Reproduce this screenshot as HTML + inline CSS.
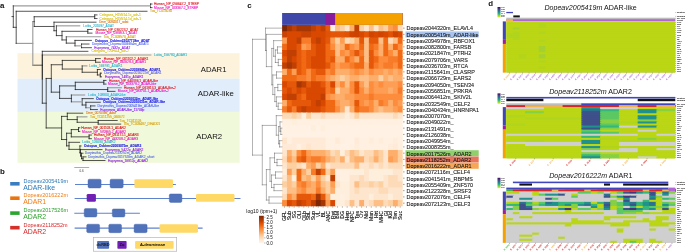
<!DOCTYPE html>
<html><head><meta charset="utf-8"><title>figure</title>
<style>html,body{margin:0;padding:0;background:#fff;overflow:hidden}svg{display:block;filter:blur(0.38px)}</style></head>
<body>
<svg width="685" height="252" viewBox="0 0 685 252">
<rect width="685" height="252" fill="#fff"/>
<rect x="17.5" y="53.2" width="222.1" height="25.5" fill="#fdf3dd"/>
<rect x="17.5" y="78.7" width="222.1" height="33.2" fill="#e1edfa"/>
<rect x="17.5" y="111.9" width="222.1" height="50.9" fill="#f0f9d9"/>
<line x1="150.50" y1="4.00" x2="152.00" y2="4.00" stroke="#151515" stroke-width="0.72" stroke-linecap="square"/>
<line x1="150.50" y1="7.64" x2="152.00" y2="7.64" stroke="#151515" stroke-width="0.72" stroke-linecap="square"/>
<line x1="150.50" y1="4.00" x2="150.50" y2="7.64" stroke="#151515" stroke-width="0.72" stroke-linecap="square"/>
<line x1="13.30" y1="5.82" x2="150.50" y2="5.82" stroke="#9c9c9c" stroke-width="1.15" stroke-linecap="square"/>
<line x1="16.20" y1="11.28" x2="147.00" y2="11.28" stroke="#151515" stroke-width="0.72" stroke-linecap="square"/>
<line x1="94.70" y1="14.92" x2="97.00" y2="14.92" stroke="#151515" stroke-width="0.72" stroke-linecap="square"/>
<line x1="94.70" y1="18.56" x2="97.00" y2="18.56" stroke="#151515" stroke-width="0.72" stroke-linecap="square"/>
<line x1="94.70" y1="14.92" x2="94.70" y2="18.56" stroke="#151515" stroke-width="0.72" stroke-linecap="square"/>
<line x1="34.20" y1="16.74" x2="94.70" y2="16.74" stroke="#151515" stroke-width="0.72" stroke-linecap="square"/>
<line x1="54.00" y1="22.20" x2="96.00" y2="22.20" stroke="#151515" stroke-width="0.72" stroke-linecap="square"/>
<line x1="56.40" y1="25.84" x2="79.70" y2="25.84" stroke="#9c9c9c" stroke-width="1.15" stroke-linecap="square"/>
<line x1="87.80" y1="29.48" x2="92.00" y2="29.48" stroke="#151515" stroke-width="0.72" stroke-linecap="square"/>
<line x1="87.80" y1="33.12" x2="92.00" y2="33.12" stroke="#151515" stroke-width="0.72" stroke-linecap="square"/>
<line x1="87.80" y1="29.48" x2="87.80" y2="33.12" stroke="#151515" stroke-width="0.72" stroke-linecap="square"/>
<line x1="62.00" y1="31.30" x2="87.80" y2="31.30" stroke="#151515" stroke-width="0.72" stroke-linecap="square"/>
<line x1="66.30" y1="36.76" x2="100.70" y2="36.76" stroke="#9c9c9c" stroke-width="1.15" stroke-linecap="square"/>
<line x1="75.00" y1="40.40" x2="91.40" y2="40.40" stroke="#151515" stroke-width="0.72" stroke-linecap="square"/>
<line x1="81.50" y1="44.04" x2="89.00" y2="44.04" stroke="#151515" stroke-width="0.72" stroke-linecap="square"/>
<line x1="81.50" y1="47.68" x2="91.40" y2="47.68" stroke="#151515" stroke-width="0.72" stroke-linecap="square"/>
<line x1="81.50" y1="44.04" x2="81.50" y2="47.68" stroke="#151515" stroke-width="0.72" stroke-linecap="square"/>
<line x1="75.00" y1="45.86" x2="81.50" y2="45.86" stroke="#9c9c9c" stroke-width="1.15" stroke-linecap="square"/>
<line x1="75.00" y1="40.40" x2="75.00" y2="45.86" stroke="#151515" stroke-width="0.72" stroke-linecap="square"/>
<line x1="66.30" y1="43.13" x2="75.00" y2="43.13" stroke="#151515" stroke-width="0.72" stroke-linecap="square"/>
<line x1="66.30" y1="36.76" x2="66.30" y2="43.13" stroke="#151515" stroke-width="0.72" stroke-linecap="square"/>
<line x1="62.00" y1="39.94" x2="66.30" y2="39.94" stroke="#151515" stroke-width="0.72" stroke-linecap="square"/>
<line x1="62.00" y1="31.30" x2="62.00" y2="39.94" stroke="#151515" stroke-width="0.72" stroke-linecap="square"/>
<line x1="56.40" y1="35.62" x2="62.00" y2="35.62" stroke="#151515" stroke-width="0.72" stroke-linecap="square"/>
<line x1="56.40" y1="25.84" x2="56.40" y2="35.62" stroke="#151515" stroke-width="0.72" stroke-linecap="square"/>
<line x1="54.00" y1="30.73" x2="56.40" y2="30.73" stroke="#151515" stroke-width="0.72" stroke-linecap="square"/>
<line x1="54.00" y1="22.20" x2="54.00" y2="30.73" stroke="#151515" stroke-width="0.72" stroke-linecap="square"/>
<line x1="34.20" y1="26.47" x2="54.00" y2="26.47" stroke="#151515" stroke-width="0.72" stroke-linecap="square"/>
<line x1="34.20" y1="16.74" x2="34.20" y2="26.47" stroke="#151515" stroke-width="0.72" stroke-linecap="square"/>
<line x1="32.80" y1="21.60" x2="34.20" y2="21.60" stroke="#151515" stroke-width="0.72" stroke-linecap="square"/>
<line x1="42.30" y1="51.32" x2="87.90" y2="51.32" stroke="#151515" stroke-width="0.72" stroke-linecap="square"/>
<line x1="42.30" y1="54.96" x2="150.80" y2="54.96" stroke="#9c9c9c" stroke-width="1.15" stroke-linecap="square"/>
<line x1="95.60" y1="58.60" x2="100.30" y2="58.60" stroke="#151515" stroke-width="0.72" stroke-linecap="square"/>
<line x1="95.60" y1="62.24" x2="100.30" y2="62.24" stroke="#151515" stroke-width="0.72" stroke-linecap="square"/>
<line x1="95.60" y1="58.60" x2="95.60" y2="62.24" stroke="#151515" stroke-width="0.72" stroke-linecap="square"/>
<line x1="62.30" y1="60.42" x2="95.60" y2="60.42" stroke="#151515" stroke-width="0.72" stroke-linecap="square"/>
<line x1="82.20" y1="65.88" x2="86.90" y2="65.88" stroke="#9c9c9c" stroke-width="1.15" stroke-linecap="square"/>
<line x1="97.40" y1="69.52" x2="100.30" y2="69.52" stroke="#151515" stroke-width="0.72" stroke-linecap="square"/>
<line x1="100.30" y1="73.16" x2="101.50" y2="73.16" stroke="#151515" stroke-width="0.72" stroke-linecap="square"/>
<line x1="100.30" y1="76.80" x2="101.50" y2="76.80" stroke="#151515" stroke-width="0.72" stroke-linecap="square"/>
<line x1="100.30" y1="73.16" x2="100.30" y2="76.80" stroke="#151515" stroke-width="0.72" stroke-linecap="square"/>
<line x1="97.40" y1="74.98" x2="100.30" y2="74.98" stroke="#151515" stroke-width="0.72" stroke-linecap="square"/>
<line x1="97.40" y1="69.52" x2="97.40" y2="74.98" stroke="#151515" stroke-width="0.72" stroke-linecap="square"/>
<line x1="82.20" y1="72.25" x2="97.40" y2="72.25" stroke="#151515" stroke-width="0.72" stroke-linecap="square"/>
<line x1="82.20" y1="65.88" x2="82.20" y2="72.25" stroke="#151515" stroke-width="0.72" stroke-linecap="square"/>
<line x1="62.30" y1="69.06" x2="82.20" y2="69.06" stroke="#151515" stroke-width="0.72" stroke-linecap="square"/>
<line x1="62.30" y1="60.42" x2="62.30" y2="69.06" stroke="#151515" stroke-width="0.72" stroke-linecap="square"/>
<line x1="51.30" y1="64.74" x2="62.30" y2="64.74" stroke="#151515" stroke-width="0.72" stroke-linecap="square"/>
<line x1="103.80" y1="80.44" x2="106.00" y2="80.44" stroke="#151515" stroke-width="0.72" stroke-linecap="square"/>
<line x1="103.80" y1="84.08" x2="106.00" y2="84.08" stroke="#151515" stroke-width="0.72" stroke-linecap="square"/>
<line x1="103.80" y1="80.44" x2="103.80" y2="84.08" stroke="#151515" stroke-width="0.72" stroke-linecap="square"/>
<line x1="75.30" y1="82.26" x2="103.80" y2="82.26" stroke="#151515" stroke-width="0.72" stroke-linecap="square"/>
<line x1="107.70" y1="87.72" x2="121.30" y2="87.72" stroke="#9c9c9c" stroke-width="1.15" stroke-linecap="square"/>
<line x1="107.70" y1="91.36" x2="115.00" y2="91.36" stroke="#151515" stroke-width="0.72" stroke-linecap="square"/>
<line x1="107.70" y1="87.72" x2="107.70" y2="91.36" stroke="#151515" stroke-width="0.72" stroke-linecap="square"/>
<line x1="75.30" y1="89.54" x2="107.70" y2="89.54" stroke="#151515" stroke-width="0.72" stroke-linecap="square"/>
<line x1="75.30" y1="82.26" x2="75.30" y2="89.54" stroke="#151515" stroke-width="0.72" stroke-linecap="square"/>
<line x1="59.60" y1="85.90" x2="75.30" y2="85.90" stroke="#151515" stroke-width="0.72" stroke-linecap="square"/>
<line x1="71.40" y1="95.00" x2="84.60" y2="95.00" stroke="#9c9c9c" stroke-width="1.15" stroke-linecap="square"/>
<line x1="82.20" y1="98.64" x2="93.30" y2="98.64" stroke="#151515" stroke-width="0.72" stroke-linecap="square"/>
<line x1="85.90" y1="102.28" x2="100.30" y2="102.28" stroke="#151515" stroke-width="0.72" stroke-linecap="square"/>
<line x1="90.60" y1="105.92" x2="95.00" y2="105.92" stroke="#151515" stroke-width="0.72" stroke-linecap="square"/>
<line x1="90.60" y1="109.56" x2="97.40" y2="109.56" stroke="#151515" stroke-width="0.72" stroke-linecap="square"/>
<line x1="90.60" y1="105.92" x2="90.60" y2="109.56" stroke="#151515" stroke-width="0.72" stroke-linecap="square"/>
<line x1="85.90" y1="107.74" x2="90.60" y2="107.74" stroke="#9c9c9c" stroke-width="1.15" stroke-linecap="square"/>
<line x1="85.90" y1="102.28" x2="85.90" y2="107.74" stroke="#151515" stroke-width="0.72" stroke-linecap="square"/>
<line x1="82.20" y1="105.01" x2="85.90" y2="105.01" stroke="#151515" stroke-width="0.72" stroke-linecap="square"/>
<line x1="82.20" y1="98.64" x2="82.20" y2="105.01" stroke="#151515" stroke-width="0.72" stroke-linecap="square"/>
<line x1="71.40" y1="101.83" x2="82.20" y2="101.83" stroke="#9c9c9c" stroke-width="1.15" stroke-linecap="square"/>
<line x1="71.40" y1="95.00" x2="71.40" y2="101.83" stroke="#151515" stroke-width="0.72" stroke-linecap="square"/>
<line x1="59.60" y1="98.41" x2="71.40" y2="98.41" stroke="#151515" stroke-width="0.72" stroke-linecap="square"/>
<line x1="59.60" y1="85.90" x2="59.60" y2="98.41" stroke="#151515" stroke-width="0.72" stroke-linecap="square"/>
<line x1="51.30" y1="92.16" x2="59.60" y2="92.16" stroke="#151515" stroke-width="0.72" stroke-linecap="square"/>
<line x1="51.30" y1="64.74" x2="51.30" y2="92.16" stroke="#151515" stroke-width="0.72" stroke-linecap="square"/>
<line x1="46.20" y1="78.45" x2="51.30" y2="78.45" stroke="#151515" stroke-width="0.72" stroke-linecap="square"/>
<line x1="67.30" y1="113.20" x2="82.70" y2="113.20" stroke="#151515" stroke-width="0.72" stroke-linecap="square"/>
<line x1="77.20" y1="116.84" x2="86.90" y2="116.84" stroke="#9c9c9c" stroke-width="1.15" stroke-linecap="square"/>
<line x1="98.20" y1="120.48" x2="117.20" y2="120.48" stroke="#151515" stroke-width="0.72" stroke-linecap="square"/>
<line x1="98.20" y1="124.12" x2="120.70" y2="124.12" stroke="#151515" stroke-width="0.72" stroke-linecap="square"/>
<line x1="98.20" y1="120.48" x2="98.20" y2="124.12" stroke="#151515" stroke-width="0.72" stroke-linecap="square"/>
<line x1="77.20" y1="122.30" x2="98.20" y2="122.30" stroke="#151515" stroke-width="0.72" stroke-linecap="square"/>
<line x1="77.20" y1="116.84" x2="77.20" y2="122.30" stroke="#151515" stroke-width="0.72" stroke-linecap="square"/>
<line x1="67.30" y1="119.57" x2="77.20" y2="119.57" stroke="#151515" stroke-width="0.72" stroke-linecap="square"/>
<line x1="67.30" y1="113.20" x2="67.30" y2="119.57" stroke="#151515" stroke-width="0.72" stroke-linecap="square"/>
<line x1="61.60" y1="116.39" x2="67.30" y2="116.39" stroke="#151515" stroke-width="0.72" stroke-linecap="square"/>
<line x1="78.50" y1="127.76" x2="79.80" y2="127.76" stroke="#151515" stroke-width="0.72" stroke-linecap="square"/>
<line x1="78.50" y1="131.40" x2="79.80" y2="131.40" stroke="#151515" stroke-width="0.72" stroke-linecap="square"/>
<line x1="78.50" y1="127.76" x2="78.50" y2="131.40" stroke="#151515" stroke-width="0.72" stroke-linecap="square"/>
<line x1="71.30" y1="129.58" x2="78.50" y2="129.58" stroke="#151515" stroke-width="0.72" stroke-linecap="square"/>
<line x1="89.10" y1="135.04" x2="91.40" y2="135.04" stroke="#151515" stroke-width="0.72" stroke-linecap="square"/>
<line x1="89.10" y1="138.68" x2="91.40" y2="138.68" stroke="#151515" stroke-width="0.72" stroke-linecap="square"/>
<line x1="89.10" y1="135.04" x2="89.10" y2="138.68" stroke="#151515" stroke-width="0.72" stroke-linecap="square"/>
<line x1="71.30" y1="136.86" x2="89.10" y2="136.86" stroke="#151515" stroke-width="0.72" stroke-linecap="square"/>
<line x1="71.30" y1="129.58" x2="71.30" y2="136.86" stroke="#151515" stroke-width="0.72" stroke-linecap="square"/>
<line x1="66.60" y1="133.22" x2="71.30" y2="133.22" stroke="#151515" stroke-width="0.72" stroke-linecap="square"/>
<line x1="69.00" y1="142.32" x2="79.60" y2="142.32" stroke="#151515" stroke-width="0.72" stroke-linecap="square"/>
<line x1="79.90" y1="145.96" x2="81.00" y2="145.96" stroke="#151515" stroke-width="0.72" stroke-linecap="square"/>
<line x1="80.50" y1="149.60" x2="102.00" y2="149.60" stroke="#151515" stroke-width="0.72" stroke-linecap="square"/>
<line x1="81.50" y1="153.24" x2="83.00" y2="153.24" stroke="#151515" stroke-width="0.72" stroke-linecap="square"/>
<line x1="83.00" y1="156.88" x2="86.00" y2="156.88" stroke="#151515" stroke-width="0.72" stroke-linecap="square"/>
<line x1="83.00" y1="160.52" x2="105.00" y2="160.52" stroke="#151515" stroke-width="0.72" stroke-linecap="square"/>
<line x1="83.00" y1="156.88" x2="83.00" y2="160.52" stroke="#151515" stroke-width="0.72" stroke-linecap="square"/>
<line x1="81.50" y1="158.70" x2="83.00" y2="158.70" stroke="#151515" stroke-width="0.72" stroke-linecap="square"/>
<line x1="81.50" y1="153.24" x2="81.50" y2="158.70" stroke="#151515" stroke-width="0.72" stroke-linecap="square"/>
<line x1="80.50" y1="155.97" x2="81.50" y2="155.97" stroke="#151515" stroke-width="0.72" stroke-linecap="square"/>
<line x1="80.50" y1="149.60" x2="80.50" y2="155.97" stroke="#151515" stroke-width="0.72" stroke-linecap="square"/>
<line x1="79.90" y1="152.78" x2="80.50" y2="152.78" stroke="#151515" stroke-width="0.72" stroke-linecap="square"/>
<line x1="79.90" y1="145.96" x2="79.90" y2="152.78" stroke="#151515" stroke-width="0.72" stroke-linecap="square"/>
<line x1="69.00" y1="149.37" x2="79.90" y2="149.37" stroke="#151515" stroke-width="0.72" stroke-linecap="square"/>
<line x1="69.00" y1="142.32" x2="69.00" y2="149.37" stroke="#151515" stroke-width="0.72" stroke-linecap="square"/>
<line x1="66.60" y1="145.85" x2="69.00" y2="145.85" stroke="#151515" stroke-width="0.72" stroke-linecap="square"/>
<line x1="66.60" y1="133.22" x2="66.60" y2="145.85" stroke="#151515" stroke-width="0.72" stroke-linecap="square"/>
<line x1="61.60" y1="139.53" x2="66.60" y2="139.53" stroke="#151515" stroke-width="0.72" stroke-linecap="square"/>
<line x1="61.60" y1="116.39" x2="61.60" y2="139.53" stroke="#151515" stroke-width="0.72" stroke-linecap="square"/>
<line x1="46.20" y1="127.96" x2="61.60" y2="127.96" stroke="#151515" stroke-width="0.72" stroke-linecap="square"/>
<line x1="46.20" y1="78.45" x2="46.20" y2="127.96" stroke="#151515" stroke-width="0.72" stroke-linecap="square"/>
<line x1="42.30" y1="103.20" x2="46.20" y2="103.20" stroke="#151515" stroke-width="0.72" stroke-linecap="square"/>
<line x1="42.30" y1="54.96" x2="42.30" y2="103.20" stroke="#151515" stroke-width="0.72" stroke-linecap="square"/>
<line x1="42.30" y1="51.32" x2="42.30" y2="79.08" stroke="#151515" stroke-width="0.72" stroke-linecap="square"/>
<line x1="32.80" y1="65.20" x2="42.30" y2="65.20" stroke="#151515" stroke-width="0.72" stroke-linecap="square"/>
<line x1="32.80" y1="21.60" x2="32.80" y2="65.20" stroke="#9c9c9c" stroke-width="1.15" stroke-linecap="square"/>
<line x1="16.20" y1="43.40" x2="32.80" y2="43.40" stroke="#9c9c9c" stroke-width="1.15" stroke-linecap="square"/>
<line x1="16.20" y1="11.28" x2="16.20" y2="43.40" stroke="#151515" stroke-width="0.72" stroke-linecap="square"/>
<line x1="13.30" y1="27.34" x2="16.20" y2="27.34" stroke="#151515" stroke-width="0.72" stroke-linecap="square"/>
<line x1="13.30" y1="5.82" x2="13.30" y2="27.34" stroke="#151515" stroke-width="0.72" stroke-linecap="square"/>
<line x1="12.00" y1="16.58" x2="13.30" y2="16.58" stroke="#151515" stroke-width="0.72" stroke-linecap="square"/>
<text x="154" y="5.10" font-size="3.25" fill="#e0141e" stroke="#e0141e" stroke-width="0.1" font-family="Liberation Sans, sans-serif">Human_NP_056647.2_STRBP</text>
<text x="154" y="8.74" font-size="3.25" fill="#e81cc4" stroke="#e81cc4" stroke-width="0.1" font-family="Liberation Sans, sans-serif">Mouse_NP_033367.2_STRBP</text>
<text x="150" y="12.38" font-size="3.25" fill="#d9a514" stroke="#d9a514" stroke-width="0.1" font-family="Liberation Sans, sans-serif">Tca_TC013030</text>
<text x="99.6" y="16.02" font-size="3.25" fill="#d8c41a" stroke="#d8c41a" stroke-width="0.1" font-family="Liberation Sans, sans-serif">Celegans_H15N14.1c_adr-1</text>
<text x="99.6" y="19.66" font-size="3.25" fill="#d8c41a" stroke="#d8c41a" stroke-width="0.1" font-family="Liberation Sans, sans-serif">Celegans_H15N14.1d_adr-1</text>
<text x="99" y="23.30" font-size="3.25" fill="#e0802a" stroke="#e0802a" stroke-width="0.1" font-family="Liberation Sans, sans-serif">Dme_0084017_adat</text>
<text x="83.2" y="26.94" font-size="3.25" fill="#2fb6cf" stroke="#2fb6cf" stroke-width="0.1" font-family="Liberation Sans, sans-serif">Lottia_201097_ADAT</text>
<text x="96" y="30.58" font-size="3.25" fill="#e0141e" stroke="#e0141e" stroke-width="0.1" font-family="Liberation Sans, sans-serif">Human_NP_036223.2_ADAT</text>
<text x="95.5" y="34.22" font-size="3.25" fill="#e81cc4" stroke="#e81cc4" stroke-width="0.1" font-family="Liberation Sans, sans-serif">Mouse_NP_038953.1_ADAT</text>
<text x="103.7" y="37.86" font-size="3.25" fill="#d9a514" stroke="#d9a514" stroke-width="0.1" font-family="Liberation Sans, sans-serif">Tca_TC009570_ADAT</text>
<text x="94.9" y="41.50" font-size="3.25" font-weight="bold" fill="#1c1ce6" stroke="#1c1ce6" stroke-width="0.1" font-family="Liberation Sans, sans-serif">Octopus_Ocbimv22027738m_ADAT</text>
<text x="92" y="45.14" font-size="3.25" fill="#5a6ee6" stroke="#5a6ee6" stroke-width="0.1" font-family="Liberation Sans, sans-serif">Doryteuthis_Dopeav2006654m_ADAT1</text>
<text x="94.3" y="48.78" font-size="3.25" fill="#8e1ee0" stroke="#8e1ee0" stroke-width="0.1" font-family="Liberation Sans, sans-serif">Euprymna_7432p_ADAT</text>
<text x="91.4" y="52.42" font-size="3.25" fill="#d8c41a" stroke="#d8c41a" stroke-width="0.1" font-family="Liberation Sans, sans-serif">Celegans_T20H4.4_adr-2</text>
<text x="153.9" y="56.06" font-size="3.25" fill="#2fb6cf" stroke="#2fb6cf" stroke-width="0.1" font-family="Liberation Sans, sans-serif">Lottia_156780_ADAR1</text>
<text x="103.8" y="59.70" font-size="3.25" fill="#e0141e" stroke="#e0141e" stroke-width="0.1" font-family="Liberation Sans, sans-serif">Human_NP_001102.2_ADAR1</text>
<text x="102" y="63.34" font-size="3.25" fill="#e81cc4" stroke="#e81cc4" stroke-width="0.1" font-family="Liberation Sans, sans-serif">Mouse_NP_062629.3_ADAR1</text>
<text x="89.2" y="66.98" font-size="3.25" fill="#2fb6cf" stroke="#2fb6cf" stroke-width="0.1" font-family="Liberation Sans, sans-serif">Lottia_169791_ADAR1</text>
<text x="103.2" y="70.62" font-size="3.25" font-weight="bold" fill="#1c1ce6" stroke="#1c1ce6" stroke-width="0.1" font-family="Liberation Sans, sans-serif">Octopus_Ocbimv22018842m_ADAR1</text>
<text x="104.2" y="74.26" font-size="3.25" fill="#5a6ee6" stroke="#5a6ee6" stroke-width="0.1" font-family="Liberation Sans, sans-serif">Doryteuthis_Dopeav2016222m_ADAR1</text>
<text x="105" y="77.90" font-size="3.25" fill="#8e1ee0" stroke="#8e1ee0" stroke-width="0.1" font-family="Liberation Sans, sans-serif">Euprymna_1491p_ADAR1</text>
<text x="109" y="81.54" font-size="3.25" fill="#e0141e" stroke="#e0141e" stroke-width="0.1" font-family="Liberation Sans, sans-serif">Human_NP_640336.1_ADAR-like</text>
<text x="108" y="85.18" font-size="3.25" fill="#e81cc4" stroke="#e81cc4" stroke-width="0.1" font-family="Liberation Sans, sans-serif">Mouse_NP_033379.2_ADAR-like</text>
<text x="124" y="88.82" font-size="3.25" fill="#e0141e" stroke="#e0141e" stroke-width="0.1" font-family="Liberation Sans, sans-serif">Human_NP_061913.3_ADAR-like-2</text>
<text x="117.8" y="92.46" font-size="3.25" fill="#e81cc4" stroke="#e81cc4" stroke-width="0.1" font-family="Liberation Sans, sans-serif">Mouse_NP_083701.1_ADAR-like-2</text>
<text x="88.1" y="96.10" font-size="3.25" fill="#2fb6cf" stroke="#2fb6cf" stroke-width="0.1" font-family="Liberation Sans, sans-serif">Lottia_108800_ADAR-like</text>
<text x="96.2" y="99.74" font-size="3.25" font-weight="bold" fill="#1c1ce6" stroke="#1c1ce6" stroke-width="0.1" font-family="Liberation Sans, sans-serif">Octopus_Ocbimv22010032m_ADAR-like</text>
<text x="103.2" y="103.38" font-size="3.25" font-weight="bold" fill="#1c1ce6" stroke="#1c1ce6" stroke-width="0.1" font-family="Liberation Sans, sans-serif">Octopus_Ocbimv22010031m_ADAR-like</text>
<text x="97.4" y="107.02" font-size="3.25" fill="#5a6ee6" stroke="#5a6ee6" stroke-width="0.1" font-family="Liberation Sans, sans-serif">Doryteuthis_Dopeav2005419m_ADAR-like</text>
<text x="100.3" y="110.66" font-size="3.25" fill="#8e1ee0" stroke="#8e1ee0" stroke-width="0.1" font-family="Liberation Sans, sans-serif">Euprymna_ADAR-like_11709p</text>
<text x="86" y="114.30" font-size="3.25" fill="#e0802a" stroke="#e0802a" stroke-width="0.1" font-family="Liberation Sans, sans-serif">Dme_0070396_Adar</text>
<text x="90.1" y="117.94" font-size="3.25" fill="#d9a514" stroke="#d9a514" stroke-width="0.1" font-family="Liberation Sans, sans-serif">Tca_TC011255_060672</text>
<text x="119.8" y="121.58" font-size="3.25" fill="#d9a514" stroke="#d9a514" stroke-width="0.1" font-family="Liberation Sans, sans-serif">Tca_TC011126</text>
<text x="123.7" y="125.22" font-size="3.25" fill="#d9a514" stroke="#d9a514" stroke-width="0.1" font-family="Liberation Sans, sans-serif">Tca_TC009497_DEAD01</text>
<text x="81.2" y="128.86" font-size="3.25" fill="#e0141e" stroke="#e0141e" stroke-width="0.1" font-family="Liberation Sans, sans-serif">Human_NP_001103.1_ADAR2</text>
<text x="82" y="132.50" font-size="3.25" fill="#e81cc4" stroke="#e81cc4" stroke-width="0.1" font-family="Liberation Sans, sans-serif">Mouse_NP_570965.2_ADAR2</text>
<text x="94" y="136.14" font-size="3.25" fill="#e0141e" stroke="#e0141e" stroke-width="0.1" font-family="Liberation Sans, sans-serif">Human_NP_061172.1_ADAR3</text>
<text x="94" y="139.78" font-size="3.25" fill="#e81cc4" stroke="#e81cc4" stroke-width="0.1" font-family="Liberation Sans, sans-serif">Mouse_NP_443209.2_ADAR3</text>
<text x="82.2" y="143.42" font-size="3.25" fill="#2fb6cf" stroke="#2fb6cf" stroke-width="0.1" font-family="Liberation Sans, sans-serif">Lottia_126080_ADAR2</text>
<text x="84" y="147.06" font-size="3.25" font-weight="bold" fill="#1c1ce6" stroke="#1c1ce6" stroke-width="0.1" font-family="Liberation Sans, sans-serif">Octopus_Ocbimv22009075m_ADAR2</text>
<text x="105" y="150.70" font-size="3.25" fill="#8e1ee0" stroke="#8e1ee0" stroke-width="0.1" font-family="Liberation Sans, sans-serif">Euprymna_5422p_ADAR2</text>
<text x="84.8" y="154.34" font-size="3.25" fill="#5a6ee6" stroke="#5a6ee6" stroke-width="0.1" font-family="Liberation Sans, sans-serif">Doryteuthis_Dopeav2118252m_ADAR2</text>
<text x="88" y="157.98" font-size="3.25" fill="#5a6ee6" stroke="#5a6ee6" stroke-width="0.1" font-family="Liberation Sans, sans-serif">Doryteuthis_Dopeav2017526m_ADAR2_short</text>
<text x="107.9" y="161.62" font-size="3.25" fill="#8e1ee0" stroke="#8e1ee0" stroke-width="0.1" font-family="Liberation Sans, sans-serif">Euprymna_16812p_ADAR2</text>
<text x="200.8" y="71.9" font-size="7.7" fill="#111" font-family="Liberation Sans, sans-serif">ADAR1</text>
<text x="197.8" y="95.7" font-size="7.8" fill="#111" font-family="Liberation Sans, sans-serif">ADAR-like</text>
<text x="196.2" y="138.9" font-size="7.8" fill="#111" font-family="Liberation Sans, sans-serif">ADAR2</text>
<text x="0" y="8.2" font-size="7.9" font-weight="bold" fill="#111" font-family="Liberation Sans, sans-serif">a</text>
<text x="0" y="173.6" font-size="7.9" font-weight="bold" fill="#111" font-family="Liberation Sans, sans-serif">b</text>
<text x="247.2" y="8.2" font-size="7.9" font-weight="bold" fill="#111" font-family="Liberation Sans, sans-serif">c</text>
<text x="488.2" y="6.2" font-size="7.9" font-weight="bold" fill="#111" font-family="Liberation Sans, sans-serif">d</text>
<line x1="74.3" y1="167.5" x2="89.2" y2="167.5" stroke="#8a8a8a" stroke-width="0.7"/>
<text x="81.6" y="172" font-size="3.0" text-anchor="middle" fill="#333" font-family="Liberation Sans, sans-serif">0.6</text>
<rect x="10.2" y="182.0" width="9.4" height="3.6" fill="#3a7ec2"/>
<text x="23.5" y="183.0" font-size="5.45" fill="#2878b8" font-family="Liberation Sans, sans-serif">Dopeav2005419m</text>
<text x="23.2" y="189.8" font-size="6.9" fill="#2878b8" font-family="Liberation Sans, sans-serif">ADAR-like</text>
<rect x="10.2" y="196.4" width="9.4" height="3.6" fill="#ea740e"/>
<text x="23.5" y="197.4" font-size="5.45" fill="#f07c10" font-family="Liberation Sans, sans-serif">Dopeav2016222m</text>
<text x="23.2" y="204.2" font-size="6.9" fill="#f07c10" font-family="Liberation Sans, sans-serif">ADAR1</text>
<rect x="10.2" y="211.3" width="9.4" height="3.6" fill="#2aa62e"/>
<text x="23.5" y="212.3" font-size="5.45" fill="#2ca02c" font-family="Liberation Sans, sans-serif">Dopeav2017526m</text>
<text x="23.2" y="219.1" font-size="6.9" fill="#2ca02c" font-family="Liberation Sans, sans-serif">ADAR2</text>
<rect x="10.2" y="225.9" width="9.4" height="3.6" fill="#d6302a"/>
<text x="23.5" y="226.9" font-size="5.45" fill="#d62728" font-family="Liberation Sans, sans-serif">Dopeav2118252m</text>
<text x="23.2" y="233.7" font-size="6.9" fill="#d62728" font-family="Liberation Sans, sans-serif">ADAR2</text>
<line x1="75" y1="184.5" x2="175.9" y2="184.5" stroke="#5f82cf" stroke-width="1.1"/>
<rect x="88" y="179.2" width="13.1" height="8.8" rx="1.4" fill="#4f72ba" stroke="#4565a8" stroke-width="0.4"/>
<rect x="110.1" y="179.2" width="13.1" height="8.8" rx="1.4" fill="#4f72ba" stroke="#4565a8" stroke-width="0.4"/>
<rect x="134.4" y="179.2" width="38.6" height="8.8" rx="1.4" fill="#ffd966"/>
<line x1="74.6" y1="198.5" x2="240.5" y2="198.5" stroke="#5f82cf" stroke-width="1.1"/>
<rect x="86.7" y="193.9" width="9.2" height="7.9" rx="1.4" fill="#7020b2"/>
<rect x="169.3" y="193.9" width="12.6" height="8.5" rx="1.4" fill="#4f72ba" stroke="#4565a8" stroke-width="0.4"/>
<rect x="196" y="193.9" width="38.5" height="7.9" rx="1.4" fill="#ffd966"/>
<line x1="74.3" y1="213.3" x2="139.9" y2="213.3" stroke="#5f82cf" stroke-width="1.1"/>
<rect x="84.2" y="208.6" width="12.7" height="8.4" rx="1.4" fill="#4f72ba" stroke="#4565a8" stroke-width="0.4"/>
<rect x="112.3" y="208.9" width="12.6" height="8.1" rx="1.4" fill="#4f72ba" stroke="#4565a8" stroke-width="0.4"/>
<line x1="74.6" y1="228.1" x2="202.6" y2="228.1" stroke="#5f82cf" stroke-width="1.1"/>
<rect x="86.7" y="224.2" width="12.9" height="8.5" rx="1.4" fill="#4f72ba" stroke="#4565a8" stroke-width="0.4"/>
<rect x="108.8" y="224.2" width="12.7" height="8.5" rx="1.4" fill="#4f72ba" stroke="#4565a8" stroke-width="0.4"/>
<rect x="134.1" y="224.2" width="13.0" height="8.5" rx="1.4" fill="#4f72ba" stroke="#4565a8" stroke-width="0.4"/>
<rect x="159.5" y="224.2" width="38.5" height="8.5" rx="1.4" fill="#ffd966"/>
<rect x="93.3" y="237.3" width="83.4" height="13.9" fill="#fff" stroke="#a8a8a8" stroke-width="0.6"/>
<rect x="97.1" y="241" width="12" height="7.7" rx="0.8" fill="#4f72ba"/>
<text x="103.1" y="246.3" font-size="3.9" font-weight="bold" text-anchor="middle" fill="#1a1a2a" font-family="Liberation Sans, sans-serif">dsRBD</text>
<rect x="117.4" y="241" width="9.2" height="7.7" rx="0.8" fill="#7020b2"/>
<text x="122" y="246.3" font-size="3.9" font-weight="bold" text-anchor="middle" fill="#1a0a2a" font-family="Liberation Sans, sans-serif">Zα</text>
<rect x="135.1" y="241" width="38.5" height="7.7" rx="0.8" fill="#ffd966"/>
<text x="152.6" y="246.4" font-size="4.3" text-anchor="middle" fill="#111" stroke="#111" stroke-width="0.1" font-family="Liberation Sans, sans-serif">A-deaminase</text>
<rect x="282.1" y="13" width="120.5" height="11.9" fill="#3f48a8"/>
<rect x="325.48" y="13" width="77.12" height="11.9" fill="#8a1b9a"/>
<rect x="335.12" y="13" width="67.48" height="11.9" fill="#f5a200"/>
<rect x="282.1" y="25.0" width="120.5" height="181.3" fill="#fff5eb"/>
<rect x="282.10" y="25.00" width="5.82" height="7.25" fill="#7f2704"/>
<rect x="286.92" y="25.00" width="5.82" height="7.25" fill="#a63603"/>
<rect x="291.74" y="25.00" width="5.82" height="7.25" fill="#c03f02"/>
<rect x="296.56" y="25.00" width="15.46" height="7.25" fill="#a63603"/>
<rect x="311.02" y="25.00" width="5.82" height="7.25" fill="#c03f02"/>
<rect x="315.84" y="25.00" width="5.82" height="7.25" fill="#d94801"/>
<rect x="320.66" y="25.00" width="5.82" height="7.25" fill="#c03f02"/>
<rect x="325.48" y="25.00" width="5.82" height="7.25" fill="#e5580a"/>
<rect x="330.30" y="25.00" width="5.82" height="7.25" fill="#feeedc"/>
<rect x="335.12" y="25.00" width="5.82" height="7.25" fill="#fdbf86"/>
<rect x="339.94" y="25.00" width="5.82" height="7.25" fill="#fdd0a2"/>
<rect x="344.76" y="25.00" width="5.82" height="7.25" fill="#fee6ce"/>
<rect x="349.58" y="25.00" width="5.82" height="7.25" fill="#fdae6b"/>
<rect x="354.40" y="25.00" width="5.82" height="7.25" fill="#c03f02"/>
<rect x="359.22" y="25.00" width="5.82" height="7.25" fill="#fdd0a2"/>
<rect x="364.04" y="25.00" width="5.82" height="7.25" fill="#fee6ce"/>
<rect x="368.86" y="25.00" width="5.82" height="7.25" fill="#fdbf86"/>
<rect x="373.68" y="25.00" width="5.82" height="7.25" fill="#fee6ce"/>
<rect x="378.50" y="25.00" width="5.82" height="7.25" fill="#fdbf86"/>
<rect x="383.32" y="25.00" width="5.82" height="7.25" fill="#fdd0a2"/>
<rect x="388.14" y="25.00" width="5.82" height="7.25" fill="#fd9e54"/>
<rect x="392.96" y="25.00" width="5.82" height="7.25" fill="#fd8d3c"/>
<rect x="397.78" y="25.00" width="4.82" height="7.25" fill="#fedbb8"/>
<rect x="282.10" y="31.25" width="5.82" height="7.25" fill="#ca4302"/>
<rect x="286.92" y="31.25" width="15.46" height="7.25" fill="#d94801"/>
<rect x="301.38" y="31.25" width="10.64" height="7.25" fill="#ca4302"/>
<rect x="311.02" y="31.25" width="15.46" height="7.25" fill="#d94801"/>
<rect x="325.48" y="31.25" width="5.82" height="7.25" fill="#e05206"/>
<rect x="330.30" y="31.25" width="15.46" height="7.25" fill="#e35508"/>
<rect x="344.76" y="31.25" width="5.82" height="7.25" fill="#e05206"/>
<rect x="349.58" y="31.25" width="5.82" height="7.25" fill="#cf4401"/>
<rect x="354.40" y="31.25" width="5.82" height="7.25" fill="#ca4302"/>
<rect x="359.22" y="31.25" width="5.82" height="7.25" fill="#d94801"/>
<rect x="364.04" y="31.25" width="5.82" height="7.25" fill="#e35508"/>
<rect x="368.86" y="31.25" width="5.82" height="7.25" fill="#cf4401"/>
<rect x="373.68" y="31.25" width="5.82" height="7.25" fill="#d94801"/>
<rect x="378.50" y="31.25" width="5.82" height="7.25" fill="#cf4401"/>
<rect x="383.32" y="31.25" width="5.82" height="7.25" fill="#d94801"/>
<rect x="388.14" y="31.25" width="5.82" height="7.25" fill="#e05206"/>
<rect x="392.96" y="31.25" width="5.82" height="7.25" fill="#ca4302"/>
<rect x="397.78" y="31.25" width="4.82" height="7.25" fill="#d94801"/>
<rect x="282.10" y="37.50" width="5.82" height="7.25" fill="#fd9e54"/>
<rect x="286.92" y="37.50" width="10.64" height="7.25" fill="#d94801"/>
<rect x="296.56" y="37.50" width="5.82" height="7.25" fill="#c03f02"/>
<rect x="301.38" y="37.50" width="10.64" height="7.25" fill="#f77b28"/>
<rect x="311.02" y="37.50" width="5.82" height="7.25" fill="#d94801"/>
<rect x="315.84" y="37.50" width="5.82" height="7.25" fill="#c03f02"/>
<rect x="320.66" y="37.50" width="5.82" height="7.25" fill="#d94801"/>
<rect x="325.48" y="37.50" width="5.82" height="7.25" fill="#e5580a"/>
<rect x="330.30" y="37.50" width="5.82" height="7.25" fill="#fd9e54"/>
<rect x="335.12" y="37.50" width="5.82" height="7.25" fill="#fdd0a2"/>
<rect x="339.94" y="37.50" width="5.82" height="7.25" fill="#fd9e54"/>
<rect x="344.76" y="37.50" width="5.82" height="7.25" fill="#fedbb8"/>
<rect x="349.58" y="37.50" width="5.82" height="7.25" fill="#fdd0a2"/>
<rect x="354.40" y="37.50" width="5.82" height="7.25" fill="#fdae6b"/>
<rect x="359.22" y="37.50" width="5.82" height="7.25" fill="#e5580a"/>
<rect x="364.04" y="37.50" width="5.82" height="7.25" fill="#fdbf86"/>
<rect x="368.86" y="37.50" width="10.64" height="7.25" fill="#e5580a"/>
<rect x="378.50" y="37.50" width="5.82" height="7.25" fill="#fdbf86"/>
<rect x="383.32" y="37.50" width="5.82" height="7.25" fill="#f16913"/>
<rect x="388.14" y="37.50" width="5.82" height="7.25" fill="#fedbb8"/>
<rect x="392.96" y="37.50" width="5.82" height="7.25" fill="#fdbf86"/>
<rect x="397.78" y="37.50" width="4.82" height="7.25" fill="#f16913"/>
<rect x="282.10" y="43.76" width="5.82" height="7.25" fill="#f16913"/>
<rect x="286.92" y="43.76" width="10.64" height="7.25" fill="#d94801"/>
<rect x="296.56" y="43.76" width="5.82" height="7.25" fill="#e5580a"/>
<rect x="301.38" y="43.76" width="5.82" height="7.25" fill="#fd9e54"/>
<rect x="306.20" y="43.76" width="5.82" height="7.25" fill="#fd8d3c"/>
<rect x="311.02" y="43.76" width="5.82" height="7.25" fill="#e5580a"/>
<rect x="315.84" y="43.76" width="10.64" height="7.25" fill="#d94801"/>
<rect x="325.48" y="43.76" width="5.82" height="7.25" fill="#f16913"/>
<rect x="330.30" y="43.76" width="5.82" height="7.25" fill="#fd8d3c"/>
<rect x="335.12" y="43.76" width="5.82" height="7.25" fill="#fdbf86"/>
<rect x="339.94" y="43.76" width="5.82" height="7.25" fill="#fdae6b"/>
<rect x="344.76" y="43.76" width="5.82" height="7.25" fill="#f16913"/>
<rect x="349.58" y="43.76" width="5.82" height="7.25" fill="#fd8d3c"/>
<rect x="354.40" y="43.76" width="5.82" height="7.25" fill="#fd9e54"/>
<rect x="359.22" y="43.76" width="5.82" height="7.25" fill="#f16913"/>
<rect x="364.04" y="43.76" width="5.82" height="7.25" fill="#fdbf86"/>
<rect x="368.86" y="43.76" width="5.82" height="7.25" fill="#f16913"/>
<rect x="373.68" y="43.76" width="5.82" height="7.25" fill="#f77b28"/>
<rect x="378.50" y="43.76" width="5.82" height="7.25" fill="#fdae6b"/>
<rect x="383.32" y="43.76" width="5.82" height="7.25" fill="#f16913"/>
<rect x="388.14" y="43.76" width="5.82" height="7.25" fill="#fdae6b"/>
<rect x="392.96" y="43.76" width="5.82" height="7.25" fill="#f16913"/>
<rect x="397.78" y="43.76" width="4.82" height="7.25" fill="#fd8d3c"/>
<rect x="282.10" y="50.01" width="5.82" height="7.25" fill="#d94801"/>
<rect x="286.92" y="50.01" width="10.64" height="7.25" fill="#c03f02"/>
<rect x="296.56" y="50.01" width="5.82" height="7.25" fill="#e5580a"/>
<rect x="301.38" y="50.01" width="5.82" height="7.25" fill="#f16913"/>
<rect x="306.20" y="50.01" width="10.64" height="7.25" fill="#e5580a"/>
<rect x="315.84" y="50.01" width="10.64" height="7.25" fill="#d94801"/>
<rect x="325.48" y="50.01" width="10.64" height="7.25" fill="#f16913"/>
<rect x="335.12" y="50.01" width="5.82" height="7.25" fill="#fdbf86"/>
<rect x="339.94" y="50.01" width="5.82" height="7.25" fill="#fd8d3c"/>
<rect x="344.76" y="50.01" width="5.82" height="7.25" fill="#fd9e54"/>
<rect x="349.58" y="50.01" width="5.82" height="7.25" fill="#f77b28"/>
<rect x="354.40" y="50.01" width="5.82" height="7.25" fill="#e5580a"/>
<rect x="359.22" y="50.01" width="5.82" height="7.25" fill="#f77b28"/>
<rect x="364.04" y="50.01" width="5.82" height="7.25" fill="#fdbf86"/>
<rect x="368.86" y="50.01" width="5.82" height="7.25" fill="#e5580a"/>
<rect x="373.68" y="50.01" width="5.82" height="7.25" fill="#fd8d3c"/>
<rect x="378.50" y="50.01" width="5.82" height="7.25" fill="#fdae6b"/>
<rect x="383.32" y="50.01" width="5.82" height="7.25" fill="#f16913"/>
<rect x="388.14" y="50.01" width="5.82" height="7.25" fill="#fd8d3c"/>
<rect x="392.96" y="50.01" width="5.82" height="7.25" fill="#fdae6b"/>
<rect x="397.78" y="50.01" width="4.82" height="7.25" fill="#f16913"/>
<rect x="282.10" y="56.26" width="5.82" height="7.25" fill="#e5580a"/>
<rect x="286.92" y="56.26" width="5.82" height="7.25" fill="#c03f02"/>
<rect x="291.74" y="56.26" width="5.82" height="7.25" fill="#d94801"/>
<rect x="296.56" y="56.26" width="5.82" height="7.25" fill="#e5580a"/>
<rect x="301.38" y="56.26" width="5.82" height="7.25" fill="#f16913"/>
<rect x="306.20" y="56.26" width="5.82" height="7.25" fill="#e5580a"/>
<rect x="311.02" y="56.26" width="15.46" height="7.25" fill="#d94801"/>
<rect x="325.48" y="56.26" width="5.82" height="7.25" fill="#f16913"/>
<rect x="330.30" y="56.26" width="5.82" height="7.25" fill="#e5580a"/>
<rect x="335.12" y="56.26" width="10.64" height="7.25" fill="#fdae6b"/>
<rect x="344.76" y="56.26" width="5.82" height="7.25" fill="#f16913"/>
<rect x="349.58" y="56.26" width="5.82" height="7.25" fill="#fd8d3c"/>
<rect x="354.40" y="56.26" width="5.82" height="7.25" fill="#fdae6b"/>
<rect x="359.22" y="56.26" width="5.82" height="7.25" fill="#f16913"/>
<rect x="364.04" y="56.26" width="5.82" height="7.25" fill="#fdbf86"/>
<rect x="368.86" y="56.26" width="5.82" height="7.25" fill="#e5580a"/>
<rect x="373.68" y="56.26" width="5.82" height="7.25" fill="#f16913"/>
<rect x="378.50" y="56.26" width="10.64" height="7.25" fill="#fd8d3c"/>
<rect x="388.14" y="56.26" width="10.64" height="7.25" fill="#f77b28"/>
<rect x="397.78" y="56.26" width="4.82" height="7.25" fill="#f16913"/>
<rect x="282.10" y="62.51" width="5.82" height="7.25" fill="#c03f02"/>
<rect x="286.92" y="62.51" width="5.82" height="7.25" fill="#a63603"/>
<rect x="291.74" y="62.51" width="5.82" height="7.25" fill="#c03f02"/>
<rect x="296.56" y="62.51" width="5.82" height="7.25" fill="#e5580a"/>
<rect x="301.38" y="62.51" width="5.82" height="7.25" fill="#f16913"/>
<rect x="306.20" y="62.51" width="5.82" height="7.25" fill="#e5580a"/>
<rect x="311.02" y="62.51" width="15.46" height="7.25" fill="#d94801"/>
<rect x="325.48" y="62.51" width="5.82" height="7.25" fill="#e5580a"/>
<rect x="330.30" y="62.51" width="5.82" height="7.25" fill="#f77b28"/>
<rect x="335.12" y="62.51" width="5.82" height="7.25" fill="#fd9e54"/>
<rect x="339.94" y="62.51" width="10.64" height="7.25" fill="#fd8d3c"/>
<rect x="349.58" y="62.51" width="5.82" height="7.25" fill="#f77b28"/>
<rect x="354.40" y="62.51" width="10.64" height="7.25" fill="#f16913"/>
<rect x="364.04" y="62.51" width="5.82" height="7.25" fill="#fdae6b"/>
<rect x="368.86" y="62.51" width="5.82" height="7.25" fill="#e5580a"/>
<rect x="373.68" y="62.51" width="5.82" height="7.25" fill="#f77b28"/>
<rect x="378.50" y="62.51" width="5.82" height="7.25" fill="#fd8d3c"/>
<rect x="383.32" y="62.51" width="10.64" height="7.25" fill="#f77b28"/>
<rect x="392.96" y="62.51" width="5.82" height="7.25" fill="#fd8d3c"/>
<rect x="397.78" y="62.51" width="4.82" height="7.25" fill="#f16913"/>
<rect x="282.10" y="68.76" width="5.82" height="7.25" fill="#fdae6b"/>
<rect x="286.92" y="68.76" width="5.82" height="7.25" fill="#f16913"/>
<rect x="291.74" y="68.76" width="5.82" height="7.25" fill="#fd9e54"/>
<rect x="296.56" y="68.76" width="5.82" height="7.25" fill="#e5580a"/>
<rect x="301.38" y="68.76" width="5.82" height="7.25" fill="#f16913"/>
<rect x="306.20" y="68.76" width="5.82" height="7.25" fill="#fd8d3c"/>
<rect x="311.02" y="68.76" width="5.82" height="7.25" fill="#f16913"/>
<rect x="315.84" y="68.76" width="10.64" height="7.25" fill="#e5580a"/>
<rect x="325.48" y="68.76" width="5.82" height="7.25" fill="#fd8d3c"/>
<rect x="330.30" y="68.76" width="5.82" height="7.25" fill="#f77b28"/>
<rect x="335.12" y="68.76" width="15.46" height="7.25" fill="#fdae6b"/>
<rect x="349.58" y="68.76" width="5.82" height="7.25" fill="#fd9e54"/>
<rect x="354.40" y="68.76" width="5.82" height="7.25" fill="#fd8d3c"/>
<rect x="359.22" y="68.76" width="5.82" height="7.25" fill="#fd9e54"/>
<rect x="364.04" y="68.76" width="5.82" height="7.25" fill="#fdae6b"/>
<rect x="368.86" y="68.76" width="5.82" height="7.25" fill="#fd8d3c"/>
<rect x="373.68" y="68.76" width="10.64" height="7.25" fill="#fd9e54"/>
<rect x="383.32" y="68.76" width="5.82" height="7.25" fill="#fdae6b"/>
<rect x="388.14" y="68.76" width="5.82" height="7.25" fill="#fd9e54"/>
<rect x="392.96" y="68.76" width="5.82" height="7.25" fill="#fdae6b"/>
<rect x="397.78" y="68.76" width="4.82" height="7.25" fill="#fd9e54"/>
<rect x="282.10" y="75.01" width="15.46" height="7.25" fill="#f16913"/>
<rect x="296.56" y="75.01" width="10.64" height="7.25" fill="#f77b28"/>
<rect x="306.20" y="75.01" width="5.82" height="7.25" fill="#fd8d3c"/>
<rect x="311.02" y="75.01" width="5.82" height="7.25" fill="#f16913"/>
<rect x="315.84" y="75.01" width="10.64" height="7.25" fill="#f77b28"/>
<rect x="325.48" y="75.01" width="5.82" height="7.25" fill="#fd9e54"/>
<rect x="330.30" y="75.01" width="5.82" height="7.25" fill="#fdae6b"/>
<rect x="335.12" y="75.01" width="5.82" height="7.25" fill="#fdbf86"/>
<rect x="339.94" y="75.01" width="5.82" height="7.25" fill="#fdd0a2"/>
<rect x="344.76" y="75.01" width="5.82" height="7.25" fill="#fdbf86"/>
<rect x="349.58" y="75.01" width="10.64" height="7.25" fill="#fdae6b"/>
<rect x="359.22" y="75.01" width="10.64" height="7.25" fill="#fdbf86"/>
<rect x="368.86" y="75.01" width="10.64" height="7.25" fill="#fdae6b"/>
<rect x="378.50" y="75.01" width="5.82" height="7.25" fill="#fdd0a2"/>
<rect x="383.32" y="75.01" width="5.82" height="7.25" fill="#fdae6b"/>
<rect x="388.14" y="75.01" width="5.82" height="7.25" fill="#fdbf86"/>
<rect x="392.96" y="75.01" width="9.64" height="7.25" fill="#fdae6b"/>
<rect x="282.10" y="81.27" width="5.82" height="7.25" fill="#d94801"/>
<rect x="286.92" y="81.27" width="10.64" height="7.25" fill="#e5580a"/>
<rect x="296.56" y="81.27" width="5.82" height="7.25" fill="#a63603"/>
<rect x="301.38" y="81.27" width="5.82" height="7.25" fill="#c03f02"/>
<rect x="306.20" y="81.27" width="5.82" height="7.25" fill="#e5580a"/>
<rect x="311.02" y="81.27" width="10.64" height="7.25" fill="#d94801"/>
<rect x="320.66" y="81.27" width="5.82" height="7.25" fill="#e5580a"/>
<rect x="325.48" y="81.27" width="5.82" height="7.25" fill="#f77b28"/>
<rect x="330.30" y="81.27" width="5.82" height="7.25" fill="#d94801"/>
<rect x="335.12" y="81.27" width="5.82" height="7.25" fill="#fdae6b"/>
<rect x="339.94" y="81.27" width="5.82" height="7.25" fill="#fd8d3c"/>
<rect x="344.76" y="81.27" width="5.82" height="7.25" fill="#fdbf86"/>
<rect x="349.58" y="81.27" width="5.82" height="7.25" fill="#fd8d3c"/>
<rect x="354.40" y="81.27" width="5.82" height="7.25" fill="#e5580a"/>
<rect x="359.22" y="81.27" width="5.82" height="7.25" fill="#fd9e54"/>
<rect x="364.04" y="81.27" width="5.82" height="7.25" fill="#fdbf86"/>
<rect x="368.86" y="81.27" width="5.82" height="7.25" fill="#fd8d3c"/>
<rect x="373.68" y="81.27" width="5.82" height="7.25" fill="#fd9e54"/>
<rect x="378.50" y="81.27" width="5.82" height="7.25" fill="#fd8d3c"/>
<rect x="383.32" y="81.27" width="15.46" height="7.25" fill="#fd9e54"/>
<rect x="397.78" y="81.27" width="4.82" height="7.25" fill="#fd8d3c"/>
<rect x="282.10" y="87.52" width="5.82" height="7.25" fill="#e5580a"/>
<rect x="286.92" y="87.52" width="5.82" height="7.25" fill="#d94801"/>
<rect x="291.74" y="87.52" width="5.82" height="7.25" fill="#e5580a"/>
<rect x="296.56" y="87.52" width="5.82" height="7.25" fill="#d94801"/>
<rect x="301.38" y="87.52" width="5.82" height="7.25" fill="#e5580a"/>
<rect x="306.20" y="87.52" width="20.28" height="7.25" fill="#d94801"/>
<rect x="325.48" y="87.52" width="5.82" height="7.25" fill="#f77b28"/>
<rect x="330.30" y="87.52" width="5.82" height="7.25" fill="#f16913"/>
<rect x="335.12" y="87.52" width="5.82" height="7.25" fill="#fdd0a2"/>
<rect x="339.94" y="87.52" width="10.64" height="7.25" fill="#fdae6b"/>
<rect x="349.58" y="87.52" width="5.82" height="7.25" fill="#fd8d3c"/>
<rect x="354.40" y="87.52" width="5.82" height="7.25" fill="#e5580a"/>
<rect x="359.22" y="87.52" width="5.82" height="7.25" fill="#fd8d3c"/>
<rect x="364.04" y="87.52" width="5.82" height="7.25" fill="#fdae6b"/>
<rect x="368.86" y="87.52" width="5.82" height="7.25" fill="#fd8d3c"/>
<rect x="373.68" y="87.52" width="15.46" height="7.25" fill="#fd9e54"/>
<rect x="388.14" y="87.52" width="5.82" height="7.25" fill="#fdae6b"/>
<rect x="392.96" y="87.52" width="5.82" height="7.25" fill="#fd9e54"/>
<rect x="397.78" y="87.52" width="4.82" height="7.25" fill="#f77b28"/>
<rect x="282.10" y="93.77" width="5.82" height="7.25" fill="#d94801"/>
<rect x="286.92" y="93.77" width="10.64" height="7.25" fill="#c03f02"/>
<rect x="296.56" y="93.77" width="5.82" height="7.25" fill="#e5580a"/>
<rect x="301.38" y="93.77" width="5.82" height="7.25" fill="#f16913"/>
<rect x="306.20" y="93.77" width="15.46" height="7.25" fill="#d94801"/>
<rect x="320.66" y="93.77" width="5.82" height="7.25" fill="#c03f02"/>
<rect x="325.48" y="93.77" width="5.82" height="7.25" fill="#fd8d3c"/>
<rect x="330.30" y="93.77" width="5.82" height="7.25" fill="#fd9e54"/>
<rect x="335.12" y="93.77" width="10.64" height="7.25" fill="#fdae6b"/>
<rect x="344.76" y="93.77" width="10.64" height="7.25" fill="#fd9e54"/>
<rect x="354.40" y="93.77" width="15.46" height="7.25" fill="#fd8d3c"/>
<rect x="368.86" y="93.77" width="5.82" height="7.25" fill="#f77b28"/>
<rect x="373.68" y="93.77" width="28.92" height="7.25" fill="#fd8d3c"/>
<rect x="282.10" y="100.02" width="5.82" height="7.25" fill="#fdae6b"/>
<rect x="286.92" y="100.02" width="5.82" height="7.25" fill="#f16913"/>
<rect x="291.74" y="100.02" width="20.28" height="7.25" fill="#e5580a"/>
<rect x="311.02" y="100.02" width="5.82" height="7.25" fill="#d94801"/>
<rect x="315.84" y="100.02" width="5.82" height="7.25" fill="#c03f02"/>
<rect x="320.66" y="100.02" width="5.82" height="7.25" fill="#d94801"/>
<rect x="325.48" y="100.02" width="10.64" height="7.25" fill="#f16913"/>
<rect x="335.12" y="100.02" width="5.82" height="7.25" fill="#fd9e54"/>
<rect x="339.94" y="100.02" width="10.64" height="7.25" fill="#fdae6b"/>
<rect x="349.58" y="100.02" width="5.82" height="7.25" fill="#fd9e54"/>
<rect x="354.40" y="100.02" width="5.82" height="7.25" fill="#e5580a"/>
<rect x="359.22" y="100.02" width="5.82" height="7.25" fill="#fd8d3c"/>
<rect x="364.04" y="100.02" width="5.82" height="7.25" fill="#fd9e54"/>
<rect x="368.86" y="100.02" width="5.82" height="7.25" fill="#fd8d3c"/>
<rect x="373.68" y="100.02" width="5.82" height="7.25" fill="#fdae6b"/>
<rect x="378.50" y="100.02" width="5.82" height="7.25" fill="#f77b28"/>
<rect x="383.32" y="100.02" width="5.82" height="7.25" fill="#fd8d3c"/>
<rect x="388.14" y="100.02" width="5.82" height="7.25" fill="#fdae6b"/>
<rect x="392.96" y="100.02" width="5.82" height="7.25" fill="#fd8d3c"/>
<rect x="397.78" y="100.02" width="4.82" height="7.25" fill="#fd9e54"/>
<rect x="282.10" y="106.27" width="5.82" height="7.25" fill="#f77b28"/>
<rect x="286.92" y="106.27" width="5.82" height="7.25" fill="#e5580a"/>
<rect x="291.74" y="106.27" width="5.82" height="7.25" fill="#f77b28"/>
<rect x="296.56" y="106.27" width="5.82" height="7.25" fill="#d94801"/>
<rect x="301.38" y="106.27" width="5.82" height="7.25" fill="#c03f02"/>
<rect x="306.20" y="106.27" width="15.46" height="7.25" fill="#d94801"/>
<rect x="320.66" y="106.27" width="5.82" height="7.25" fill="#e5580a"/>
<rect x="325.48" y="106.27" width="10.64" height="7.25" fill="#f16913"/>
<rect x="335.12" y="106.27" width="5.82" height="7.25" fill="#fd8d3c"/>
<rect x="339.94" y="106.27" width="5.82" height="7.25" fill="#fdae6b"/>
<rect x="344.76" y="106.27" width="5.82" height="7.25" fill="#fee6ce"/>
<rect x="349.58" y="106.27" width="5.82" height="7.25" fill="#fdae6b"/>
<rect x="354.40" y="106.27" width="5.82" height="7.25" fill="#f16913"/>
<rect x="359.22" y="106.27" width="10.64" height="7.25" fill="#f77b28"/>
<rect x="368.86" y="106.27" width="5.82" height="7.25" fill="#fd8d3c"/>
<rect x="373.68" y="106.27" width="5.82" height="7.25" fill="#fdae6b"/>
<rect x="378.50" y="106.27" width="5.82" height="7.25" fill="#fdbf86"/>
<rect x="383.32" y="106.27" width="10.64" height="7.25" fill="#fdae6b"/>
<rect x="392.96" y="106.27" width="5.82" height="7.25" fill="#fd9e54"/>
<rect x="397.78" y="106.27" width="4.82" height="7.25" fill="#fd8d3c"/>
<rect x="282.10" y="112.52" width="10.64" height="7.25" fill="#fedbb8"/>
<rect x="291.74" y="112.52" width="5.82" height="7.25" fill="#fdd0a2"/>
<rect x="296.56" y="112.52" width="5.82" height="7.25" fill="#fedbb8"/>
<rect x="301.38" y="112.52" width="5.82" height="7.25" fill="#feeedc"/>
<rect x="306.20" y="112.52" width="5.82" height="7.25" fill="#fdd0a2"/>
<rect x="311.02" y="112.52" width="10.64" height="7.25" fill="#fee6ce"/>
<rect x="320.66" y="112.52" width="5.82" height="7.25" fill="#fedbb8"/>
<rect x="325.48" y="112.52" width="20.28" height="7.25" fill="#fee6ce"/>
<rect x="344.76" y="112.52" width="5.82" height="7.25" fill="#feeedc"/>
<rect x="349.58" y="112.52" width="5.82" height="7.25" fill="#fee6ce"/>
<rect x="354.40" y="112.52" width="5.82" height="7.25" fill="#fdd0a2"/>
<rect x="359.22" y="112.52" width="34.74" height="7.25" fill="#fee6ce"/>
<rect x="392.96" y="112.52" width="5.82" height="7.25" fill="#fedbb8"/>
<rect x="397.78" y="112.52" width="4.82" height="7.25" fill="#fee6ce"/>
<rect x="282.10" y="118.78" width="10.64" height="7.25" fill="#fff0e2"/>
<rect x="291.74" y="118.78" width="5.82" height="7.25" fill="#feeedc"/>
<rect x="296.56" y="118.78" width="106.04" height="7.25" fill="#fff0e2"/>
<rect x="282.10" y="125.03" width="29.92" height="7.25" fill="#fff2e5"/>
<rect x="311.02" y="125.03" width="5.82" height="7.25" fill="#feeedc"/>
<rect x="315.84" y="125.03" width="5.82" height="7.25" fill="#fff2e5"/>
<rect x="320.66" y="125.03" width="5.82" height="7.25" fill="#feeedc"/>
<rect x="325.48" y="125.03" width="77.12" height="7.25" fill="#fff2e5"/>
<rect x="282.10" y="131.28" width="120.50" height="7.25" fill="#fff2e5"/>
<rect x="282.10" y="137.53" width="5.82" height="7.25" fill="#fee5cc"/>
<rect x="286.92" y="137.53" width="5.82" height="7.25" fill="#fff0e1"/>
<rect x="291.74" y="137.53" width="34.74" height="7.25" fill="#feead7"/>
<rect x="325.48" y="137.53" width="10.64" height="7.25" fill="#fff0e1"/>
<rect x="335.12" y="137.53" width="5.82" height="7.25" fill="#feead7"/>
<rect x="339.94" y="137.53" width="5.82" height="7.25" fill="#fff0e1"/>
<rect x="344.76" y="137.53" width="10.64" height="7.25" fill="#fff2e5"/>
<rect x="354.40" y="137.53" width="5.82" height="7.25" fill="#feead7"/>
<rect x="359.22" y="137.53" width="10.64" height="7.25" fill="#fff0e1"/>
<rect x="368.86" y="137.53" width="5.82" height="7.25" fill="#feeddb"/>
<rect x="373.68" y="137.53" width="5.82" height="7.25" fill="#fff0e1"/>
<rect x="378.50" y="137.53" width="5.82" height="7.25" fill="#feeddb"/>
<rect x="383.32" y="137.53" width="10.64" height="7.25" fill="#fff0e1"/>
<rect x="392.96" y="137.53" width="5.82" height="7.25" fill="#feeddb"/>
<rect x="397.78" y="137.53" width="4.82" height="7.25" fill="#fff0e1"/>
<rect x="282.10" y="143.78" width="15.46" height="7.25" fill="#feead7"/>
<rect x="296.56" y="143.78" width="5.82" height="7.25" fill="#fff0e1"/>
<rect x="301.38" y="143.78" width="5.82" height="7.25" fill="#feead7"/>
<rect x="306.20" y="143.78" width="5.82" height="7.25" fill="#fee5cc"/>
<rect x="311.02" y="143.78" width="15.46" height="7.25" fill="#feead7"/>
<rect x="325.48" y="143.78" width="15.46" height="7.25" fill="#fff0e1"/>
<rect x="339.94" y="143.78" width="10.64" height="7.25" fill="#fff2e5"/>
<rect x="349.58" y="143.78" width="5.82" height="7.25" fill="#fff0e1"/>
<rect x="354.40" y="143.78" width="5.82" height="7.25" fill="#feeddb"/>
<rect x="359.22" y="143.78" width="29.92" height="7.25" fill="#fff0e1"/>
<rect x="388.14" y="143.78" width="5.82" height="7.25" fill="#feeddb"/>
<rect x="392.96" y="143.78" width="5.82" height="7.25" fill="#feead7"/>
<rect x="397.78" y="143.78" width="4.82" height="7.25" fill="#fff0e1"/>
<rect x="282.10" y="150.03" width="5.82" height="7.25" fill="#fee6ce"/>
<rect x="286.92" y="150.03" width="5.82" height="7.25" fill="#fdae6b"/>
<rect x="291.74" y="150.03" width="5.82" height="7.25" fill="#fdd0a2"/>
<rect x="296.56" y="150.03" width="5.82" height="7.25" fill="#fd8d3c"/>
<rect x="301.38" y="150.03" width="5.82" height="7.25" fill="#f16913"/>
<rect x="306.20" y="150.03" width="5.82" height="7.25" fill="#fd9e54"/>
<rect x="311.02" y="150.03" width="15.46" height="7.25" fill="#fdae6b"/>
<rect x="325.48" y="150.03" width="5.82" height="7.25" fill="#fdbf86"/>
<rect x="330.30" y="150.03" width="5.82" height="7.25" fill="#fedbb8"/>
<rect x="335.12" y="150.03" width="5.82" height="7.25" fill="#fdd0a2"/>
<rect x="339.94" y="150.03" width="5.82" height="7.25" fill="#feeedc"/>
<rect x="344.76" y="150.03" width="5.82" height="7.25" fill="#fedbb8"/>
<rect x="349.58" y="150.03" width="5.82" height="7.25" fill="#fdbf86"/>
<rect x="354.40" y="150.03" width="5.82" height="7.25" fill="#fdd0a2"/>
<rect x="359.22" y="150.03" width="5.82" height="7.25" fill="#fee6ce"/>
<rect x="364.04" y="150.03" width="10.64" height="7.25" fill="#fedbb8"/>
<rect x="373.68" y="150.03" width="5.82" height="7.25" fill="#fdbf86"/>
<rect x="378.50" y="150.03" width="5.82" height="7.25" fill="#fdd0a2"/>
<rect x="383.32" y="150.03" width="5.82" height="7.25" fill="#fee6ce"/>
<rect x="388.14" y="150.03" width="10.64" height="7.25" fill="#fdae6b"/>
<rect x="397.78" y="150.03" width="4.82" height="7.25" fill="#fdd0a2"/>
<rect x="282.10" y="156.29" width="5.82" height="7.25" fill="#fedbb8"/>
<rect x="286.92" y="156.29" width="5.82" height="7.25" fill="#fd9e54"/>
<rect x="291.74" y="156.29" width="5.82" height="7.25" fill="#fdbf86"/>
<rect x="296.56" y="156.29" width="5.82" height="7.25" fill="#f16913"/>
<rect x="301.38" y="156.29" width="5.82" height="7.25" fill="#e5580a"/>
<rect x="306.20" y="156.29" width="5.82" height="7.25" fill="#fd8d3c"/>
<rect x="311.02" y="156.29" width="10.64" height="7.25" fill="#f77b28"/>
<rect x="320.66" y="156.29" width="5.82" height="7.25" fill="#fd8d3c"/>
<rect x="325.48" y="156.29" width="5.82" height="7.25" fill="#fdae6b"/>
<rect x="330.30" y="156.29" width="5.82" height="7.25" fill="#fdbf86"/>
<rect x="335.12" y="156.29" width="5.82" height="7.25" fill="#fdd0a2"/>
<rect x="339.94" y="156.29" width="5.82" height="7.25" fill="#fdae6b"/>
<rect x="344.76" y="156.29" width="5.82" height="7.25" fill="#fee6ce"/>
<rect x="349.58" y="156.29" width="5.82" height="7.25" fill="#fdbf86"/>
<rect x="354.40" y="156.29" width="10.64" height="7.25" fill="#fdae6b"/>
<rect x="364.04" y="156.29" width="5.82" height="7.25" fill="#fedbb8"/>
<rect x="368.86" y="156.29" width="5.82" height="7.25" fill="#fdd0a2"/>
<rect x="373.68" y="156.29" width="5.82" height="7.25" fill="#fdae6b"/>
<rect x="378.50" y="156.29" width="5.82" height="7.25" fill="#fdd0a2"/>
<rect x="383.32" y="156.29" width="5.82" height="7.25" fill="#fee6ce"/>
<rect x="388.14" y="156.29" width="5.82" height="7.25" fill="#fd9e54"/>
<rect x="392.96" y="156.29" width="5.82" height="7.25" fill="#fdae6b"/>
<rect x="397.78" y="156.29" width="4.82" height="7.25" fill="#fdd0a2"/>
<rect x="282.10" y="162.54" width="5.82" height="7.25" fill="#fee6ce"/>
<rect x="286.92" y="162.54" width="10.64" height="7.25" fill="#fdd0a2"/>
<rect x="296.56" y="162.54" width="5.82" height="7.25" fill="#fedbb8"/>
<rect x="301.38" y="162.54" width="5.82" height="7.25" fill="#fee6ce"/>
<rect x="306.20" y="162.54" width="5.82" height="7.25" fill="#fdae6b"/>
<rect x="311.02" y="162.54" width="5.82" height="7.25" fill="#fd9e54"/>
<rect x="315.84" y="162.54" width="5.82" height="7.25" fill="#fdd0a2"/>
<rect x="320.66" y="162.54" width="5.82" height="7.25" fill="#fdae6b"/>
<rect x="325.48" y="162.54" width="5.82" height="7.25" fill="#fee6ce"/>
<rect x="330.30" y="162.54" width="25.10" height="7.25" fill="#fedbb8"/>
<rect x="354.40" y="162.54" width="5.82" height="7.25" fill="#fdbf86"/>
<rect x="359.22" y="162.54" width="10.64" height="7.25" fill="#fee6ce"/>
<rect x="368.86" y="162.54" width="5.82" height="7.25" fill="#fedbb8"/>
<rect x="373.68" y="162.54" width="5.82" height="7.25" fill="#fee6ce"/>
<rect x="378.50" y="162.54" width="5.82" height="7.25" fill="#fedbb8"/>
<rect x="383.32" y="162.54" width="5.82" height="7.25" fill="#fee6ce"/>
<rect x="388.14" y="162.54" width="14.46" height="7.25" fill="#fedbb8"/>
<rect x="282.10" y="168.79" width="5.82" height="7.25" fill="#feeedc"/>
<rect x="286.92" y="168.79" width="5.82" height="7.25" fill="#fd9e54"/>
<rect x="291.74" y="168.79" width="5.82" height="7.25" fill="#fdd0a2"/>
<rect x="296.56" y="168.79" width="5.82" height="7.25" fill="#f16913"/>
<rect x="301.38" y="168.79" width="5.82" height="7.25" fill="#fdae6b"/>
<rect x="306.20" y="168.79" width="5.82" height="7.25" fill="#fdd0a2"/>
<rect x="311.02" y="168.79" width="5.82" height="7.25" fill="#f77b28"/>
<rect x="315.84" y="168.79" width="5.82" height="7.25" fill="#c03f02"/>
<rect x="320.66" y="168.79" width="5.82" height="7.25" fill="#f16913"/>
<rect x="325.48" y="168.79" width="5.82" height="7.25" fill="#fdd0a2"/>
<rect x="330.30" y="168.79" width="5.82" height="7.25" fill="#fd9e54"/>
<rect x="335.12" y="168.79" width="15.46" height="7.25" fill="#fff0e2"/>
<rect x="349.58" y="168.79" width="15.46" height="7.25" fill="#feeedc"/>
<rect x="364.04" y="168.79" width="5.82" height="7.25" fill="#fee6ce"/>
<rect x="368.86" y="168.79" width="25.10" height="7.25" fill="#feeedc"/>
<rect x="392.96" y="168.79" width="9.64" height="7.25" fill="#fee6ce"/>
<rect x="282.10" y="175.04" width="5.82" height="7.25" fill="#fee6ce"/>
<rect x="286.92" y="175.04" width="5.82" height="7.25" fill="#fdbf86"/>
<rect x="291.74" y="175.04" width="5.82" height="7.25" fill="#feeedc"/>
<rect x="296.56" y="175.04" width="5.82" height="7.25" fill="#f16913"/>
<rect x="301.38" y="175.04" width="5.82" height="7.25" fill="#fdbf86"/>
<rect x="306.20" y="175.04" width="5.82" height="7.25" fill="#fdae6b"/>
<rect x="311.02" y="175.04" width="5.82" height="7.25" fill="#fdd0a2"/>
<rect x="315.84" y="175.04" width="5.82" height="7.25" fill="#fd9e54"/>
<rect x="320.66" y="175.04" width="5.82" height="7.25" fill="#fdd0a2"/>
<rect x="325.48" y="175.04" width="5.82" height="7.25" fill="#fee6ce"/>
<rect x="330.30" y="175.04" width="5.82" height="7.25" fill="#c03f02"/>
<rect x="335.12" y="175.04" width="5.82" height="7.25" fill="#feeedc"/>
<rect x="339.94" y="175.04" width="10.64" height="7.25" fill="#fff0e2"/>
<rect x="349.58" y="175.04" width="10.64" height="7.25" fill="#fee6ce"/>
<rect x="359.22" y="175.04" width="5.82" height="7.25" fill="#fedbb8"/>
<rect x="364.04" y="175.04" width="5.82" height="7.25" fill="#fee6ce"/>
<rect x="368.86" y="175.04" width="15.46" height="7.25" fill="#feeedc"/>
<rect x="383.32" y="175.04" width="5.82" height="7.25" fill="#fee6ce"/>
<rect x="388.14" y="175.04" width="10.64" height="7.25" fill="#fedbb8"/>
<rect x="397.78" y="175.04" width="4.82" height="7.25" fill="#fee6ce"/>
<rect x="282.10" y="181.29" width="5.82" height="7.25" fill="#fdd0a2"/>
<rect x="286.92" y="181.29" width="5.82" height="7.25" fill="#fdbf86"/>
<rect x="291.74" y="181.29" width="5.82" height="7.25" fill="#fdd0a2"/>
<rect x="296.56" y="181.29" width="5.82" height="7.25" fill="#fd8d3c"/>
<rect x="301.38" y="181.29" width="5.82" height="7.25" fill="#f77b28"/>
<rect x="306.20" y="181.29" width="5.82" height="7.25" fill="#fd9e54"/>
<rect x="311.02" y="181.29" width="5.82" height="7.25" fill="#fdae6b"/>
<rect x="315.84" y="181.29" width="5.82" height="7.25" fill="#fd8d3c"/>
<rect x="320.66" y="181.29" width="5.82" height="7.25" fill="#fdbf86"/>
<rect x="325.48" y="181.29" width="5.82" height="7.25" fill="#fdd0a2"/>
<rect x="330.30" y="181.29" width="5.82" height="7.25" fill="#fd9e54"/>
<rect x="335.12" y="181.29" width="5.82" height="7.25" fill="#fee6ce"/>
<rect x="339.94" y="181.29" width="10.64" height="7.25" fill="#feeedc"/>
<rect x="349.58" y="181.29" width="5.82" height="7.25" fill="#fee6ce"/>
<rect x="354.40" y="181.29" width="5.82" height="7.25" fill="#fdbf86"/>
<rect x="359.22" y="181.29" width="10.64" height="7.25" fill="#fedbb8"/>
<rect x="368.86" y="181.29" width="5.82" height="7.25" fill="#fdd0a2"/>
<rect x="373.68" y="181.29" width="5.82" height="7.25" fill="#fedbb8"/>
<rect x="378.50" y="181.29" width="5.82" height="7.25" fill="#fdd0a2"/>
<rect x="383.32" y="181.29" width="5.82" height="7.25" fill="#fee6ce"/>
<rect x="388.14" y="181.29" width="14.46" height="7.25" fill="#fedbb8"/>
<rect x="282.10" y="187.54" width="5.82" height="7.25" fill="#fee6ce"/>
<rect x="286.92" y="187.54" width="10.64" height="7.25" fill="#fdbf86"/>
<rect x="296.56" y="187.54" width="5.82" height="7.25" fill="#fd9e54"/>
<rect x="301.38" y="187.54" width="5.82" height="7.25" fill="#fd8d3c"/>
<rect x="306.20" y="187.54" width="10.64" height="7.25" fill="#fdae6b"/>
<rect x="315.84" y="187.54" width="5.82" height="7.25" fill="#f77b28"/>
<rect x="320.66" y="187.54" width="5.82" height="7.25" fill="#fdae6b"/>
<rect x="325.48" y="187.54" width="5.82" height="7.25" fill="#fdd0a2"/>
<rect x="330.30" y="187.54" width="5.82" height="7.25" fill="#fdae6b"/>
<rect x="335.12" y="187.54" width="15.46" height="7.25" fill="#feeedc"/>
<rect x="349.58" y="187.54" width="5.82" height="7.25" fill="#fee6ce"/>
<rect x="354.40" y="187.54" width="5.82" height="7.25" fill="#fedbb8"/>
<rect x="359.22" y="187.54" width="20.28" height="7.25" fill="#fee6ce"/>
<rect x="378.50" y="187.54" width="10.64" height="7.25" fill="#fedbb8"/>
<rect x="388.14" y="187.54" width="14.46" height="7.25" fill="#fee6ce"/>
<rect x="282.10" y="193.80" width="5.82" height="7.25" fill="#fedbb8"/>
<rect x="286.92" y="193.80" width="5.82" height="7.25" fill="#fd8d3c"/>
<rect x="291.74" y="193.80" width="5.82" height="7.25" fill="#fdae6b"/>
<rect x="296.56" y="193.80" width="15.46" height="7.25" fill="#e5580a"/>
<rect x="311.02" y="193.80" width="5.82" height="7.25" fill="#f16913"/>
<rect x="315.84" y="193.80" width="5.82" height="7.25" fill="#a63603"/>
<rect x="320.66" y="193.80" width="5.82" height="7.25" fill="#e5580a"/>
<rect x="325.48" y="193.80" width="5.82" height="7.25" fill="#fdae6b"/>
<rect x="330.30" y="193.80" width="10.64" height="7.25" fill="#feeedc"/>
<rect x="339.94" y="193.80" width="5.82" height="7.25" fill="#fff0e2"/>
<rect x="344.76" y="193.80" width="5.82" height="7.25" fill="#feeedc"/>
<rect x="349.58" y="193.80" width="20.28" height="7.25" fill="#fee6ce"/>
<rect x="368.86" y="193.80" width="5.82" height="7.25" fill="#feeedc"/>
<rect x="373.68" y="193.80" width="15.46" height="7.25" fill="#fee6ce"/>
<rect x="388.14" y="193.80" width="5.82" height="7.25" fill="#feeedc"/>
<rect x="392.96" y="193.80" width="9.64" height="7.25" fill="#fee6ce"/>
<rect x="282.10" y="200.05" width="5.82" height="6.25" fill="#fd8d3c"/>
<rect x="286.92" y="200.05" width="5.82" height="6.25" fill="#d94801"/>
<rect x="291.74" y="200.05" width="5.82" height="6.25" fill="#e5580a"/>
<rect x="296.56" y="200.05" width="5.82" height="6.25" fill="#c03f02"/>
<rect x="301.38" y="200.05" width="5.82" height="6.25" fill="#d94801"/>
<rect x="306.20" y="200.05" width="5.82" height="6.25" fill="#e5580a"/>
<rect x="311.02" y="200.05" width="5.82" height="6.25" fill="#c03f02"/>
<rect x="315.84" y="200.05" width="5.82" height="6.25" fill="#7f2704"/>
<rect x="320.66" y="200.05" width="5.82" height="6.25" fill="#a63603"/>
<rect x="325.48" y="200.05" width="5.82" height="6.25" fill="#fd9e54"/>
<rect x="330.30" y="200.05" width="5.82" height="6.25" fill="#d94801"/>
<rect x="335.12" y="200.05" width="10.64" height="6.25" fill="#feeedc"/>
<rect x="344.76" y="200.05" width="5.82" height="6.25" fill="#fee6ce"/>
<rect x="349.58" y="200.05" width="5.82" height="6.25" fill="#fdbf86"/>
<rect x="354.40" y="200.05" width="5.82" height="6.25" fill="#fee6ce"/>
<rect x="359.22" y="200.05" width="5.82" height="6.25" fill="#fdae6b"/>
<rect x="364.04" y="200.05" width="5.82" height="6.25" fill="#fee6ce"/>
<rect x="368.86" y="200.05" width="5.82" height="6.25" fill="#fedbb8"/>
<rect x="373.68" y="200.05" width="10.64" height="6.25" fill="#fdbf86"/>
<rect x="383.32" y="200.05" width="5.82" height="6.25" fill="#fedbb8"/>
<rect x="388.14" y="200.05" width="5.82" height="6.25" fill="#fdd0a2"/>
<rect x="392.96" y="200.05" width="5.82" height="6.25" fill="#fdae6b"/>
<rect x="397.78" y="200.05" width="4.82" height="6.25" fill="#fdd0a2"/>
<line x1="403" y1="28.13" x2="404.6" y2="28.13" stroke="#333" stroke-width="0.45"/>
<text x="406.5" y="30.48" font-size="5.4" fill="#111" stroke="#111" stroke-width="0.08" font-family="Liberation Sans, sans-serif">Dopeav2044320m_ELAVL4</text>
<rect x="405.5" y="31.45" width="73.2" height="6.05" fill="#a8c4ee"/>
<line x1="403" y1="34.38" x2="404.6" y2="34.38" stroke="#333" stroke-width="0.45"/>
<text x="406.5" y="36.73" font-size="5.4" fill="#111" stroke="#111" stroke-width="0.08" font-family="Liberation Sans, sans-serif">Dopeav2005419m_ADAR-like</text>
<line x1="403" y1="40.63" x2="404.6" y2="40.63" stroke="#333" stroke-width="0.45"/>
<text x="406.5" y="42.98" font-size="5.4" fill="#111" stroke="#111" stroke-width="0.08" font-family="Liberation Sans, sans-serif">Dopeav2094978m_RBFOX1</text>
<line x1="403" y1="46.88" x2="404.6" y2="46.88" stroke="#333" stroke-width="0.45"/>
<text x="406.5" y="49.23" font-size="5.4" fill="#111" stroke="#111" stroke-width="0.08" font-family="Liberation Sans, sans-serif">Dopeav2082800m_FARSB</text>
<line x1="403" y1="53.13" x2="404.6" y2="53.13" stroke="#333" stroke-width="0.45"/>
<text x="406.5" y="55.48" font-size="5.4" fill="#111" stroke="#111" stroke-width="0.08" font-family="Liberation Sans, sans-serif">Dopeav2021847m_PTRH2</text>
<line x1="403" y1="59.38" x2="404.6" y2="59.38" stroke="#333" stroke-width="0.45"/>
<text x="406.5" y="61.73" font-size="5.4" fill="#111" stroke="#111" stroke-width="0.08" font-family="Liberation Sans, sans-serif">Dopeav2079706m_VARS</text>
<line x1="403" y1="65.64" x2="404.6" y2="65.64" stroke="#333" stroke-width="0.45"/>
<text x="406.5" y="67.99" font-size="5.4" fill="#111" stroke="#111" stroke-width="0.08" font-family="Liberation Sans, sans-serif">Dopeav2036703m_RTCA</text>
<line x1="403" y1="71.89" x2="404.6" y2="71.89" stroke="#333" stroke-width="0.45"/>
<text x="406.5" y="74.24" font-size="5.4" fill="#111" stroke="#111" stroke-width="0.08" font-family="Liberation Sans, sans-serif">Dopeav2115641m_CLASRP</text>
<line x1="403" y1="78.14" x2="404.6" y2="78.14" stroke="#333" stroke-width="0.45"/>
<text x="406.5" y="80.49" font-size="5.4" fill="#111" stroke="#111" stroke-width="0.08" font-family="Liberation Sans, sans-serif">Dopeav2066729m_EARS2</text>
<line x1="403" y1="84.39" x2="404.6" y2="84.39" stroke="#333" stroke-width="0.45"/>
<text x="406.5" y="86.74" font-size="5.4" fill="#111" stroke="#111" stroke-width="0.08" font-family="Liberation Sans, sans-serif">Dopeav2094050m_TSEN34</text>
<line x1="403" y1="90.64" x2="404.6" y2="90.64" stroke="#333" stroke-width="0.45"/>
<text x="406.5" y="92.99" font-size="5.4" fill="#111" stroke="#111" stroke-width="0.08" font-family="Liberation Sans, sans-serif">Dopeav2056851m_PRKRA</text>
<line x1="403" y1="96.89" x2="404.6" y2="96.89" stroke="#333" stroke-width="0.45"/>
<text x="406.5" y="99.24" font-size="5.4" fill="#111" stroke="#111" stroke-width="0.08" font-family="Liberation Sans, sans-serif">Dopeav2064412m_SKIV2L</text>
<line x1="403" y1="103.15" x2="404.6" y2="103.15" stroke="#333" stroke-width="0.45"/>
<text x="406.5" y="105.50" font-size="5.4" fill="#111" stroke="#111" stroke-width="0.08" font-family="Liberation Sans, sans-serif">Dopeav2032549m_CELF2</text>
<line x1="403" y1="109.40" x2="404.6" y2="109.40" stroke="#333" stroke-width="0.45"/>
<text x="406.5" y="111.75" font-size="5.4" fill="#111" stroke="#111" stroke-width="0.08" font-family="Liberation Sans, sans-serif">Dopeav2040434m_HNRNPA1</text>
<line x1="403" y1="115.65" x2="404.6" y2="115.65" stroke="#333" stroke-width="0.45"/>
<text x="406.5" y="118.00" font-size="5.4" fill="#111" stroke="#111" stroke-width="0.08" font-family="Liberation Sans, sans-serif">Dopeav2007070m_</text>
<line x1="403" y1="121.90" x2="404.6" y2="121.90" stroke="#333" stroke-width="0.45"/>
<text x="406.5" y="124.25" font-size="5.4" fill="#111" stroke="#111" stroke-width="0.08" font-family="Liberation Sans, sans-serif">Dopeav2049022m_</text>
<line x1="403" y1="128.15" x2="404.6" y2="128.15" stroke="#333" stroke-width="0.45"/>
<text x="406.5" y="130.50" font-size="5.4" fill="#111" stroke="#111" stroke-width="0.08" font-family="Liberation Sans, sans-serif">Dopeav2131491m_</text>
<line x1="403" y1="134.41" x2="404.6" y2="134.41" stroke="#333" stroke-width="0.45"/>
<text x="406.5" y="136.76" font-size="5.4" fill="#111" stroke="#111" stroke-width="0.08" font-family="Liberation Sans, sans-serif">Dopeav2126038m_</text>
<line x1="403" y1="140.66" x2="404.6" y2="140.66" stroke="#333" stroke-width="0.45"/>
<text x="406.5" y="143.01" font-size="5.4" fill="#111" stroke="#111" stroke-width="0.08" font-family="Liberation Sans, sans-serif">Dopeav2049954m_</text>
<line x1="403" y1="146.91" x2="404.6" y2="146.91" stroke="#333" stroke-width="0.45"/>
<text x="406.5" y="149.26" font-size="5.4" fill="#111" stroke="#111" stroke-width="0.08" font-family="Liberation Sans, sans-serif">Dopeav2008355m_</text>
<rect x="405.5" y="150.23" width="73.2" height="6.05" fill="#8fd06c"/>
<line x1="403" y1="153.16" x2="404.6" y2="153.16" stroke="#333" stroke-width="0.45"/>
<text x="406.5" y="155.51" font-size="5.4" fill="#111" stroke="#111" stroke-width="0.08" font-family="Liberation Sans, sans-serif">Dopeav2017526m_ADAR2</text>
<rect x="405.5" y="156.49" width="73.2" height="6.05" fill="#e8745c"/>
<line x1="403" y1="159.41" x2="404.6" y2="159.41" stroke="#333" stroke-width="0.45"/>
<text x="406.5" y="161.76" font-size="5.4" fill="#111" stroke="#111" stroke-width="0.08" font-family="Liberation Sans, sans-serif">Dopeav2118252m_ADAR2</text>
<rect x="405.5" y="162.74" width="73.2" height="6.05" fill="#f7a656"/>
<line x1="403" y1="165.66" x2="404.6" y2="165.66" stroke="#333" stroke-width="0.45"/>
<text x="406.5" y="168.01" font-size="5.4" fill="#111" stroke="#111" stroke-width="0.08" font-family="Liberation Sans, sans-serif">Dopeav2016222m_ADAR1</text>
<line x1="403" y1="171.92" x2="404.6" y2="171.92" stroke="#333" stroke-width="0.45"/>
<text x="406.5" y="174.27" font-size="5.4" fill="#111" stroke="#111" stroke-width="0.08" font-family="Liberation Sans, sans-serif">Dopeav2072116m_CELF4</text>
<line x1="403" y1="178.17" x2="404.6" y2="178.17" stroke="#333" stroke-width="0.45"/>
<text x="406.5" y="180.52" font-size="5.4" fill="#111" stroke="#111" stroke-width="0.08" font-family="Liberation Sans, sans-serif">Dopeav2041541m_RBPMS</text>
<line x1="403" y1="184.42" x2="404.6" y2="184.42" stroke="#333" stroke-width="0.45"/>
<text x="406.5" y="186.77" font-size="5.4" fill="#111" stroke="#111" stroke-width="0.08" font-family="Liberation Sans, sans-serif">Dopeav2055409m_ZNF570</text>
<line x1="403" y1="190.67" x2="404.6" y2="190.67" stroke="#333" stroke-width="0.45"/>
<text x="406.5" y="193.02" font-size="5.4" fill="#111" stroke="#111" stroke-width="0.08" font-family="Liberation Sans, sans-serif">Dopeav2122328m_SRSF3</text>
<line x1="403" y1="196.92" x2="404.6" y2="196.92" stroke="#333" stroke-width="0.45"/>
<text x="406.5" y="199.27" font-size="5.4" fill="#111" stroke="#111" stroke-width="0.08" font-family="Liberation Sans, sans-serif">Dopeav2072076m_CELF4</text>
<line x1="403" y1="203.17" x2="404.6" y2="203.17" stroke="#333" stroke-width="0.45"/>
<text x="406.5" y="205.52" font-size="5.4" fill="#111" stroke="#111" stroke-width="0.08" font-family="Liberation Sans, sans-serif">Dopeav2072123m_CELF3</text>
<line x1="284.51" y1="206.4" x2="284.51" y2="207.6" stroke="#333" stroke-width="0.45"/>
<text transform="translate(286.36,211.0) rotate(-90)" text-anchor="end" font-size="5.2" fill="#111" stroke="#111" stroke-width="0.12" font-family="Liberation Sans, sans-serif">GFL</text>
<line x1="289.33" y1="206.4" x2="289.33" y2="207.6" stroke="#333" stroke-width="0.45"/>
<text transform="translate(291.18,211.0) rotate(-90)" text-anchor="end" font-size="5.2" fill="#111" stroke="#111" stroke-width="0.12" font-family="Liberation Sans, sans-serif">Sub</text>
<line x1="294.15" y1="206.4" x2="294.15" y2="207.6" stroke="#333" stroke-width="0.45"/>
<text transform="translate(296.00,211.0) rotate(-90)" text-anchor="end" font-size="5.2" fill="#111" stroke="#111" stroke-width="0.12" font-family="Liberation Sans, sans-serif">SG</text>
<line x1="298.97" y1="206.4" x2="298.97" y2="207.6" stroke="#333" stroke-width="0.45"/>
<text transform="translate(300.82,211.0) rotate(-90)" text-anchor="end" font-size="5.2" fill="#111" stroke="#111" stroke-width="0.12" font-family="Liberation Sans, sans-serif">OLl</text>
<line x1="303.79" y1="206.4" x2="303.79" y2="207.6" stroke="#333" stroke-width="0.45"/>
<text transform="translate(305.64,211.0) rotate(-90)" text-anchor="end" font-size="5.2" fill="#111" stroke="#111" stroke-width="0.12" font-family="Liberation Sans, sans-serif">OLb</text>
<line x1="308.61" y1="206.4" x2="308.61" y2="207.6" stroke="#333" stroke-width="0.45"/>
<text transform="translate(310.46,211.0) rotate(-90)" text-anchor="end" font-size="5.2" fill="#111" stroke="#111" stroke-width="0.12" font-family="Liberation Sans, sans-serif">SbL</text>
<line x1="313.43" y1="206.4" x2="313.43" y2="207.6" stroke="#333" stroke-width="0.45"/>
<text transform="translate(315.28,211.0) rotate(-90)" text-anchor="end" font-size="5.2" fill="#111" stroke="#111" stroke-width="0.12" font-family="Liberation Sans, sans-serif">Sup</text>
<line x1="318.25" y1="206.4" x2="318.25" y2="207.6" stroke="#333" stroke-width="0.45"/>
<text transform="translate(320.10,211.0) rotate(-90)" text-anchor="end" font-size="5.2" fill="#111" stroke="#111" stroke-width="0.12" font-family="Liberation Sans, sans-serif">VL</text>
<line x1="323.07" y1="206.4" x2="323.07" y2="207.6" stroke="#333" stroke-width="0.45"/>
<text transform="translate(324.92,211.0) rotate(-90)" text-anchor="end" font-size="5.2" fill="#111" stroke="#111" stroke-width="0.12" font-family="Liberation Sans, sans-serif">BL</text>
<line x1="327.89" y1="206.4" x2="327.89" y2="207.6" stroke="#333" stroke-width="0.45"/>
<text transform="translate(329.74,211.0) rotate(-90)" text-anchor="end" font-size="5.2" fill="#111" stroke="#111" stroke-width="0.12" font-family="Liberation Sans, sans-serif">ANC</text>
<line x1="332.71" y1="206.4" x2="332.71" y2="207.6" stroke="#333" stroke-width="0.45"/>
<text transform="translate(334.56,211.0) rotate(-90)" text-anchor="end" font-size="5.2" fill="#111" stroke="#111" stroke-width="0.12" font-family="Liberation Sans, sans-serif">Ret</text>
<line x1="337.53" y1="206.4" x2="337.53" y2="207.6" stroke="#333" stroke-width="0.45"/>
<text transform="translate(339.38,211.0) rotate(-90)" text-anchor="end" font-size="5.2" fill="#111" stroke="#111" stroke-width="0.12" font-family="Liberation Sans, sans-serif">BM</text>
<line x1="342.35" y1="206.4" x2="342.35" y2="207.6" stroke="#333" stroke-width="0.45"/>
<text transform="translate(344.20,211.0) rotate(-90)" text-anchor="end" font-size="5.2" fill="#111" stroke="#111" stroke-width="0.12" font-family="Liberation Sans, sans-serif">DG</text>
<line x1="347.17" y1="206.4" x2="347.17" y2="207.6" stroke="#333" stroke-width="0.45"/>
<text transform="translate(349.02,211.0) rotate(-90)" text-anchor="end" font-size="5.2" fill="#111" stroke="#111" stroke-width="0.12" font-family="Liberation Sans, sans-serif">Hep</text>
<line x1="351.99" y1="206.4" x2="351.99" y2="207.6" stroke="#333" stroke-width="0.45"/>
<text transform="translate(353.84,211.0) rotate(-90)" text-anchor="end" font-size="5.2" fill="#111" stroke="#111" stroke-width="0.12" font-family="Liberation Sans, sans-serif">NPC</text>
<line x1="356.81" y1="206.4" x2="356.81" y2="207.6" stroke="#333" stroke-width="0.45"/>
<text transform="translate(358.66,211.0) rotate(-90)" text-anchor="end" font-size="5.2" fill="#111" stroke="#111" stroke-width="0.12" font-family="Liberation Sans, sans-serif">Tes</text>
<line x1="361.63" y1="206.4" x2="361.63" y2="207.6" stroke="#333" stroke-width="0.45"/>
<text transform="translate(363.48,211.0) rotate(-90)" text-anchor="end" font-size="5.2" fill="#111" stroke="#111" stroke-width="0.12" font-family="Liberation Sans, sans-serif">Ov</text>
<line x1="366.45" y1="206.4" x2="366.45" y2="207.6" stroke="#333" stroke-width="0.45"/>
<text transform="translate(368.30,211.0) rotate(-90)" text-anchor="end" font-size="5.2" fill="#111" stroke="#111" stroke-width="0.12" font-family="Liberation Sans, sans-serif">Nid</text>
<line x1="371.27" y1="206.4" x2="371.27" y2="207.6" stroke="#333" stroke-width="0.45"/>
<text transform="translate(373.12,211.0) rotate(-90)" text-anchor="end" font-size="5.2" fill="#111" stroke="#111" stroke-width="0.12" font-family="Liberation Sans, sans-serif">Man</text>
<line x1="376.09" y1="206.4" x2="376.09" y2="207.6" stroke="#333" stroke-width="0.45"/>
<text transform="translate(377.94,211.0) rotate(-90)" text-anchor="end" font-size="5.2" fill="#111" stroke="#111" stroke-width="0.12" font-family="Liberation Sans, sans-serif">Hrt</text>
<line x1="380.91" y1="206.4" x2="380.91" y2="207.6" stroke="#333" stroke-width="0.45"/>
<text transform="translate(382.76,211.0) rotate(-90)" text-anchor="end" font-size="5.2" fill="#111" stroke="#111" stroke-width="0.12" font-family="Liberation Sans, sans-serif">MHC</text>
<line x1="385.73" y1="206.4" x2="385.73" y2="207.6" stroke="#333" stroke-width="0.45"/>
<text transform="translate(387.58,211.0) rotate(-90)" text-anchor="end" font-size="5.2" fill="#111" stroke="#111" stroke-width="0.12" font-family="Liberation Sans, sans-serif">Gl</text>
<line x1="390.55" y1="206.4" x2="390.55" y2="207.6" stroke="#333" stroke-width="0.45"/>
<text transform="translate(392.40,211.0) rotate(-90)" text-anchor="end" font-size="5.2" fill="#111" stroke="#111" stroke-width="0.12" font-family="Liberation Sans, sans-serif">Kid</text>
<line x1="395.37" y1="206.4" x2="395.37" y2="207.6" stroke="#333" stroke-width="0.45"/>
<text transform="translate(397.22,211.0) rotate(-90)" text-anchor="end" font-size="5.2" fill="#111" stroke="#111" stroke-width="0.12" font-family="Liberation Sans, sans-serif">Ten</text>
<line x1="400.19" y1="206.4" x2="400.19" y2="207.6" stroke="#333" stroke-width="0.45"/>
<text transform="translate(402.04,211.0) rotate(-90)" text-anchor="end" font-size="5.2" fill="#111" stroke="#111" stroke-width="0.12" font-family="Liberation Sans, sans-serif">Suc</text>
<line x1="277.50" y1="46.88" x2="281.90" y2="46.88" stroke="#555" stroke-width="0.45" stroke-linecap="square"/>
<line x1="277.50" y1="53.13" x2="281.90" y2="53.13" stroke="#555" stroke-width="0.45" stroke-linecap="square"/>
<line x1="277.50" y1="46.88" x2="277.50" y2="53.13" stroke="#555" stroke-width="0.45" stroke-linecap="square"/>
<line x1="278.30" y1="59.38" x2="281.90" y2="59.38" stroke="#555" stroke-width="0.45" stroke-linecap="square"/>
<line x1="278.30" y1="65.64" x2="281.90" y2="65.64" stroke="#555" stroke-width="0.45" stroke-linecap="square"/>
<line x1="278.30" y1="59.38" x2="278.30" y2="65.64" stroke="#555" stroke-width="0.45" stroke-linecap="square"/>
<line x1="275.40" y1="50.01" x2="277.50" y2="50.01" stroke="#555" stroke-width="0.45" stroke-linecap="square"/>
<line x1="275.40" y1="62.51" x2="278.30" y2="62.51" stroke="#555" stroke-width="0.45" stroke-linecap="square"/>
<line x1="275.40" y1="50.01" x2="275.40" y2="62.51" stroke="#555" stroke-width="0.45" stroke-linecap="square"/>
<line x1="273.60" y1="40.63" x2="281.90" y2="40.63" stroke="#555" stroke-width="0.45" stroke-linecap="square"/>
<line x1="273.60" y1="56.26" x2="275.40" y2="56.26" stroke="#555" stroke-width="0.45" stroke-linecap="square"/>
<line x1="273.60" y1="40.63" x2="273.60" y2="56.26" stroke="#555" stroke-width="0.45" stroke-linecap="square"/>
<line x1="276.50" y1="71.89" x2="281.90" y2="71.89" stroke="#555" stroke-width="0.45" stroke-linecap="square"/>
<line x1="276.50" y1="78.14" x2="281.90" y2="78.14" stroke="#555" stroke-width="0.45" stroke-linecap="square"/>
<line x1="276.50" y1="71.89" x2="276.50" y2="78.14" stroke="#555" stroke-width="0.45" stroke-linecap="square"/>
<line x1="277.80" y1="84.39" x2="281.90" y2="84.39" stroke="#555" stroke-width="0.45" stroke-linecap="square"/>
<line x1="277.80" y1="90.64" x2="281.90" y2="90.64" stroke="#555" stroke-width="0.45" stroke-linecap="square"/>
<line x1="277.80" y1="84.39" x2="277.80" y2="90.64" stroke="#555" stroke-width="0.45" stroke-linecap="square"/>
<line x1="278.20" y1="103.15" x2="281.90" y2="103.15" stroke="#555" stroke-width="0.45" stroke-linecap="square"/>
<line x1="278.20" y1="109.40" x2="281.90" y2="109.40" stroke="#555" stroke-width="0.45" stroke-linecap="square"/>
<line x1="278.20" y1="103.15" x2="278.20" y2="109.40" stroke="#555" stroke-width="0.45" stroke-linecap="square"/>
<line x1="276.40" y1="96.89" x2="281.90" y2="96.89" stroke="#555" stroke-width="0.45" stroke-linecap="square"/>
<line x1="276.40" y1="106.27" x2="278.20" y2="106.27" stroke="#555" stroke-width="0.45" stroke-linecap="square"/>
<line x1="276.40" y1="96.89" x2="276.40" y2="106.27" stroke="#555" stroke-width="0.45" stroke-linecap="square"/>
<line x1="274.80" y1="87.52" x2="277.80" y2="87.52" stroke="#555" stroke-width="0.45" stroke-linecap="square"/>
<line x1="274.80" y1="101.58" x2="276.40" y2="101.58" stroke="#555" stroke-width="0.45" stroke-linecap="square"/>
<line x1="274.80" y1="87.52" x2="274.80" y2="101.58" stroke="#555" stroke-width="0.45" stroke-linecap="square"/>
<line x1="272.80" y1="75.01" x2="276.50" y2="75.01" stroke="#555" stroke-width="0.45" stroke-linecap="square"/>
<line x1="272.80" y1="94.55" x2="274.80" y2="94.55" stroke="#555" stroke-width="0.45" stroke-linecap="square"/>
<line x1="272.80" y1="75.01" x2="272.80" y2="94.55" stroke="#555" stroke-width="0.45" stroke-linecap="square"/>
<line x1="271.80" y1="48.44" x2="273.60" y2="48.44" stroke="#555" stroke-width="0.45" stroke-linecap="square"/>
<line x1="271.80" y1="84.78" x2="272.80" y2="84.78" stroke="#555" stroke-width="0.45" stroke-linecap="square"/>
<line x1="271.80" y1="48.44" x2="271.80" y2="84.78" stroke="#555" stroke-width="0.45" stroke-linecap="square"/>
<line x1="266.40" y1="34.38" x2="281.90" y2="34.38" stroke="#555" stroke-width="0.45" stroke-linecap="square"/>
<line x1="266.40" y1="66.61" x2="271.80" y2="66.61" stroke="#555" stroke-width="0.45" stroke-linecap="square"/>
<line x1="266.40" y1="34.38" x2="266.40" y2="66.61" stroke="#555" stroke-width="0.45" stroke-linecap="square"/>
<line x1="265.50" y1="28.13" x2="281.90" y2="28.13" stroke="#555" stroke-width="0.45" stroke-linecap="square"/>
<line x1="265.50" y1="50.50" x2="266.40" y2="50.50" stroke="#555" stroke-width="0.45" stroke-linecap="square"/>
<line x1="265.50" y1="28.13" x2="265.50" y2="50.50" stroke="#555" stroke-width="0.45" stroke-linecap="square"/>
<line x1="280.80" y1="128.15" x2="281.90" y2="128.15" stroke="#555" stroke-width="0.45" stroke-linecap="square"/>
<line x1="280.80" y1="134.41" x2="281.90" y2="134.41" stroke="#555" stroke-width="0.45" stroke-linecap="square"/>
<line x1="280.80" y1="128.15" x2="280.80" y2="134.41" stroke="#555" stroke-width="0.45" stroke-linecap="square"/>
<line x1="280.00" y1="121.90" x2="281.90" y2="121.90" stroke="#555" stroke-width="0.45" stroke-linecap="square"/>
<line x1="280.00" y1="131.28" x2="280.80" y2="131.28" stroke="#555" stroke-width="0.45" stroke-linecap="square"/>
<line x1="280.00" y1="121.90" x2="280.00" y2="131.28" stroke="#555" stroke-width="0.45" stroke-linecap="square"/>
<line x1="279.60" y1="140.66" x2="281.90" y2="140.66" stroke="#555" stroke-width="0.45" stroke-linecap="square"/>
<line x1="279.60" y1="146.91" x2="281.90" y2="146.91" stroke="#555" stroke-width="0.45" stroke-linecap="square"/>
<line x1="279.60" y1="140.66" x2="279.60" y2="146.91" stroke="#555" stroke-width="0.45" stroke-linecap="square"/>
<line x1="278.60" y1="126.59" x2="280.00" y2="126.59" stroke="#555" stroke-width="0.45" stroke-linecap="square"/>
<line x1="278.60" y1="143.78" x2="279.60" y2="143.78" stroke="#555" stroke-width="0.45" stroke-linecap="square"/>
<line x1="278.60" y1="126.59" x2="278.60" y2="143.78" stroke="#555" stroke-width="0.45" stroke-linecap="square"/>
<line x1="276.30" y1="115.65" x2="281.90" y2="115.65" stroke="#555" stroke-width="0.45" stroke-linecap="square"/>
<line x1="276.30" y1="135.19" x2="278.60" y2="135.19" stroke="#555" stroke-width="0.45" stroke-linecap="square"/>
<line x1="276.30" y1="115.65" x2="276.30" y2="135.19" stroke="#555" stroke-width="0.45" stroke-linecap="square"/>
<line x1="277.00" y1="159.41" x2="281.90" y2="159.41" stroke="#555" stroke-width="0.45" stroke-linecap="square"/>
<line x1="277.00" y1="165.66" x2="281.90" y2="165.66" stroke="#555" stroke-width="0.45" stroke-linecap="square"/>
<line x1="277.00" y1="159.41" x2="277.00" y2="165.66" stroke="#555" stroke-width="0.45" stroke-linecap="square"/>
<line x1="274.50" y1="153.16" x2="281.90" y2="153.16" stroke="#555" stroke-width="0.45" stroke-linecap="square"/>
<line x1="274.50" y1="162.54" x2="277.00" y2="162.54" stroke="#555" stroke-width="0.45" stroke-linecap="square"/>
<line x1="274.50" y1="153.16" x2="274.50" y2="162.54" stroke="#555" stroke-width="0.45" stroke-linecap="square"/>
<line x1="275.50" y1="171.92" x2="281.90" y2="171.92" stroke="#555" stroke-width="0.45" stroke-linecap="square"/>
<line x1="275.50" y1="178.17" x2="281.90" y2="178.17" stroke="#555" stroke-width="0.45" stroke-linecap="square"/>
<line x1="275.50" y1="171.92" x2="275.50" y2="178.17" stroke="#555" stroke-width="0.45" stroke-linecap="square"/>
<line x1="274.00" y1="184.42" x2="281.90" y2="184.42" stroke="#555" stroke-width="0.45" stroke-linecap="square"/>
<line x1="274.00" y1="190.67" x2="281.90" y2="190.67" stroke="#555" stroke-width="0.45" stroke-linecap="square"/>
<line x1="274.00" y1="184.42" x2="274.00" y2="190.67" stroke="#555" stroke-width="0.45" stroke-linecap="square"/>
<line x1="271.50" y1="175.04" x2="275.50" y2="175.04" stroke="#555" stroke-width="0.45" stroke-linecap="square"/>
<line x1="271.50" y1="187.54" x2="274.00" y2="187.54" stroke="#555" stroke-width="0.45" stroke-linecap="square"/>
<line x1="271.50" y1="175.04" x2="271.50" y2="187.54" stroke="#555" stroke-width="0.45" stroke-linecap="square"/>
<line x1="270.00" y1="157.85" x2="274.50" y2="157.85" stroke="#555" stroke-width="0.45" stroke-linecap="square"/>
<line x1="270.00" y1="181.29" x2="271.50" y2="181.29" stroke="#555" stroke-width="0.45" stroke-linecap="square"/>
<line x1="270.00" y1="157.85" x2="270.00" y2="181.29" stroke="#555" stroke-width="0.45" stroke-linecap="square"/>
<line x1="269.00" y1="196.92" x2="281.90" y2="196.92" stroke="#555" stroke-width="0.45" stroke-linecap="square"/>
<line x1="269.00" y1="203.17" x2="281.90" y2="203.17" stroke="#555" stroke-width="0.45" stroke-linecap="square"/>
<line x1="269.00" y1="196.92" x2="269.00" y2="203.17" stroke="#555" stroke-width="0.45" stroke-linecap="square"/>
<line x1="266.40" y1="169.57" x2="270.00" y2="169.57" stroke="#555" stroke-width="0.45" stroke-linecap="square"/>
<line x1="266.40" y1="200.05" x2="269.00" y2="200.05" stroke="#555" stroke-width="0.45" stroke-linecap="square"/>
<line x1="266.40" y1="169.57" x2="266.40" y2="200.05" stroke="#555" stroke-width="0.45" stroke-linecap="square"/>
<line x1="262.30" y1="125.42" x2="276.30" y2="125.42" stroke="#555" stroke-width="0.45" stroke-linecap="square"/>
<line x1="262.30" y1="184.81" x2="266.40" y2="184.81" stroke="#555" stroke-width="0.45" stroke-linecap="square"/>
<line x1="262.30" y1="125.42" x2="262.30" y2="184.81" stroke="#555" stroke-width="0.45" stroke-linecap="square"/>
<line x1="252.50" y1="39.31" x2="265.50" y2="39.31" stroke="#555" stroke-width="0.45" stroke-linecap="square"/>
<line x1="252.50" y1="155.11" x2="262.30" y2="155.11" stroke="#555" stroke-width="0.45" stroke-linecap="square"/>
<line x1="252.50" y1="39.31" x2="252.50" y2="155.11" stroke="#555" stroke-width="0.45" stroke-linecap="square"/>
<text x="246.3" y="213" font-size="5.0" fill="#111" font-family="Liberation Sans, sans-serif">log10 (tpm+1)</text>
<defs><linearGradient id="og" x1="0" y1="0" x2="0" y2="1"><stop offset="0.000" stop-color="#7f2704"/><stop offset="0.125" stop-color="#a63603"/><stop offset="0.250" stop-color="#d94801"/><stop offset="0.375" stop-color="#f16913"/><stop offset="0.500" stop-color="#fd8d3c"/><stop offset="0.625" stop-color="#fdae6b"/><stop offset="0.750" stop-color="#fdd0a2"/><stop offset="0.875" stop-color="#fee6ce"/><stop offset="1.000" stop-color="#fff5eb"/></linearGradient>
<linearGradient id="vg" x1="0" y1="0" x2="0" y2="1"><stop offset="0.00" stop-color="#440154"/><stop offset="0.10" stop-color="#482475"/><stop offset="0.20" stop-color="#414487"/><stop offset="0.30" stop-color="#355f8d"/><stop offset="0.40" stop-color="#2a788e"/><stop offset="0.50" stop-color="#21918c"/><stop offset="0.60" stop-color="#22a884"/><stop offset="0.70" stop-color="#44bf70"/><stop offset="0.80" stop-color="#7ad151"/><stop offset="0.90" stop-color="#bddf26"/><stop offset="1.00" stop-color="#fde725"/></linearGradient></defs>
<rect x="259" y="215.8" width="4.8" height="27.2" fill="url(#og)"/>
<line x1="264.2" y1="217.30" x2="265.4" y2="217.30" stroke="#333" stroke-width="0.4"/>
<text x="266.6" y="218.90" font-size="4.5" fill="#111" font-family="Liberation Sans, sans-serif">2.5</text>
<line x1="264.2" y1="222.44" x2="265.4" y2="222.44" stroke="#333" stroke-width="0.4"/>
<text x="266.6" y="224.04" font-size="4.5" fill="#111" font-family="Liberation Sans, sans-serif">2.0</text>
<line x1="264.2" y1="227.58" x2="265.4" y2="227.58" stroke="#333" stroke-width="0.4"/>
<text x="266.6" y="229.18" font-size="4.5" fill="#111" font-family="Liberation Sans, sans-serif">1.5</text>
<line x1="264.2" y1="232.72" x2="265.4" y2="232.72" stroke="#333" stroke-width="0.4"/>
<text x="266.6" y="234.32" font-size="4.5" fill="#111" font-family="Liberation Sans, sans-serif">1.0</text>
<line x1="264.2" y1="237.86" x2="265.4" y2="237.86" stroke="#333" stroke-width="0.4"/>
<text x="266.6" y="239.46" font-size="4.5" fill="#111" font-family="Liberation Sans, sans-serif">0.5</text>
<line x1="264.2" y1="243.00" x2="265.4" y2="243.00" stroke="#333" stroke-width="0.4"/>
<text x="266.6" y="244.60" font-size="4.5" fill="#111" font-family="Liberation Sans, sans-serif">0.0</text>
<rect x="497.5" y="7.0" width="3" height="10.4" fill="url(#vg)"/>
<text x="501.2" y="8.40" font-size="2.4" font-weight="bold" fill="#111" font-family="Liberation Sans, sans-serif">1.0</text>
<text x="501.2" y="10.20" font-size="2.4" font-weight="bold" fill="#111" font-family="Liberation Sans, sans-serif">0.8</text>
<text x="501.2" y="12.00" font-size="2.4" font-weight="bold" fill="#111" font-family="Liberation Sans, sans-serif">0.6</text>
<text x="501.2" y="13.80" font-size="2.4" font-weight="bold" fill="#111" font-family="Liberation Sans, sans-serif">0.4</text>
<text x="501.2" y="15.60" font-size="2.4" font-weight="bold" fill="#111" font-family="Liberation Sans, sans-serif">0.2</text>
<text x="501.2" y="17.40" font-size="2.4" font-weight="bold" fill="#111" font-family="Liberation Sans, sans-serif">0.0</text>
<rect x="506.3" y="11.9" width="6.7" height="1.3" fill="#4046c0"/>
<rect x="513.3" y="15.4" width="6.5" height="2.1" fill="#111"/>
<rect x="506.3" y="17.7" width="168.9" height="1.5" fill="#bdbdbd"/>
<rect x="506.3" y="19.1" width="168.9" height="2.3" fill="#b266d6"/>
<rect x="506.3" y="19.1" width="6.6" height="2.3" fill="#f2b24e"/>
<text x="544.4" y="9.8" font-size="7.1" fill="#111" font-family="Liberation Sans, sans-serif"><tspan font-style="italic">Dopeav2005419m</tspan> ADAR-like</text>
<rect x="502.8" y="21.4" width="3.1" height="18.45" fill="#4046b4"/>
<rect x="502.8" y="39.849999999999994" width="3.1" height="4.1" fill="#9a1f9e"/>
<rect x="502.8" y="43.949999999999996" width="3.1" height="28.699999999999996" fill="#f5a200"/>
<rect x="506.3" y="21.4" width="168.9" height="51.24999999999999" fill="#cfcfcf"/>
<rect x="506.30" y="21.40" width="168.90" height="3.05" fill="#bad614"/>
<rect x="506.30" y="23.45" width="33.48" height="3.05" fill="#bad614"/>
<rect x="538.78" y="23.45" width="7.50" height="3.05" fill="#b1d41c"/>
<rect x="545.28" y="23.45" width="129.92" height="3.05" fill="#bad614"/>
<rect x="506.30" y="25.50" width="33.48" height="3.05" fill="#bad614"/>
<rect x="538.78" y="25.50" width="7.50" height="3.05" fill="#b1d41c"/>
<rect x="545.28" y="25.50" width="129.92" height="3.05" fill="#bad614"/>
<rect x="506.30" y="27.55" width="7.50" height="3.05" fill="#bad614"/>
<rect x="512.80" y="27.55" width="7.50" height="3.05" fill="#a4d132"/>
<rect x="519.29" y="27.55" width="155.91" height="3.05" fill="#bad614"/>
<rect x="506.30" y="29.60" width="168.90" height="3.05" fill="#bad614"/>
<rect x="506.30" y="31.65" width="7.50" height="3.05" fill="#bad614"/>
<rect x="512.80" y="31.65" width="7.50" height="3.05" fill="#b1d41c"/>
<rect x="519.29" y="31.65" width="20.49" height="3.05" fill="#bad614"/>
<rect x="538.78" y="31.65" width="7.50" height="3.05" fill="#b1d41c"/>
<rect x="545.28" y="31.65" width="129.92" height="3.05" fill="#bad614"/>
<rect x="506.30" y="33.70" width="13.99" height="3.05" fill="#b1d41c"/>
<rect x="519.29" y="33.70" width="155.91" height="3.05" fill="#bad614"/>
<rect x="506.30" y="35.75" width="13.99" height="3.05" fill="#b1d41c"/>
<rect x="519.29" y="35.75" width="155.91" height="3.05" fill="#bad614"/>
<rect x="506.30" y="37.80" width="7.50" height="3.05" fill="#bad614"/>
<rect x="512.80" y="37.80" width="7.50" height="3.05" fill="#b1d41c"/>
<rect x="519.29" y="37.80" width="155.91" height="3.05" fill="#bad614"/>
<rect x="506.30" y="39.85" width="33.48" height="3.05" fill="#bad614"/>
<rect x="538.78" y="39.85" width="7.50" height="3.05" fill="#b1d41c"/>
<rect x="545.28" y="39.85" width="129.92" height="3.05" fill="#bad614"/>
<rect x="506.30" y="41.90" width="168.90" height="3.05" fill="#bad614"/>
<rect x="506.30" y="43.95" width="168.90" height="3.05" fill="#bad614"/>
<rect x="506.30" y="46.00" width="33.48" height="3.05" fill="#bad614"/>
<rect x="538.78" y="46.00" width="7.50" height="3.05" fill="#a4d132"/>
<rect x="545.28" y="46.00" width="129.92" height="3.05" fill="#bad614"/>
<rect x="506.30" y="48.05" width="33.48" height="3.05" fill="#bad614"/>
<rect x="538.78" y="48.05" width="7.50" height="3.05" fill="#a4d132"/>
<rect x="545.28" y="48.05" width="129.92" height="3.05" fill="#bad614"/>
<rect x="506.30" y="50.10" width="33.48" height="3.05" fill="#bad614"/>
<rect x="538.78" y="50.10" width="7.50" height="3.05" fill="#a4d132"/>
<rect x="545.28" y="50.10" width="129.92" height="3.05" fill="#bad614"/>
<rect x="506.30" y="52.15" width="168.90" height="3.05" fill="#bad614"/>
<rect x="506.30" y="54.20" width="13.99" height="3.05" fill="#bad614"/>
<rect x="519.29" y="54.20" width="7.50" height="3.05" fill="#b1d41c"/>
<rect x="525.79" y="54.20" width="13.99" height="3.05" fill="#bad614"/>
<rect x="538.78" y="54.20" width="7.50" height="3.05" fill="#a4d132"/>
<rect x="545.28" y="54.20" width="129.92" height="3.05" fill="#bad614"/>
<rect x="506.30" y="56.25" width="13.99" height="3.05" fill="#bad614"/>
<rect x="519.29" y="56.25" width="7.50" height="3.05" fill="#b1d41c"/>
<rect x="525.79" y="56.25" width="13.99" height="3.05" fill="#bad614"/>
<rect x="538.78" y="56.25" width="7.50" height="3.05" fill="#a4d132"/>
<rect x="545.28" y="56.25" width="129.92" height="3.05" fill="#bad614"/>
<rect x="506.30" y="58.30" width="168.90" height="3.05" fill="#bad614"/>
<rect x="506.30" y="60.35" width="33.48" height="3.05" fill="#bad614"/>
<rect x="538.78" y="60.35" width="7.50" height="3.05" fill="#b1d41c"/>
<rect x="545.28" y="60.35" width="129.92" height="3.05" fill="#bad614"/>
<rect x="506.30" y="62.40" width="168.90" height="3.05" fill="#bad614"/>
<rect x="506.30" y="64.45" width="168.90" height="3.05" fill="#bad614"/>
<rect x="506.30" y="66.50" width="33.48" height="3.05" fill="#bad614"/>
<rect x="538.78" y="66.50" width="7.50" height="3.05" fill="#b1d41c"/>
<rect x="545.28" y="66.50" width="129.92" height="3.05" fill="#bad614"/>
<rect x="506.30" y="68.55" width="168.90" height="3.05" fill="#bad614"/>
<rect x="506.30" y="70.60" width="168.90" height="2.05" fill="#bad614"/>
<line x1="675.3" y1="22.42" x2="676.2" y2="22.42" stroke="#333" stroke-width="0.35"/>
<text x="676.9" y="23.22" font-size="2.3" font-weight="bold" fill="#111" font-family="Liberation Sans, sans-serif">GFL</text>
<line x1="675.3" y1="24.47" x2="676.2" y2="24.47" stroke="#333" stroke-width="0.35"/>
<text x="676.9" y="25.27" font-size="2.3" font-weight="bold" fill="#111" font-family="Liberation Sans, sans-serif">Sub</text>
<line x1="675.3" y1="26.52" x2="676.2" y2="26.52" stroke="#333" stroke-width="0.35"/>
<text x="676.9" y="27.32" font-size="2.3" font-weight="bold" fill="#111" font-family="Liberation Sans, sans-serif">SG</text>
<line x1="675.3" y1="28.57" x2="676.2" y2="28.57" stroke="#333" stroke-width="0.35"/>
<text x="676.9" y="29.37" font-size="2.3" font-weight="bold" fill="#111" font-family="Liberation Sans, sans-serif">OLl</text>
<line x1="675.3" y1="30.62" x2="676.2" y2="30.62" stroke="#333" stroke-width="0.35"/>
<text x="676.9" y="31.43" font-size="2.3" font-weight="bold" fill="#111" font-family="Liberation Sans, sans-serif">OLb</text>
<line x1="675.3" y1="32.67" x2="676.2" y2="32.67" stroke="#333" stroke-width="0.35"/>
<text x="676.9" y="33.47" font-size="2.3" font-weight="bold" fill="#111" font-family="Liberation Sans, sans-serif">SbL</text>
<line x1="675.3" y1="34.72" x2="676.2" y2="34.72" stroke="#333" stroke-width="0.35"/>
<text x="676.9" y="35.52" font-size="2.3" font-weight="bold" fill="#111" font-family="Liberation Sans, sans-serif">Sup</text>
<line x1="675.3" y1="36.77" x2="676.2" y2="36.77" stroke="#333" stroke-width="0.35"/>
<text x="676.9" y="37.57" font-size="2.3" font-weight="bold" fill="#111" font-family="Liberation Sans, sans-serif">VL</text>
<line x1="675.3" y1="38.82" x2="676.2" y2="38.82" stroke="#333" stroke-width="0.35"/>
<text x="676.9" y="39.62" font-size="2.3" font-weight="bold" fill="#111" font-family="Liberation Sans, sans-serif">BL</text>
<line x1="675.3" y1="40.88" x2="676.2" y2="40.88" stroke="#333" stroke-width="0.35"/>
<text x="676.9" y="41.67" font-size="2.3" font-weight="bold" fill="#111" font-family="Liberation Sans, sans-serif">ANC</text>
<line x1="675.3" y1="42.92" x2="676.2" y2="42.92" stroke="#333" stroke-width="0.35"/>
<text x="676.9" y="43.72" font-size="2.3" font-weight="bold" fill="#111" font-family="Liberation Sans, sans-serif">Ret</text>
<line x1="675.3" y1="44.97" x2="676.2" y2="44.97" stroke="#333" stroke-width="0.35"/>
<text x="676.9" y="45.77" font-size="2.3" font-weight="bold" fill="#111" font-family="Liberation Sans, sans-serif">BM</text>
<line x1="675.3" y1="47.02" x2="676.2" y2="47.02" stroke="#333" stroke-width="0.35"/>
<text x="676.9" y="47.82" font-size="2.3" font-weight="bold" fill="#111" font-family="Liberation Sans, sans-serif">DG</text>
<line x1="675.3" y1="49.07" x2="676.2" y2="49.07" stroke="#333" stroke-width="0.35"/>
<text x="676.9" y="49.87" font-size="2.3" font-weight="bold" fill="#111" font-family="Liberation Sans, sans-serif">Hep</text>
<line x1="675.3" y1="51.12" x2="676.2" y2="51.12" stroke="#333" stroke-width="0.35"/>
<text x="676.9" y="51.92" font-size="2.3" font-weight="bold" fill="#111" font-family="Liberation Sans, sans-serif">NPC</text>
<line x1="675.3" y1="53.17" x2="676.2" y2="53.17" stroke="#333" stroke-width="0.35"/>
<text x="676.9" y="53.97" font-size="2.3" font-weight="bold" fill="#111" font-family="Liberation Sans, sans-serif">Tes</text>
<line x1="675.3" y1="55.22" x2="676.2" y2="55.22" stroke="#333" stroke-width="0.35"/>
<text x="676.9" y="56.02" font-size="2.3" font-weight="bold" fill="#111" font-family="Liberation Sans, sans-serif">Ov</text>
<line x1="675.3" y1="57.27" x2="676.2" y2="57.27" stroke="#333" stroke-width="0.35"/>
<text x="676.9" y="58.07" font-size="2.3" font-weight="bold" fill="#111" font-family="Liberation Sans, sans-serif">Nid</text>
<line x1="675.3" y1="59.32" x2="676.2" y2="59.32" stroke="#333" stroke-width="0.35"/>
<text x="676.9" y="60.12" font-size="2.3" font-weight="bold" fill="#111" font-family="Liberation Sans, sans-serif">Man</text>
<line x1="675.3" y1="61.37" x2="676.2" y2="61.37" stroke="#333" stroke-width="0.35"/>
<text x="676.9" y="62.17" font-size="2.3" font-weight="bold" fill="#111" font-family="Liberation Sans, sans-serif">Hrt</text>
<line x1="675.3" y1="63.42" x2="676.2" y2="63.42" stroke="#333" stroke-width="0.35"/>
<text x="676.9" y="64.22" font-size="2.3" font-weight="bold" fill="#111" font-family="Liberation Sans, sans-serif">MHC</text>
<line x1="675.3" y1="65.47" x2="676.2" y2="65.47" stroke="#333" stroke-width="0.35"/>
<text x="676.9" y="66.27" font-size="2.3" font-weight="bold" fill="#111" font-family="Liberation Sans, sans-serif">Gl</text>
<line x1="675.3" y1="67.52" x2="676.2" y2="67.52" stroke="#333" stroke-width="0.35"/>
<text x="676.9" y="68.32" font-size="2.3" font-weight="bold" fill="#111" font-family="Liberation Sans, sans-serif">Kid</text>
<line x1="675.3" y1="69.57" x2="676.2" y2="69.57" stroke="#333" stroke-width="0.35"/>
<text x="676.9" y="70.37" font-size="2.3" font-weight="bold" fill="#111" font-family="Liberation Sans, sans-serif">Ten</text>
<line x1="675.3" y1="71.62" x2="676.2" y2="71.62" stroke="#333" stroke-width="0.35"/>
<text x="676.9" y="72.42" font-size="2.3" font-weight="bold" fill="#111" font-family="Liberation Sans, sans-serif">Suc</text>
<line x1="675.3" y1="12.50" x2="676.2" y2="12.50" stroke="#333" stroke-width="0.35"/>
<text x="676.9" y="13.30" font-size="2.3" font-weight="bold" fill="#111" font-family="Liberation Sans, sans-serif">position</text>
<line x1="675.3" y1="16.40" x2="676.2" y2="16.40" stroke="#333" stroke-width="0.35"/>
<text x="676.9" y="17.20" font-size="2.3" font-weight="bold" fill="#111" font-family="Liberation Sans, sans-serif">domain</text>
<line x1="675.3" y1="18.30" x2="676.2" y2="18.30" stroke="#333" stroke-width="0.35"/>
<text x="676.9" y="19.10" font-size="2.3" font-weight="bold" fill="#111" font-family="Liberation Sans, sans-serif">aa_change</text>
<line x1="675.3" y1="20.20" x2="676.2" y2="20.20" stroke="#333" stroke-width="0.35"/>
<text x="676.9" y="21.00" font-size="2.3" font-weight="bold" fill="#111" font-family="Liberation Sans, sans-serif">effect</text>
<line x1="509.55" y1="72.65" x2="509.55" y2="73.65" stroke="#333" stroke-width="0.4"/>
<text transform="translate(509.75,74.95) rotate(-45)" text-anchor="end" font-size="2.2" font-weight="bold" fill="#f2b24e" font-family="Liberation Sans, sans-serif">E_1000</text>
<line x1="516.04" y1="72.65" x2="516.04" y2="73.65" stroke="#333" stroke-width="0.4"/>
<text transform="translate(516.24,74.95) rotate(-45)" text-anchor="end" font-size="2.2" font-weight="bold" fill="#b266d6" font-family="Liberation Sans, sans-serif">E_1137</text>
<line x1="522.54" y1="72.65" x2="522.54" y2="73.65" stroke="#333" stroke-width="0.4"/>
<text transform="translate(522.74,74.95) rotate(-45)" text-anchor="end" font-size="2.2" font-weight="bold" fill="#b266d6" font-family="Liberation Sans, sans-serif">E_1274</text>
<line x1="529.04" y1="72.65" x2="529.04" y2="73.65" stroke="#333" stroke-width="0.4"/>
<text transform="translate(529.24,74.95) rotate(-45)" text-anchor="end" font-size="2.2" font-weight="bold" fill="#b266d6" font-family="Liberation Sans, sans-serif">E_1411</text>
<line x1="535.53" y1="72.65" x2="535.53" y2="73.65" stroke="#333" stroke-width="0.4"/>
<text transform="translate(535.73,74.95) rotate(-45)" text-anchor="end" font-size="2.2" font-weight="bold" fill="#b266d6" font-family="Liberation Sans, sans-serif">E_1548</text>
<line x1="542.03" y1="72.65" x2="542.03" y2="73.65" stroke="#333" stroke-width="0.4"/>
<text transform="translate(542.23,74.95) rotate(-45)" text-anchor="end" font-size="2.2" font-weight="bold" fill="#b266d6" font-family="Liberation Sans, sans-serif">E_1685</text>
<line x1="548.52" y1="72.65" x2="548.52" y2="73.65" stroke="#333" stroke-width="0.4"/>
<text transform="translate(548.73,74.95) rotate(-45)" text-anchor="end" font-size="2.2" font-weight="bold" fill="#b266d6" font-family="Liberation Sans, sans-serif">E_1822</text>
<line x1="555.02" y1="72.65" x2="555.02" y2="73.65" stroke="#333" stroke-width="0.4"/>
<text transform="translate(555.22,74.95) rotate(-45)" text-anchor="end" font-size="2.2" font-weight="bold" fill="#b266d6" font-family="Liberation Sans, sans-serif">E_1959</text>
<line x1="561.52" y1="72.65" x2="561.52" y2="73.65" stroke="#333" stroke-width="0.4"/>
<text transform="translate(561.72,74.95) rotate(-45)" text-anchor="end" font-size="2.2" font-weight="bold" fill="#b266d6" font-family="Liberation Sans, sans-serif">E_2096</text>
<line x1="568.01" y1="72.65" x2="568.01" y2="73.65" stroke="#333" stroke-width="0.4"/>
<text transform="translate(568.21,74.95) rotate(-45)" text-anchor="end" font-size="2.2" font-weight="bold" fill="#b266d6" font-family="Liberation Sans, sans-serif">E_2233</text>
<line x1="574.51" y1="72.65" x2="574.51" y2="73.65" stroke="#333" stroke-width="0.4"/>
<text transform="translate(574.71,74.95) rotate(-45)" text-anchor="end" font-size="2.2" font-weight="bold" fill="#b266d6" font-family="Liberation Sans, sans-serif">E_2370</text>
<line x1="581.01" y1="72.65" x2="581.01" y2="73.65" stroke="#333" stroke-width="0.4"/>
<text transform="translate(581.21,74.95) rotate(-45)" text-anchor="end" font-size="2.2" font-weight="bold" fill="#b266d6" font-family="Liberation Sans, sans-serif">E_2507</text>
<line x1="587.50" y1="72.65" x2="587.50" y2="73.65" stroke="#333" stroke-width="0.4"/>
<text transform="translate(587.70,74.95) rotate(-45)" text-anchor="end" font-size="2.2" font-weight="bold" fill="#b266d6" font-family="Liberation Sans, sans-serif">E_2644</text>
<line x1="594.00" y1="72.65" x2="594.00" y2="73.65" stroke="#333" stroke-width="0.4"/>
<text transform="translate(594.20,74.95) rotate(-45)" text-anchor="end" font-size="2.2" font-weight="bold" fill="#b266d6" font-family="Liberation Sans, sans-serif">E_2781</text>
<line x1="600.49" y1="72.65" x2="600.49" y2="73.65" stroke="#333" stroke-width="0.4"/>
<text transform="translate(600.69,74.95) rotate(-45)" text-anchor="end" font-size="2.2" font-weight="bold" fill="#b266d6" font-family="Liberation Sans, sans-serif">E_2918</text>
<line x1="606.99" y1="72.65" x2="606.99" y2="73.65" stroke="#333" stroke-width="0.4"/>
<text transform="translate(607.19,74.95) rotate(-45)" text-anchor="end" font-size="2.2" font-weight="bold" fill="#b266d6" font-family="Liberation Sans, sans-serif">E_3055</text>
<line x1="613.49" y1="72.65" x2="613.49" y2="73.65" stroke="#333" stroke-width="0.4"/>
<text transform="translate(613.69,74.95) rotate(-45)" text-anchor="end" font-size="2.2" font-weight="bold" fill="#b266d6" font-family="Liberation Sans, sans-serif">E_3192</text>
<line x1="619.98" y1="72.65" x2="619.98" y2="73.65" stroke="#333" stroke-width="0.4"/>
<text transform="translate(620.18,74.95) rotate(-45)" text-anchor="end" font-size="2.2" font-weight="bold" fill="#b266d6" font-family="Liberation Sans, sans-serif">E_3329</text>
<line x1="626.48" y1="72.65" x2="626.48" y2="73.65" stroke="#333" stroke-width="0.4"/>
<text transform="translate(626.68,74.95) rotate(-45)" text-anchor="end" font-size="2.2" font-weight="bold" fill="#b266d6" font-family="Liberation Sans, sans-serif">E_3466</text>
<line x1="632.98" y1="72.65" x2="632.98" y2="73.65" stroke="#333" stroke-width="0.4"/>
<text transform="translate(633.18,74.95) rotate(-45)" text-anchor="end" font-size="2.2" font-weight="bold" fill="#b266d6" font-family="Liberation Sans, sans-serif">E_3603</text>
<line x1="639.47" y1="72.65" x2="639.47" y2="73.65" stroke="#333" stroke-width="0.4"/>
<text transform="translate(639.67,74.95) rotate(-45)" text-anchor="end" font-size="2.2" font-weight="bold" fill="#b266d6" font-family="Liberation Sans, sans-serif">E_3740</text>
<line x1="645.97" y1="72.65" x2="645.97" y2="73.65" stroke="#333" stroke-width="0.4"/>
<text transform="translate(646.17,74.95) rotate(-45)" text-anchor="end" font-size="2.2" font-weight="bold" fill="#b266d6" font-family="Liberation Sans, sans-serif">E_3877</text>
<line x1="652.46" y1="72.65" x2="652.46" y2="73.65" stroke="#333" stroke-width="0.4"/>
<text transform="translate(652.66,74.95) rotate(-45)" text-anchor="end" font-size="2.2" font-weight="bold" fill="#b266d6" font-family="Liberation Sans, sans-serif">E_4014</text>
<line x1="658.96" y1="72.65" x2="658.96" y2="73.65" stroke="#333" stroke-width="0.4"/>
<text transform="translate(659.16,74.95) rotate(-45)" text-anchor="end" font-size="2.2" font-weight="bold" fill="#b266d6" font-family="Liberation Sans, sans-serif">E_4151</text>
<line x1="665.46" y1="72.65" x2="665.46" y2="73.65" stroke="#333" stroke-width="0.4"/>
<text transform="translate(665.66,74.95) rotate(-45)" text-anchor="end" font-size="2.2" font-weight="bold" fill="#b266d6" font-family="Liberation Sans, sans-serif">E_4288</text>
<line x1="671.95" y1="72.65" x2="671.95" y2="73.65" stroke="#333" stroke-width="0.4"/>
<text transform="translate(672.15,74.95) rotate(-45)" text-anchor="end" font-size="2.2" font-weight="bold" fill="#b266d6" font-family="Liberation Sans, sans-serif">E_4425</text>
<rect x="497.5" y="93.4" width="3" height="10.4" fill="url(#vg)"/>
<text x="501.2" y="94.80" font-size="2.4" font-weight="bold" fill="#111" font-family="Liberation Sans, sans-serif">1.0</text>
<text x="501.2" y="96.60" font-size="2.4" font-weight="bold" fill="#111" font-family="Liberation Sans, sans-serif">0.8</text>
<text x="501.2" y="98.40" font-size="2.4" font-weight="bold" fill="#111" font-family="Liberation Sans, sans-serif">0.6</text>
<text x="501.2" y="100.20" font-size="2.4" font-weight="bold" fill="#111" font-family="Liberation Sans, sans-serif">0.4</text>
<text x="501.2" y="102.00" font-size="2.4" font-weight="bold" fill="#111" font-family="Liberation Sans, sans-serif">0.2</text>
<text x="501.2" y="103.80" font-size="2.4" font-weight="bold" fill="#111" font-family="Liberation Sans, sans-serif">0.0</text>
<rect x="506.3" y="96.9" width="168.9" height="1.6" fill="#4046c0"/>
<rect x="506.3" y="98.8" width="37.1" height="2.4" fill="#111"/>
<rect x="637.7" y="98.8" width="37.5" height="2.4" fill="#111"/>
<rect x="506.3" y="103.3" width="74.9" height="1.9" fill="#bdbdbd"/>
<rect x="581.2" y="103.3" width="94" height="1.9" fill="#4046c0"/>
<rect x="506.30" y="105.1" width="168.90" height="2.0" fill="#d82424"/>
<rect x="525.07" y="105.1" width="150.13" height="2.0" fill="#f2b24e"/>
<rect x="543.83" y="105.1" width="131.37" height="2.0" fill="#f2b24e"/>
<rect x="562.60" y="105.1" width="112.60" height="2.0" fill="#d82424"/>
<rect x="581.37" y="105.1" width="93.83" height="2.0" fill="#d82424"/>
<rect x="600.13" y="105.1" width="75.07" height="2.0" fill="#d82424"/>
<rect x="618.90" y="105.1" width="56.30" height="2.0" fill="#f2b24e"/>
<rect x="637.67" y="105.1" width="37.53" height="2.0" fill="#d82424"/>
<rect x="656.43" y="105.1" width="18.77" height="2.0" fill="#f2b24e"/>
<text x="549.2" y="93.5" font-size="7.1" fill="#111" font-family="Liberation Sans, sans-serif"><tspan font-style="italic">Dopeav2118252m</tspan> ADAR2</text>
<rect x="502.8" y="107.1" width="3.1" height="18.45" fill="#4046b4"/>
<rect x="502.8" y="125.55" width="3.1" height="4.1" fill="#9a1f9e"/>
<rect x="502.8" y="129.64999999999998" width="3.1" height="28.699999999999996" fill="#f5a200"/>
<rect x="506.3" y="107.1" width="168.9" height="51.24999999999999" fill="#bad614"/>
<rect x="506.30" y="107.10" width="38.53" height="3.05" fill="#cfcfcf"/>
<rect x="543.83" y="107.10" width="38.53" height="3.05" fill="#bad614"/>
<rect x="581.37" y="107.10" width="19.77" height="3.05" fill="#21918c"/>
<rect x="600.13" y="107.10" width="38.53" height="3.05" fill="#cfcfcf"/>
<rect x="637.67" y="107.10" width="37.53" height="3.05" fill="#bad614"/>
<rect x="506.30" y="109.15" width="76.07" height="3.05" fill="#bad614"/>
<rect x="581.37" y="109.15" width="19.77" height="3.05" fill="#2c728e"/>
<rect x="600.13" y="109.15" width="19.77" height="3.05" fill="#35b779"/>
<rect x="618.90" y="109.15" width="19.77" height="3.05" fill="#bad614"/>
<rect x="637.67" y="109.15" width="19.77" height="3.05" fill="#21918c"/>
<rect x="656.43" y="109.15" width="18.77" height="3.05" fill="#86d045"/>
<rect x="506.30" y="111.20" width="19.77" height="3.05" fill="#bad614"/>
<rect x="525.07" y="111.20" width="19.77" height="3.05" fill="#86d045"/>
<rect x="543.83" y="111.20" width="38.53" height="3.05" fill="#bad614"/>
<rect x="581.37" y="111.20" width="19.77" height="3.05" fill="#3b528b"/>
<rect x="600.13" y="111.20" width="19.77" height="3.05" fill="#5cc863"/>
<rect x="618.90" y="111.20" width="19.77" height="3.05" fill="#bad614"/>
<rect x="637.67" y="111.20" width="19.77" height="3.05" fill="#21918c"/>
<rect x="656.43" y="111.20" width="18.77" height="3.05" fill="#bad614"/>
<rect x="506.30" y="113.25" width="76.07" height="3.05" fill="#bad614"/>
<rect x="581.37" y="113.25" width="19.77" height="3.05" fill="#3b528b"/>
<rect x="600.13" y="113.25" width="19.77" height="3.05" fill="#5cc863"/>
<rect x="618.90" y="113.25" width="56.30" height="3.05" fill="#bad614"/>
<rect x="506.30" y="115.30" width="19.77" height="3.05" fill="#b1d41c"/>
<rect x="525.07" y="115.30" width="57.30" height="3.05" fill="#bad614"/>
<rect x="581.37" y="115.30" width="19.77" height="3.05" fill="#3e4f8a"/>
<rect x="600.13" y="115.30" width="19.77" height="3.05" fill="#5cc863"/>
<rect x="618.90" y="115.30" width="19.77" height="3.05" fill="#bad614"/>
<rect x="637.67" y="115.30" width="19.77" height="3.05" fill="#21918c"/>
<rect x="656.43" y="115.30" width="18.77" height="3.05" fill="#bad614"/>
<rect x="506.30" y="117.35" width="19.77" height="3.05" fill="#bad614"/>
<rect x="525.07" y="117.35" width="57.30" height="3.05" fill="#b1d41c"/>
<rect x="581.37" y="117.35" width="19.77" height="3.05" fill="#3e4f8a"/>
<rect x="600.13" y="117.35" width="19.77" height="3.05" fill="#5cc863"/>
<rect x="618.90" y="117.35" width="19.77" height="3.05" fill="#bad614"/>
<rect x="637.67" y="117.35" width="19.77" height="3.05" fill="#21918c"/>
<rect x="656.43" y="117.35" width="18.77" height="3.05" fill="#bad614"/>
<rect x="506.30" y="119.40" width="76.07" height="3.05" fill="#bad614"/>
<rect x="581.37" y="119.40" width="19.77" height="3.05" fill="#3e4f8a"/>
<rect x="600.13" y="119.40" width="19.77" height="3.05" fill="#86d045"/>
<rect x="618.90" y="119.40" width="19.77" height="3.05" fill="#bad614"/>
<rect x="637.67" y="119.40" width="19.77" height="3.05" fill="#86d045"/>
<rect x="656.43" y="119.40" width="18.77" height="3.05" fill="#bad614"/>
<rect x="506.30" y="121.45" width="76.07" height="3.05" fill="#bad614"/>
<rect x="581.37" y="121.45" width="19.77" height="3.05" fill="#3e4f8a"/>
<rect x="600.13" y="121.45" width="19.77" height="3.05" fill="#86d045"/>
<rect x="618.90" y="121.45" width="19.77" height="3.05" fill="#b1d41c"/>
<rect x="637.67" y="121.45" width="19.77" height="3.05" fill="#21918c"/>
<rect x="656.43" y="121.45" width="18.77" height="3.05" fill="#bad614"/>
<rect x="506.30" y="123.50" width="19.77" height="3.05" fill="#b1d41c"/>
<rect x="525.07" y="123.50" width="57.30" height="3.05" fill="#bad614"/>
<rect x="581.37" y="123.50" width="19.77" height="3.05" fill="#3e4f8a"/>
<rect x="600.13" y="123.50" width="19.77" height="3.05" fill="#5cc863"/>
<rect x="618.90" y="123.50" width="56.30" height="3.05" fill="#bad614"/>
<rect x="506.30" y="125.55" width="76.07" height="3.05" fill="#bad614"/>
<rect x="581.37" y="125.55" width="19.77" height="3.05" fill="#21918c"/>
<rect x="600.13" y="125.55" width="19.77" height="3.05" fill="#35b779"/>
<rect x="618.90" y="125.55" width="19.77" height="3.05" fill="#cfcfcf"/>
<rect x="637.67" y="125.55" width="19.77" height="3.05" fill="#21918c"/>
<rect x="656.43" y="125.55" width="18.77" height="3.05" fill="#bad614"/>
<rect x="506.30" y="127.60" width="76.07" height="3.05" fill="#bad614"/>
<rect x="581.37" y="127.60" width="19.77" height="3.05" fill="#3b528b"/>
<rect x="600.13" y="127.60" width="19.77" height="3.05" fill="#86d045"/>
<rect x="618.90" y="127.60" width="56.30" height="3.05" fill="#bad614"/>
<rect x="506.30" y="129.65" width="76.07" height="3.05" fill="#bad614"/>
<rect x="581.37" y="129.65" width="19.77" height="3.05" fill="#5cc863"/>
<rect x="600.13" y="129.65" width="38.53" height="3.05" fill="#bad614"/>
<rect x="637.67" y="129.65" width="19.77" height="3.05" fill="#cfcfcf"/>
<rect x="656.43" y="129.65" width="18.77" height="3.05" fill="#bad614"/>
<rect x="506.30" y="131.70" width="76.07" height="3.05" fill="#bad614"/>
<rect x="581.37" y="131.70" width="19.77" height="3.05" fill="#35b779"/>
<rect x="600.13" y="131.70" width="19.77" height="3.05" fill="#5cc863"/>
<rect x="618.90" y="131.70" width="56.30" height="3.05" fill="#bad614"/>
<rect x="506.30" y="133.75" width="132.37" height="3.05" fill="#cfcfcf"/>
<rect x="637.67" y="133.75" width="19.77" height="3.05" fill="#bad614"/>
<rect x="656.43" y="133.75" width="18.77" height="3.05" fill="#cfcfcf"/>
<rect x="506.30" y="135.80" width="76.07" height="3.05" fill="#bad614"/>
<rect x="581.37" y="135.80" width="19.77" height="3.05" fill="#35b779"/>
<rect x="600.13" y="135.80" width="75.07" height="3.05" fill="#bad614"/>
<rect x="506.30" y="137.85" width="94.83" height="3.05" fill="#bad614"/>
<rect x="600.13" y="137.85" width="19.77" height="3.05" fill="#b1d41c"/>
<rect x="618.90" y="137.85" width="19.77" height="3.05" fill="#bad614"/>
<rect x="637.67" y="137.85" width="19.77" height="3.05" fill="#86d045"/>
<rect x="656.43" y="137.85" width="18.77" height="3.05" fill="#b1d41c"/>
<rect x="506.30" y="139.90" width="19.77" height="3.05" fill="#bad614"/>
<rect x="525.07" y="139.90" width="19.77" height="3.05" fill="#b1d41c"/>
<rect x="543.83" y="139.90" width="38.53" height="3.05" fill="#bad614"/>
<rect x="581.37" y="139.90" width="19.77" height="3.05" fill="#21918c"/>
<rect x="600.13" y="139.90" width="19.77" height="3.05" fill="#bad614"/>
<rect x="618.90" y="139.90" width="38.53" height="3.05" fill="#b1d41c"/>
<rect x="656.43" y="139.90" width="18.77" height="3.05" fill="#bad614"/>
<rect x="506.30" y="141.95" width="76.07" height="3.05" fill="#cfcfcf"/>
<rect x="581.37" y="141.95" width="19.77" height="3.05" fill="#21918c"/>
<rect x="600.13" y="141.95" width="19.77" height="3.05" fill="#bad614"/>
<rect x="618.90" y="141.95" width="56.30" height="3.05" fill="#cfcfcf"/>
<rect x="506.30" y="144.00" width="19.77" height="3.05" fill="#bad614"/>
<rect x="525.07" y="144.00" width="57.30" height="3.05" fill="#cfcfcf"/>
<rect x="581.37" y="144.00" width="38.53" height="3.05" fill="#bad614"/>
<rect x="618.90" y="144.00" width="56.30" height="3.05" fill="#cfcfcf"/>
<rect x="506.30" y="146.05" width="76.07" height="3.05" fill="#bad614"/>
<rect x="581.37" y="146.05" width="19.77" height="3.05" fill="#21918c"/>
<rect x="600.13" y="146.05" width="19.77" height="3.05" fill="#b1d41c"/>
<rect x="618.90" y="146.05" width="56.30" height="3.05" fill="#bad614"/>
<rect x="506.30" y="148.10" width="76.07" height="3.05" fill="#bad614"/>
<rect x="581.37" y="148.10" width="19.77" height="3.05" fill="#86d045"/>
<rect x="600.13" y="148.10" width="19.77" height="3.05" fill="#bad614"/>
<rect x="618.90" y="148.10" width="19.77" height="3.05" fill="#cfcfcf"/>
<rect x="637.67" y="148.10" width="19.77" height="3.05" fill="#bad614"/>
<rect x="656.43" y="148.10" width="18.77" height="3.05" fill="#cfcfcf"/>
<rect x="506.30" y="150.15" width="76.07" height="3.05" fill="#bad614"/>
<rect x="581.37" y="150.15" width="57.30" height="3.05" fill="#cfcfcf"/>
<rect x="637.67" y="150.15" width="37.53" height="3.05" fill="#bad614"/>
<rect x="506.30" y="152.20" width="76.07" height="3.05" fill="#bad614"/>
<rect x="581.37" y="152.20" width="19.77" height="3.05" fill="#86d045"/>
<rect x="600.13" y="152.20" width="75.07" height="3.05" fill="#bad614"/>
<rect x="506.30" y="154.25" width="76.07" height="3.05" fill="#bad614"/>
<rect x="581.37" y="154.25" width="19.77" height="3.05" fill="#35b779"/>
<rect x="600.13" y="154.25" width="19.77" height="3.05" fill="#86d045"/>
<rect x="618.90" y="154.25" width="56.30" height="3.05" fill="#bad614"/>
<rect x="506.30" y="156.30" width="76.07" height="2.05" fill="#bad614"/>
<rect x="581.37" y="156.30" width="19.77" height="2.05" fill="#21918c"/>
<rect x="600.13" y="156.30" width="19.77" height="2.05" fill="#86d045"/>
<rect x="618.90" y="156.30" width="19.77" height="2.05" fill="#bad614"/>
<rect x="637.67" y="156.30" width="19.77" height="2.05" fill="#cfcfcf"/>
<rect x="656.43" y="156.30" width="18.77" height="2.05" fill="#bad614"/>
<line x1="675.3" y1="108.12" x2="676.2" y2="108.12" stroke="#333" stroke-width="0.35"/>
<text x="676.9" y="108.92" font-size="2.3" font-weight="bold" fill="#111" font-family="Liberation Sans, sans-serif">GFL</text>
<line x1="675.3" y1="110.17" x2="676.2" y2="110.17" stroke="#333" stroke-width="0.35"/>
<text x="676.9" y="110.97" font-size="2.3" font-weight="bold" fill="#111" font-family="Liberation Sans, sans-serif">Sub</text>
<line x1="675.3" y1="112.22" x2="676.2" y2="112.22" stroke="#333" stroke-width="0.35"/>
<text x="676.9" y="113.02" font-size="2.3" font-weight="bold" fill="#111" font-family="Liberation Sans, sans-serif">SG</text>
<line x1="675.3" y1="114.27" x2="676.2" y2="114.27" stroke="#333" stroke-width="0.35"/>
<text x="676.9" y="115.07" font-size="2.3" font-weight="bold" fill="#111" font-family="Liberation Sans, sans-serif">OLl</text>
<line x1="675.3" y1="116.32" x2="676.2" y2="116.32" stroke="#333" stroke-width="0.35"/>
<text x="676.9" y="117.12" font-size="2.3" font-weight="bold" fill="#111" font-family="Liberation Sans, sans-serif">OLb</text>
<line x1="675.3" y1="118.38" x2="676.2" y2="118.38" stroke="#333" stroke-width="0.35"/>
<text x="676.9" y="119.17" font-size="2.3" font-weight="bold" fill="#111" font-family="Liberation Sans, sans-serif">SbL</text>
<line x1="675.3" y1="120.42" x2="676.2" y2="120.42" stroke="#333" stroke-width="0.35"/>
<text x="676.9" y="121.22" font-size="2.3" font-weight="bold" fill="#111" font-family="Liberation Sans, sans-serif">Sup</text>
<line x1="675.3" y1="122.47" x2="676.2" y2="122.47" stroke="#333" stroke-width="0.35"/>
<text x="676.9" y="123.27" font-size="2.3" font-weight="bold" fill="#111" font-family="Liberation Sans, sans-serif">VL</text>
<line x1="675.3" y1="124.52" x2="676.2" y2="124.52" stroke="#333" stroke-width="0.35"/>
<text x="676.9" y="125.32" font-size="2.3" font-weight="bold" fill="#111" font-family="Liberation Sans, sans-serif">BL</text>
<line x1="675.3" y1="126.57" x2="676.2" y2="126.57" stroke="#333" stroke-width="0.35"/>
<text x="676.9" y="127.37" font-size="2.3" font-weight="bold" fill="#111" font-family="Liberation Sans, sans-serif">ANC</text>
<line x1="675.3" y1="128.62" x2="676.2" y2="128.62" stroke="#333" stroke-width="0.35"/>
<text x="676.9" y="129.43" font-size="2.3" font-weight="bold" fill="#111" font-family="Liberation Sans, sans-serif">Ret</text>
<line x1="675.3" y1="130.67" x2="676.2" y2="130.67" stroke="#333" stroke-width="0.35"/>
<text x="676.9" y="131.47" font-size="2.3" font-weight="bold" fill="#111" font-family="Liberation Sans, sans-serif">BM</text>
<line x1="675.3" y1="132.72" x2="676.2" y2="132.72" stroke="#333" stroke-width="0.35"/>
<text x="676.9" y="133.53" font-size="2.3" font-weight="bold" fill="#111" font-family="Liberation Sans, sans-serif">DG</text>
<line x1="675.3" y1="134.77" x2="676.2" y2="134.77" stroke="#333" stroke-width="0.35"/>
<text x="676.9" y="135.57" font-size="2.3" font-weight="bold" fill="#111" font-family="Liberation Sans, sans-serif">Hep</text>
<line x1="675.3" y1="136.82" x2="676.2" y2="136.82" stroke="#333" stroke-width="0.35"/>
<text x="676.9" y="137.62" font-size="2.3" font-weight="bold" fill="#111" font-family="Liberation Sans, sans-serif">NPC</text>
<line x1="675.3" y1="138.88" x2="676.2" y2="138.88" stroke="#333" stroke-width="0.35"/>
<text x="676.9" y="139.68" font-size="2.3" font-weight="bold" fill="#111" font-family="Liberation Sans, sans-serif">Tes</text>
<line x1="675.3" y1="140.92" x2="676.2" y2="140.92" stroke="#333" stroke-width="0.35"/>
<text x="676.9" y="141.72" font-size="2.3" font-weight="bold" fill="#111" font-family="Liberation Sans, sans-serif">Ov</text>
<line x1="675.3" y1="142.97" x2="676.2" y2="142.97" stroke="#333" stroke-width="0.35"/>
<text x="676.9" y="143.78" font-size="2.3" font-weight="bold" fill="#111" font-family="Liberation Sans, sans-serif">Nid</text>
<line x1="675.3" y1="145.02" x2="676.2" y2="145.02" stroke="#333" stroke-width="0.35"/>
<text x="676.9" y="145.82" font-size="2.3" font-weight="bold" fill="#111" font-family="Liberation Sans, sans-serif">Man</text>
<line x1="675.3" y1="147.07" x2="676.2" y2="147.07" stroke="#333" stroke-width="0.35"/>
<text x="676.9" y="147.88" font-size="2.3" font-weight="bold" fill="#111" font-family="Liberation Sans, sans-serif">Hrt</text>
<line x1="675.3" y1="149.12" x2="676.2" y2="149.12" stroke="#333" stroke-width="0.35"/>
<text x="676.9" y="149.93" font-size="2.3" font-weight="bold" fill="#111" font-family="Liberation Sans, sans-serif">MHC</text>
<line x1="675.3" y1="151.17" x2="676.2" y2="151.17" stroke="#333" stroke-width="0.35"/>
<text x="676.9" y="151.97" font-size="2.3" font-weight="bold" fill="#111" font-family="Liberation Sans, sans-serif">Gl</text>
<line x1="675.3" y1="153.22" x2="676.2" y2="153.22" stroke="#333" stroke-width="0.35"/>
<text x="676.9" y="154.03" font-size="2.3" font-weight="bold" fill="#111" font-family="Liberation Sans, sans-serif">Kid</text>
<line x1="675.3" y1="155.27" x2="676.2" y2="155.27" stroke="#333" stroke-width="0.35"/>
<text x="676.9" y="156.07" font-size="2.3" font-weight="bold" fill="#111" font-family="Liberation Sans, sans-serif">Ten</text>
<line x1="675.3" y1="157.32" x2="676.2" y2="157.32" stroke="#333" stroke-width="0.35"/>
<text x="676.9" y="158.12" font-size="2.3" font-weight="bold" fill="#111" font-family="Liberation Sans, sans-serif">Suc</text>
<line x1="675.3" y1="97.70" x2="676.2" y2="97.70" stroke="#333" stroke-width="0.35"/>
<text x="676.9" y="98.50" font-size="2.3" font-weight="bold" fill="#111" font-family="Liberation Sans, sans-serif">position</text>
<line x1="675.3" y1="100.00" x2="676.2" y2="100.00" stroke="#333" stroke-width="0.35"/>
<text x="676.9" y="100.80" font-size="2.3" font-weight="bold" fill="#111" font-family="Liberation Sans, sans-serif">domain</text>
<line x1="675.3" y1="103.90" x2="676.2" y2="103.90" stroke="#333" stroke-width="0.35"/>
<text x="676.9" y="104.70" font-size="2.3" font-weight="bold" fill="#111" font-family="Liberation Sans, sans-serif">aa_change</text>
<line x1="675.3" y1="105.90" x2="676.2" y2="105.90" stroke="#333" stroke-width="0.35"/>
<text x="676.9" y="106.70" font-size="2.3" font-weight="bold" fill="#111" font-family="Liberation Sans, sans-serif">effect</text>
<line x1="515.68" y1="158.35" x2="515.68" y2="159.35" stroke="#333" stroke-width="0.4"/>
<text transform="translate(515.88,160.65) rotate(-45)" text-anchor="end" font-size="2.2" font-weight="bold" fill="#d82424" font-family="Liberation Sans, sans-serif">E_1000</text>
<line x1="534.45" y1="158.35" x2="534.45" y2="159.35" stroke="#333" stroke-width="0.4"/>
<text transform="translate(534.65,160.65) rotate(-45)" text-anchor="end" font-size="2.2" font-weight="bold" fill="#f2b24e" font-family="Liberation Sans, sans-serif">E_1137</text>
<line x1="553.22" y1="158.35" x2="553.22" y2="159.35" stroke="#333" stroke-width="0.4"/>
<text transform="translate(553.42,160.65) rotate(-45)" text-anchor="end" font-size="2.2" font-weight="bold" fill="#f2b24e" font-family="Liberation Sans, sans-serif">E_1274</text>
<line x1="571.98" y1="158.35" x2="571.98" y2="159.35" stroke="#333" stroke-width="0.4"/>
<text transform="translate(572.18,160.65) rotate(-45)" text-anchor="end" font-size="2.2" font-weight="bold" fill="#d82424" font-family="Liberation Sans, sans-serif">E_1411</text>
<line x1="590.75" y1="158.35" x2="590.75" y2="159.35" stroke="#333" stroke-width="0.4"/>
<text transform="translate(590.95,160.65) rotate(-45)" text-anchor="end" font-size="2.2" font-weight="bold" fill="#d82424" font-family="Liberation Sans, sans-serif">E_1548</text>
<line x1="609.52" y1="158.35" x2="609.52" y2="159.35" stroke="#333" stroke-width="0.4"/>
<text transform="translate(609.72,160.65) rotate(-45)" text-anchor="end" font-size="2.2" font-weight="bold" fill="#d82424" font-family="Liberation Sans, sans-serif">E_1685</text>
<line x1="628.28" y1="158.35" x2="628.28" y2="159.35" stroke="#333" stroke-width="0.4"/>
<text transform="translate(628.48,160.65) rotate(-45)" text-anchor="end" font-size="2.2" font-weight="bold" fill="#f2b24e" font-family="Liberation Sans, sans-serif">E_1822</text>
<line x1="647.05" y1="158.35" x2="647.05" y2="159.35" stroke="#333" stroke-width="0.4"/>
<text transform="translate(647.25,160.65) rotate(-45)" text-anchor="end" font-size="2.2" font-weight="bold" fill="#d82424" font-family="Liberation Sans, sans-serif">E_1959</text>
<line x1="665.82" y1="158.35" x2="665.82" y2="159.35" stroke="#333" stroke-width="0.4"/>
<text transform="translate(666.02,160.65) rotate(-45)" text-anchor="end" font-size="2.2" font-weight="bold" fill="#f2b24e" font-family="Liberation Sans, sans-serif">E_2096</text>
<rect x="497.5" y="177.8" width="3" height="10.4" fill="url(#vg)"/>
<text x="501.2" y="179.20" font-size="2.4" font-weight="bold" fill="#111" font-family="Liberation Sans, sans-serif">1.0</text>
<text x="501.2" y="181.00" font-size="2.4" font-weight="bold" fill="#111" font-family="Liberation Sans, sans-serif">0.8</text>
<text x="501.2" y="182.80" font-size="2.4" font-weight="bold" fill="#111" font-family="Liberation Sans, sans-serif">0.6</text>
<text x="501.2" y="184.60" font-size="2.4" font-weight="bold" fill="#111" font-family="Liberation Sans, sans-serif">0.4</text>
<text x="501.2" y="186.40" font-size="2.4" font-weight="bold" fill="#111" font-family="Liberation Sans, sans-serif">0.2</text>
<text x="501.2" y="188.20" font-size="2.4" font-weight="bold" fill="#111" font-family="Liberation Sans, sans-serif">0.0</text>
<rect x="512.9" y="181.6" width="155.4" height="1.6" fill="#4046c0"/>
<rect x="519.4" y="183.5" width="12.6" height="2.1" fill="#111"/>
<rect x="604" y="183.5" width="6" height="2.1" fill="#111"/>
<rect x="623.1" y="183.5" width="45.2" height="2.1" fill="#111"/>
<rect x="506.3" y="187.6" width="162.2" height="2.1" fill="#4046c0"/>
<rect x="668.5" y="187.6" width="6.7" height="2.1" fill="#b266d6"/>
<rect x="506.30" y="189.6" width="168.90" height="2.0" fill="#44b044"/>
<rect x="512.80" y="189.6" width="162.40" height="2.0" fill="#d82424"/>
<rect x="519.29" y="189.6" width="155.91" height="2.0" fill="#d82424"/>
<rect x="525.79" y="189.6" width="149.41" height="2.0" fill="#d82424"/>
<rect x="532.28" y="189.6" width="142.92" height="2.0" fill="#d82424"/>
<rect x="538.78" y="189.6" width="136.42" height="2.0" fill="#d82424"/>
<rect x="545.28" y="189.6" width="129.92" height="2.0" fill="#d82424"/>
<rect x="551.77" y="189.6" width="123.43" height="2.0" fill="#f2b24e"/>
<rect x="558.27" y="189.6" width="116.93" height="2.0" fill="#d82424"/>
<rect x="564.77" y="189.6" width="110.43" height="2.0" fill="#d82424"/>
<rect x="571.26" y="189.6" width="103.94" height="2.0" fill="#d82424"/>
<rect x="577.76" y="189.6" width="97.44" height="2.0" fill="#d82424"/>
<rect x="584.25" y="189.6" width="90.95" height="2.0" fill="#f2b24e"/>
<rect x="590.75" y="189.6" width="84.45" height="2.0" fill="#d82424"/>
<rect x="597.25" y="189.6" width="77.95" height="2.0" fill="#d82424"/>
<rect x="603.74" y="189.6" width="71.46" height="2.0" fill="#d82424"/>
<rect x="610.24" y="189.6" width="64.96" height="2.0" fill="#d82424"/>
<rect x="616.73" y="189.6" width="58.47" height="2.0" fill="#d82424"/>
<rect x="623.23" y="189.6" width="51.97" height="2.0" fill="#d82424"/>
<rect x="629.73" y="189.6" width="45.47" height="2.0" fill="#d82424"/>
<rect x="636.22" y="189.6" width="38.98" height="2.0" fill="#d82424"/>
<rect x="642.72" y="189.6" width="32.48" height="2.0" fill="#f2b24e"/>
<rect x="649.22" y="189.6" width="25.98" height="2.0" fill="#d82424"/>
<rect x="655.71" y="189.6" width="19.49" height="2.0" fill="#d82424"/>
<rect x="662.21" y="189.6" width="12.99" height="2.0" fill="#f2b24e"/>
<rect x="668.70" y="189.6" width="6.50" height="2.0" fill="#b266d6"/>
<text x="549.2" y="178.1" font-size="7.1" fill="#111" font-family="Liberation Sans, sans-serif"><tspan font-style="italic">Dopeav2016222m</tspan> ADAR1</text>
<rect x="502.8" y="191.6" width="3.1" height="18.45" fill="#4046b4"/>
<rect x="502.8" y="210.04999999999998" width="3.1" height="4.1" fill="#9a1f9e"/>
<rect x="502.8" y="214.14999999999998" width="3.1" height="28.699999999999996" fill="#f5a200"/>
<rect x="506.3" y="191.6" width="168.9" height="51.24999999999999" fill="#cfcfcf"/>
<rect x="506.30" y="191.60" width="7.50" height="3.05" fill="#bad614"/>
<rect x="512.80" y="191.60" width="7.50" height="3.05" fill="#b1d41c"/>
<rect x="519.29" y="191.60" width="13.99" height="3.05" fill="#cfcfcf"/>
<rect x="532.28" y="191.60" width="7.50" height="3.05" fill="#bad614"/>
<rect x="538.78" y="191.60" width="39.98" height="3.05" fill="#cfcfcf"/>
<rect x="577.76" y="191.60" width="13.99" height="3.05" fill="#5cc863"/>
<rect x="590.75" y="191.60" width="7.50" height="3.05" fill="#bad614"/>
<rect x="597.25" y="191.60" width="7.50" height="3.05" fill="#86d045"/>
<rect x="603.74" y="191.60" width="7.50" height="3.05" fill="#cfcfcf"/>
<rect x="610.24" y="191.60" width="7.50" height="3.05" fill="#bad614"/>
<rect x="616.73" y="191.60" width="7.50" height="3.05" fill="#5cc863"/>
<rect x="623.23" y="191.60" width="7.50" height="3.05" fill="#3b528b"/>
<rect x="629.73" y="191.60" width="7.50" height="3.05" fill="#46327e"/>
<rect x="636.22" y="191.60" width="7.50" height="3.05" fill="#21918c"/>
<rect x="642.72" y="191.60" width="7.50" height="3.05" fill="#35b779"/>
<rect x="649.22" y="191.60" width="7.50" height="3.05" fill="#3b528b"/>
<rect x="655.71" y="191.60" width="7.50" height="3.05" fill="#bad614"/>
<rect x="662.21" y="191.60" width="7.50" height="3.05" fill="#2c728e"/>
<rect x="668.70" y="191.60" width="6.50" height="3.05" fill="#86d045"/>
<rect x="506.30" y="193.65" width="26.98" height="3.05" fill="#cfcfcf"/>
<rect x="532.28" y="193.65" width="7.50" height="3.05" fill="#bad614"/>
<rect x="538.78" y="193.65" width="7.50" height="3.05" fill="#5cc863"/>
<rect x="545.28" y="193.65" width="13.99" height="3.05" fill="#21918c"/>
<rect x="558.27" y="193.65" width="7.50" height="3.05" fill="#3b528b"/>
<rect x="564.77" y="193.65" width="7.50" height="3.05" fill="#cfcfcf"/>
<rect x="571.26" y="193.65" width="7.50" height="3.05" fill="#bad614"/>
<rect x="577.76" y="193.65" width="26.98" height="3.05" fill="#cfcfcf"/>
<rect x="603.74" y="193.65" width="7.50" height="3.05" fill="#2c728e"/>
<rect x="610.24" y="193.65" width="39.98" height="3.05" fill="#cfcfcf"/>
<rect x="649.22" y="193.65" width="7.50" height="3.05" fill="#3b528b"/>
<rect x="655.71" y="193.65" width="7.50" height="3.05" fill="#cfcfcf"/>
<rect x="662.21" y="193.65" width="7.50" height="3.05" fill="#21918c"/>
<rect x="668.70" y="193.65" width="6.50" height="3.05" fill="#cfcfcf"/>
<rect x="506.30" y="195.70" width="7.50" height="3.05" fill="#3e4f8a"/>
<rect x="512.80" y="195.70" width="59.47" height="3.05" fill="#cfcfcf"/>
<rect x="571.26" y="195.70" width="7.50" height="3.05" fill="#5cc863"/>
<rect x="577.76" y="195.70" width="26.98" height="3.05" fill="#cfcfcf"/>
<rect x="603.74" y="195.70" width="7.50" height="3.05" fill="#3b528b"/>
<rect x="610.24" y="195.70" width="7.50" height="3.05" fill="#86d045"/>
<rect x="616.73" y="195.70" width="7.50" height="3.05" fill="#21918c"/>
<rect x="623.23" y="195.70" width="7.50" height="3.05" fill="#46327e"/>
<rect x="629.73" y="195.70" width="7.50" height="3.05" fill="#3b528b"/>
<rect x="636.22" y="195.70" width="13.99" height="3.05" fill="#cfcfcf"/>
<rect x="649.22" y="195.70" width="7.50" height="3.05" fill="#21918c"/>
<rect x="655.71" y="195.70" width="7.50" height="3.05" fill="#86d045"/>
<rect x="662.21" y="195.70" width="12.99" height="3.05" fill="#cfcfcf"/>
<rect x="506.30" y="197.75" width="13.99" height="3.05" fill="#cfcfcf"/>
<rect x="519.29" y="197.75" width="13.99" height="3.05" fill="#21918c"/>
<rect x="532.28" y="197.75" width="13.99" height="3.05" fill="#cfcfcf"/>
<rect x="545.28" y="197.75" width="7.50" height="3.05" fill="#3e4f8a"/>
<rect x="551.77" y="197.75" width="7.50" height="3.05" fill="#5cc863"/>
<rect x="558.27" y="197.75" width="59.47" height="3.05" fill="#cfcfcf"/>
<rect x="616.73" y="197.75" width="7.50" height="3.05" fill="#bad614"/>
<rect x="623.23" y="197.75" width="7.50" height="3.05" fill="#21918c"/>
<rect x="629.73" y="197.75" width="20.49" height="3.05" fill="#cfcfcf"/>
<rect x="649.22" y="197.75" width="7.50" height="3.05" fill="#2c728e"/>
<rect x="655.71" y="197.75" width="7.50" height="3.05" fill="#bad614"/>
<rect x="662.21" y="197.75" width="7.50" height="3.05" fill="#35b779"/>
<rect x="668.70" y="197.75" width="6.50" height="3.05" fill="#5cc863"/>
<rect x="506.30" y="199.80" width="104.94" height="3.05" fill="#cfcfcf"/>
<rect x="610.24" y="199.80" width="7.50" height="3.05" fill="#86d045"/>
<rect x="616.73" y="199.80" width="7.50" height="3.05" fill="#cfcfcf"/>
<rect x="623.23" y="199.80" width="7.50" height="3.05" fill="#3b528b"/>
<rect x="629.73" y="199.80" width="13.99" height="3.05" fill="#cfcfcf"/>
<rect x="642.72" y="199.80" width="7.50" height="3.05" fill="#35b779"/>
<rect x="649.22" y="199.80" width="13.99" height="3.05" fill="#bad614"/>
<rect x="662.21" y="199.80" width="12.99" height="3.05" fill="#cfcfcf"/>
<rect x="506.30" y="201.85" width="7.50" height="3.05" fill="#bad614"/>
<rect x="512.80" y="201.85" width="7.50" height="3.05" fill="#b1d41c"/>
<rect x="519.29" y="201.85" width="7.50" height="3.05" fill="#2c728e"/>
<rect x="525.79" y="201.85" width="7.50" height="3.05" fill="#35b779"/>
<rect x="532.28" y="201.85" width="7.50" height="3.05" fill="#b1d41c"/>
<rect x="538.78" y="201.85" width="7.50" height="3.05" fill="#5cc863"/>
<rect x="545.28" y="201.85" width="7.50" height="3.05" fill="#2c728e"/>
<rect x="551.77" y="201.85" width="7.50" height="3.05" fill="#21918c"/>
<rect x="558.27" y="201.85" width="26.98" height="3.05" fill="#35b779"/>
<rect x="584.25" y="201.85" width="7.50" height="3.05" fill="#21918c"/>
<rect x="590.75" y="201.85" width="7.50" height="3.05" fill="#bad614"/>
<rect x="597.25" y="201.85" width="7.50" height="3.05" fill="#35b779"/>
<rect x="603.74" y="201.85" width="7.50" height="3.05" fill="#2c728e"/>
<rect x="610.24" y="201.85" width="7.50" height="3.05" fill="#86d045"/>
<rect x="616.73" y="201.85" width="7.50" height="3.05" fill="#5cc863"/>
<rect x="623.23" y="201.85" width="7.50" height="3.05" fill="#21918c"/>
<rect x="629.73" y="201.85" width="7.50" height="3.05" fill="#2c728e"/>
<rect x="636.22" y="201.85" width="7.50" height="3.05" fill="#35b779"/>
<rect x="642.72" y="201.85" width="7.50" height="3.05" fill="#21918c"/>
<rect x="649.22" y="201.85" width="7.50" height="3.05" fill="#2c728e"/>
<rect x="655.71" y="201.85" width="7.50" height="3.05" fill="#bad614"/>
<rect x="662.21" y="201.85" width="7.50" height="3.05" fill="#5cc863"/>
<rect x="668.70" y="201.85" width="6.50" height="3.05" fill="#86d045"/>
<rect x="506.30" y="203.90" width="13.99" height="3.05" fill="#35b779"/>
<rect x="519.29" y="203.90" width="7.50" height="3.05" fill="#3e4f8a"/>
<rect x="525.79" y="203.90" width="7.50" height="3.05" fill="#5cc863"/>
<rect x="532.28" y="203.90" width="7.50" height="3.05" fill="#86d045"/>
<rect x="538.78" y="203.90" width="7.50" height="3.05" fill="#35b779"/>
<rect x="545.28" y="203.90" width="13.99" height="3.05" fill="#21918c"/>
<rect x="558.27" y="203.90" width="7.50" height="3.05" fill="#35b779"/>
<rect x="564.77" y="203.90" width="7.50" height="3.05" fill="#21918c"/>
<rect x="571.26" y="203.90" width="7.50" height="3.05" fill="#86d045"/>
<rect x="577.76" y="203.90" width="7.50" height="3.05" fill="#21918c"/>
<rect x="584.25" y="203.90" width="7.50" height="3.05" fill="#2c728e"/>
<rect x="590.75" y="203.90" width="7.50" height="3.05" fill="#35b779"/>
<rect x="597.25" y="203.90" width="7.50" height="3.05" fill="#bad614"/>
<rect x="603.74" y="203.90" width="7.50" height="3.05" fill="#3b528b"/>
<rect x="610.24" y="203.90" width="7.50" height="3.05" fill="#86d045"/>
<rect x="616.73" y="203.90" width="7.50" height="3.05" fill="#5cc863"/>
<rect x="623.23" y="203.90" width="7.50" height="3.05" fill="#21918c"/>
<rect x="629.73" y="203.90" width="7.50" height="3.05" fill="#3b528b"/>
<rect x="636.22" y="203.90" width="7.50" height="3.05" fill="#35b779"/>
<rect x="642.72" y="203.90" width="7.50" height="3.05" fill="#21918c"/>
<rect x="649.22" y="203.90" width="7.50" height="3.05" fill="#2c728e"/>
<rect x="655.71" y="203.90" width="7.50" height="3.05" fill="#bad614"/>
<rect x="662.21" y="203.90" width="7.50" height="3.05" fill="#21918c"/>
<rect x="668.70" y="203.90" width="6.50" height="3.05" fill="#5cc863"/>
<rect x="506.30" y="205.95" width="7.50" height="3.05" fill="#cfcfcf"/>
<rect x="512.80" y="205.95" width="7.50" height="3.05" fill="#86d045"/>
<rect x="519.29" y="205.95" width="7.50" height="3.05" fill="#3e4f8a"/>
<rect x="525.79" y="205.95" width="7.50" height="3.05" fill="#2c728e"/>
<rect x="532.28" y="205.95" width="26.98" height="3.05" fill="#cfcfcf"/>
<rect x="558.27" y="205.95" width="13.99" height="3.05" fill="#bad614"/>
<rect x="571.26" y="205.95" width="7.50" height="3.05" fill="#86d045"/>
<rect x="577.76" y="205.95" width="13.99" height="3.05" fill="#cfcfcf"/>
<rect x="590.75" y="205.95" width="7.50" height="3.05" fill="#21918c"/>
<rect x="597.25" y="205.95" width="7.50" height="3.05" fill="#bad614"/>
<rect x="603.74" y="205.95" width="7.50" height="3.05" fill="#2c728e"/>
<rect x="610.24" y="205.95" width="7.50" height="3.05" fill="#bad614"/>
<rect x="616.73" y="205.95" width="7.50" height="3.05" fill="#86d045"/>
<rect x="623.23" y="205.95" width="7.50" height="3.05" fill="#cfcfcf"/>
<rect x="629.73" y="205.95" width="7.50" height="3.05" fill="#35b779"/>
<rect x="636.22" y="205.95" width="7.50" height="3.05" fill="#bad614"/>
<rect x="642.72" y="205.95" width="7.50" height="3.05" fill="#35b779"/>
<rect x="649.22" y="205.95" width="7.50" height="3.05" fill="#5cc863"/>
<rect x="655.71" y="205.95" width="7.50" height="3.05" fill="#86d045"/>
<rect x="662.21" y="205.95" width="7.50" height="3.05" fill="#5cc863"/>
<rect x="668.70" y="205.95" width="6.50" height="3.05" fill="#cfcfcf"/>
<rect x="506.30" y="208.00" width="7.50" height="3.05" fill="#35b779"/>
<rect x="512.80" y="208.00" width="7.50" height="3.05" fill="#86d045"/>
<rect x="519.29" y="208.00" width="13.99" height="3.05" fill="#3e4f8a"/>
<rect x="532.28" y="208.00" width="7.50" height="3.05" fill="#86d045"/>
<rect x="538.78" y="208.00" width="20.49" height="3.05" fill="#bad614"/>
<rect x="558.27" y="208.00" width="7.50" height="3.05" fill="#21918c"/>
<rect x="564.77" y="208.00" width="7.50" height="3.05" fill="#46327e"/>
<rect x="571.26" y="208.00" width="7.50" height="3.05" fill="#bad614"/>
<rect x="577.76" y="208.00" width="13.99" height="3.05" fill="#5cc863"/>
<rect x="590.75" y="208.00" width="7.50" height="3.05" fill="#bad614"/>
<rect x="597.25" y="208.00" width="7.50" height="3.05" fill="#86d045"/>
<rect x="603.74" y="208.00" width="7.50" height="3.05" fill="#21918c"/>
<rect x="610.24" y="208.00" width="7.50" height="3.05" fill="#bad614"/>
<rect x="616.73" y="208.00" width="7.50" height="3.05" fill="#5cc863"/>
<rect x="623.23" y="208.00" width="7.50" height="3.05" fill="#3b528b"/>
<rect x="629.73" y="208.00" width="7.50" height="3.05" fill="#46327e"/>
<rect x="636.22" y="208.00" width="7.50" height="3.05" fill="#21918c"/>
<rect x="642.72" y="208.00" width="7.50" height="3.05" fill="#35b779"/>
<rect x="649.22" y="208.00" width="7.50" height="3.05" fill="#21918c"/>
<rect x="655.71" y="208.00" width="7.50" height="3.05" fill="#bad614"/>
<rect x="662.21" y="208.00" width="7.50" height="3.05" fill="#3b528b"/>
<rect x="668.70" y="208.00" width="6.50" height="3.05" fill="#bad614"/>
<rect x="506.30" y="210.05" width="59.47" height="3.05" fill="#cfcfcf"/>
<rect x="564.77" y="210.05" width="7.50" height="3.05" fill="#bad614"/>
<rect x="571.26" y="210.05" width="46.47" height="3.05" fill="#cfcfcf"/>
<rect x="616.73" y="210.05" width="26.98" height="3.05" fill="#5cc863"/>
<rect x="642.72" y="210.05" width="20.49" height="3.05" fill="#cfcfcf"/>
<rect x="662.21" y="210.05" width="12.99" height="3.05" fill="#bad614"/>
<rect x="506.30" y="212.10" width="7.50" height="3.05" fill="#cfcfcf"/>
<rect x="512.80" y="212.10" width="7.50" height="3.05" fill="#bad614"/>
<rect x="519.29" y="212.10" width="13.99" height="3.05" fill="#cfcfcf"/>
<rect x="532.28" y="212.10" width="72.46" height="3.05" fill="#bad614"/>
<rect x="603.74" y="212.10" width="13.99" height="3.05" fill="#cfcfcf"/>
<rect x="616.73" y="212.10" width="7.50" height="3.05" fill="#5cc863"/>
<rect x="623.23" y="212.10" width="13.99" height="3.05" fill="#86d045"/>
<rect x="636.22" y="212.10" width="7.50" height="3.05" fill="#bad614"/>
<rect x="642.72" y="212.10" width="7.50" height="3.05" fill="#86d045"/>
<rect x="649.22" y="212.10" width="25.98" height="3.05" fill="#bad614"/>
<rect x="506.30" y="214.15" width="168.90" height="3.05" fill="#cfcfcf"/>
<rect x="506.30" y="216.20" width="13.99" height="3.05" fill="#cfcfcf"/>
<rect x="519.29" y="216.20" width="13.99" height="3.05" fill="#bad614"/>
<rect x="532.28" y="216.20" width="72.46" height="3.05" fill="#cfcfcf"/>
<rect x="603.74" y="216.20" width="33.48" height="3.05" fill="#bad614"/>
<rect x="636.22" y="216.20" width="20.49" height="3.05" fill="#cfcfcf"/>
<rect x="655.71" y="216.20" width="13.99" height="3.05" fill="#bad614"/>
<rect x="668.70" y="216.20" width="6.50" height="3.05" fill="#cfcfcf"/>
<rect x="506.30" y="218.25" width="7.50" height="3.05" fill="#bad614"/>
<rect x="512.80" y="218.25" width="59.47" height="3.05" fill="#cfcfcf"/>
<rect x="571.26" y="218.25" width="7.50" height="3.05" fill="#bad614"/>
<rect x="577.76" y="218.25" width="26.98" height="3.05" fill="#cfcfcf"/>
<rect x="603.74" y="218.25" width="7.50" height="3.05" fill="#bad614"/>
<rect x="610.24" y="218.25" width="33.48" height="3.05" fill="#cfcfcf"/>
<rect x="642.72" y="218.25" width="7.50" height="3.05" fill="#bad614"/>
<rect x="649.22" y="218.25" width="7.50" height="3.05" fill="#cfcfcf"/>
<rect x="655.71" y="218.25" width="13.99" height="3.05" fill="#bad614"/>
<rect x="668.70" y="218.25" width="6.50" height="3.05" fill="#cfcfcf"/>
<rect x="506.30" y="220.30" width="65.96" height="3.05" fill="#cfcfcf"/>
<rect x="571.26" y="220.30" width="33.48" height="3.05" fill="#bad614"/>
<rect x="603.74" y="220.30" width="20.49" height="3.05" fill="#cfcfcf"/>
<rect x="623.23" y="220.30" width="39.98" height="3.05" fill="#bad614"/>
<rect x="662.21" y="220.30" width="12.99" height="3.05" fill="#cfcfcf"/>
<rect x="506.30" y="222.35" width="124.43" height="3.05" fill="#bad614"/>
<rect x="629.73" y="222.35" width="20.49" height="3.05" fill="#cfcfcf"/>
<rect x="649.22" y="222.35" width="25.98" height="3.05" fill="#bad614"/>
<rect x="506.30" y="224.40" width="59.47" height="3.05" fill="#cfcfcf"/>
<rect x="564.77" y="224.40" width="7.50" height="3.05" fill="#bad614"/>
<rect x="571.26" y="224.40" width="39.98" height="3.05" fill="#cfcfcf"/>
<rect x="610.24" y="224.40" width="20.49" height="3.05" fill="#bad614"/>
<rect x="629.73" y="224.40" width="20.49" height="3.05" fill="#cfcfcf"/>
<rect x="649.22" y="224.40" width="20.49" height="3.05" fill="#bad614"/>
<rect x="668.70" y="224.40" width="6.50" height="3.05" fill="#cfcfcf"/>
<rect x="506.30" y="226.45" width="168.90" height="3.05" fill="#cfcfcf"/>
<rect x="506.30" y="228.50" width="111.43" height="3.05" fill="#cfcfcf"/>
<rect x="616.73" y="228.50" width="7.50" height="3.05" fill="#bad614"/>
<rect x="623.23" y="228.50" width="26.98" height="3.05" fill="#cfcfcf"/>
<rect x="649.22" y="228.50" width="7.50" height="3.05" fill="#bad614"/>
<rect x="655.71" y="228.50" width="13.99" height="3.05" fill="#cfcfcf"/>
<rect x="668.70" y="228.50" width="6.50" height="3.05" fill="#bad614"/>
<rect x="506.30" y="230.55" width="111.43" height="3.05" fill="#cfcfcf"/>
<rect x="616.73" y="230.55" width="7.50" height="3.05" fill="#bad614"/>
<rect x="623.23" y="230.55" width="51.97" height="3.05" fill="#cfcfcf"/>
<rect x="506.30" y="232.60" width="26.98" height="3.05" fill="#cfcfcf"/>
<rect x="532.28" y="232.60" width="7.50" height="3.05" fill="#bad614"/>
<rect x="538.78" y="232.60" width="136.42" height="3.05" fill="#cfcfcf"/>
<rect x="506.30" y="234.65" width="13.99" height="3.05" fill="#cfcfcf"/>
<rect x="519.29" y="234.65" width="13.99" height="3.05" fill="#bad614"/>
<rect x="532.28" y="234.65" width="142.92" height="3.05" fill="#cfcfcf"/>
<rect x="506.30" y="236.70" width="52.97" height="3.05" fill="#cfcfcf"/>
<rect x="558.27" y="236.70" width="7.50" height="3.05" fill="#bad614"/>
<rect x="564.77" y="236.70" width="110.43" height="3.05" fill="#cfcfcf"/>
<rect x="506.30" y="238.75" width="13.99" height="3.05" fill="#cfcfcf"/>
<rect x="519.29" y="238.75" width="13.99" height="3.05" fill="#bad614"/>
<rect x="532.28" y="238.75" width="91.95" height="3.05" fill="#cfcfcf"/>
<rect x="623.23" y="238.75" width="20.49" height="3.05" fill="#bad614"/>
<rect x="642.72" y="238.75" width="7.50" height="3.05" fill="#cfcfcf"/>
<rect x="649.22" y="238.75" width="7.50" height="3.05" fill="#bad614"/>
<rect x="655.71" y="238.75" width="19.49" height="3.05" fill="#cfcfcf"/>
<rect x="506.30" y="240.80" width="104.94" height="2.05" fill="#cfcfcf"/>
<rect x="610.24" y="240.80" width="7.50" height="2.05" fill="#bad614"/>
<rect x="616.73" y="240.80" width="7.50" height="2.05" fill="#cfcfcf"/>
<rect x="623.23" y="240.80" width="7.50" height="2.05" fill="#bad614"/>
<rect x="629.73" y="240.80" width="7.50" height="2.05" fill="#5cc863"/>
<rect x="636.22" y="240.80" width="7.50" height="2.05" fill="#bad614"/>
<rect x="642.72" y="240.80" width="7.50" height="2.05" fill="#cfcfcf"/>
<rect x="649.22" y="240.80" width="13.99" height="2.05" fill="#bad614"/>
<rect x="662.21" y="240.80" width="12.99" height="2.05" fill="#cfcfcf"/>
<line x1="675.3" y1="192.62" x2="676.2" y2="192.62" stroke="#333" stroke-width="0.35"/>
<text x="676.9" y="193.43" font-size="2.3" font-weight="bold" fill="#111" font-family="Liberation Sans, sans-serif">GFL</text>
<line x1="675.3" y1="194.67" x2="676.2" y2="194.67" stroke="#333" stroke-width="0.35"/>
<text x="676.9" y="195.47" font-size="2.3" font-weight="bold" fill="#111" font-family="Liberation Sans, sans-serif">Sub</text>
<line x1="675.3" y1="196.72" x2="676.2" y2="196.72" stroke="#333" stroke-width="0.35"/>
<text x="676.9" y="197.53" font-size="2.3" font-weight="bold" fill="#111" font-family="Liberation Sans, sans-serif">SG</text>
<line x1="675.3" y1="198.78" x2="676.2" y2="198.78" stroke="#333" stroke-width="0.35"/>
<text x="676.9" y="199.58" font-size="2.3" font-weight="bold" fill="#111" font-family="Liberation Sans, sans-serif">OLl</text>
<line x1="675.3" y1="200.82" x2="676.2" y2="200.82" stroke="#333" stroke-width="0.35"/>
<text x="676.9" y="201.62" font-size="2.3" font-weight="bold" fill="#111" font-family="Liberation Sans, sans-serif">OLb</text>
<line x1="675.3" y1="202.88" x2="676.2" y2="202.88" stroke="#333" stroke-width="0.35"/>
<text x="676.9" y="203.68" font-size="2.3" font-weight="bold" fill="#111" font-family="Liberation Sans, sans-serif">SbL</text>
<line x1="675.3" y1="204.92" x2="676.2" y2="204.92" stroke="#333" stroke-width="0.35"/>
<text x="676.9" y="205.72" font-size="2.3" font-weight="bold" fill="#111" font-family="Liberation Sans, sans-serif">Sup</text>
<line x1="675.3" y1="206.97" x2="676.2" y2="206.97" stroke="#333" stroke-width="0.35"/>
<text x="676.9" y="207.78" font-size="2.3" font-weight="bold" fill="#111" font-family="Liberation Sans, sans-serif">VL</text>
<line x1="675.3" y1="209.02" x2="676.2" y2="209.02" stroke="#333" stroke-width="0.35"/>
<text x="676.9" y="209.82" font-size="2.3" font-weight="bold" fill="#111" font-family="Liberation Sans, sans-serif">BL</text>
<line x1="675.3" y1="211.07" x2="676.2" y2="211.07" stroke="#333" stroke-width="0.35"/>
<text x="676.9" y="211.88" font-size="2.3" font-weight="bold" fill="#111" font-family="Liberation Sans, sans-serif">ANC</text>
<line x1="675.3" y1="213.12" x2="676.2" y2="213.12" stroke="#333" stroke-width="0.35"/>
<text x="676.9" y="213.93" font-size="2.3" font-weight="bold" fill="#111" font-family="Liberation Sans, sans-serif">Ret</text>
<line x1="675.3" y1="215.17" x2="676.2" y2="215.17" stroke="#333" stroke-width="0.35"/>
<text x="676.9" y="215.97" font-size="2.3" font-weight="bold" fill="#111" font-family="Liberation Sans, sans-serif">BM</text>
<line x1="675.3" y1="217.22" x2="676.2" y2="217.22" stroke="#333" stroke-width="0.35"/>
<text x="676.9" y="218.03" font-size="2.3" font-weight="bold" fill="#111" font-family="Liberation Sans, sans-serif">DG</text>
<line x1="675.3" y1="219.27" x2="676.2" y2="219.27" stroke="#333" stroke-width="0.35"/>
<text x="676.9" y="220.07" font-size="2.3" font-weight="bold" fill="#111" font-family="Liberation Sans, sans-serif">Hep</text>
<line x1="675.3" y1="221.32" x2="676.2" y2="221.32" stroke="#333" stroke-width="0.35"/>
<text x="676.9" y="222.12" font-size="2.3" font-weight="bold" fill="#111" font-family="Liberation Sans, sans-serif">NPC</text>
<line x1="675.3" y1="223.38" x2="676.2" y2="223.38" stroke="#333" stroke-width="0.35"/>
<text x="676.9" y="224.18" font-size="2.3" font-weight="bold" fill="#111" font-family="Liberation Sans, sans-serif">Tes</text>
<line x1="675.3" y1="225.42" x2="676.2" y2="225.42" stroke="#333" stroke-width="0.35"/>
<text x="676.9" y="226.22" font-size="2.3" font-weight="bold" fill="#111" font-family="Liberation Sans, sans-serif">Ov</text>
<line x1="675.3" y1="227.47" x2="676.2" y2="227.47" stroke="#333" stroke-width="0.35"/>
<text x="676.9" y="228.28" font-size="2.3" font-weight="bold" fill="#111" font-family="Liberation Sans, sans-serif">Nid</text>
<line x1="675.3" y1="229.52" x2="676.2" y2="229.52" stroke="#333" stroke-width="0.35"/>
<text x="676.9" y="230.32" font-size="2.3" font-weight="bold" fill="#111" font-family="Liberation Sans, sans-serif">Man</text>
<line x1="675.3" y1="231.57" x2="676.2" y2="231.57" stroke="#333" stroke-width="0.35"/>
<text x="676.9" y="232.38" font-size="2.3" font-weight="bold" fill="#111" font-family="Liberation Sans, sans-serif">Hrt</text>
<line x1="675.3" y1="233.62" x2="676.2" y2="233.62" stroke="#333" stroke-width="0.35"/>
<text x="676.9" y="234.43" font-size="2.3" font-weight="bold" fill="#111" font-family="Liberation Sans, sans-serif">MHC</text>
<line x1="675.3" y1="235.67" x2="676.2" y2="235.67" stroke="#333" stroke-width="0.35"/>
<text x="676.9" y="236.47" font-size="2.3" font-weight="bold" fill="#111" font-family="Liberation Sans, sans-serif">Gl</text>
<line x1="675.3" y1="237.72" x2="676.2" y2="237.72" stroke="#333" stroke-width="0.35"/>
<text x="676.9" y="238.53" font-size="2.3" font-weight="bold" fill="#111" font-family="Liberation Sans, sans-serif">Kid</text>
<line x1="675.3" y1="239.77" x2="676.2" y2="239.77" stroke="#333" stroke-width="0.35"/>
<text x="676.9" y="240.57" font-size="2.3" font-weight="bold" fill="#111" font-family="Liberation Sans, sans-serif">Ten</text>
<line x1="675.3" y1="241.82" x2="676.2" y2="241.82" stroke="#333" stroke-width="0.35"/>
<text x="676.9" y="242.62" font-size="2.3" font-weight="bold" fill="#111" font-family="Liberation Sans, sans-serif">Suc</text>
<line x1="675.3" y1="182.40" x2="676.2" y2="182.40" stroke="#333" stroke-width="0.35"/>
<text x="676.9" y="183.20" font-size="2.3" font-weight="bold" fill="#111" font-family="Liberation Sans, sans-serif">position</text>
<line x1="675.3" y1="184.50" x2="676.2" y2="184.50" stroke="#333" stroke-width="0.35"/>
<text x="676.9" y="185.30" font-size="2.3" font-weight="bold" fill="#111" font-family="Liberation Sans, sans-serif">domain</text>
<line x1="675.3" y1="188.60" x2="676.2" y2="188.60" stroke="#333" stroke-width="0.35"/>
<text x="676.9" y="189.40" font-size="2.3" font-weight="bold" fill="#111" font-family="Liberation Sans, sans-serif">aa_change</text>
<line x1="675.3" y1="190.60" x2="676.2" y2="190.60" stroke="#333" stroke-width="0.35"/>
<text x="676.9" y="191.40" font-size="2.3" font-weight="bold" fill="#111" font-family="Liberation Sans, sans-serif">effect</text>
<line x1="509.55" y1="242.85" x2="509.55" y2="243.85" stroke="#333" stroke-width="0.4"/>
<text transform="translate(509.75,245.15) rotate(-45)" text-anchor="end" font-size="2.2" font-weight="bold" fill="#44b044" font-family="Liberation Sans, sans-serif">E_1000</text>
<line x1="516.04" y1="242.85" x2="516.04" y2="243.85" stroke="#333" stroke-width="0.4"/>
<text transform="translate(516.24,245.15) rotate(-45)" text-anchor="end" font-size="2.2" font-weight="bold" fill="#d82424" font-family="Liberation Sans, sans-serif">E_1137</text>
<line x1="522.54" y1="242.85" x2="522.54" y2="243.85" stroke="#333" stroke-width="0.4"/>
<text transform="translate(522.74,245.15) rotate(-45)" text-anchor="end" font-size="2.2" font-weight="bold" fill="#d82424" font-family="Liberation Sans, sans-serif">E_1274</text>
<line x1="529.04" y1="242.85" x2="529.04" y2="243.85" stroke="#333" stroke-width="0.4"/>
<text transform="translate(529.24,245.15) rotate(-45)" text-anchor="end" font-size="2.2" font-weight="bold" fill="#d82424" font-family="Liberation Sans, sans-serif">E_1411</text>
<line x1="535.53" y1="242.85" x2="535.53" y2="243.85" stroke="#333" stroke-width="0.4"/>
<text transform="translate(535.73,245.15) rotate(-45)" text-anchor="end" font-size="2.2" font-weight="bold" fill="#d82424" font-family="Liberation Sans, sans-serif">E_1548</text>
<line x1="542.03" y1="242.85" x2="542.03" y2="243.85" stroke="#333" stroke-width="0.4"/>
<text transform="translate(542.23,245.15) rotate(-45)" text-anchor="end" font-size="2.2" font-weight="bold" fill="#d82424" font-family="Liberation Sans, sans-serif">E_1685</text>
<line x1="548.52" y1="242.85" x2="548.52" y2="243.85" stroke="#333" stroke-width="0.4"/>
<text transform="translate(548.73,245.15) rotate(-45)" text-anchor="end" font-size="2.2" font-weight="bold" fill="#d82424" font-family="Liberation Sans, sans-serif">E_1822</text>
<line x1="555.02" y1="242.85" x2="555.02" y2="243.85" stroke="#333" stroke-width="0.4"/>
<text transform="translate(555.22,245.15) rotate(-45)" text-anchor="end" font-size="2.2" font-weight="bold" fill="#f2b24e" font-family="Liberation Sans, sans-serif">E_1959</text>
<line x1="561.52" y1="242.85" x2="561.52" y2="243.85" stroke="#333" stroke-width="0.4"/>
<text transform="translate(561.72,245.15) rotate(-45)" text-anchor="end" font-size="2.2" font-weight="bold" fill="#d82424" font-family="Liberation Sans, sans-serif">E_2096</text>
<line x1="568.01" y1="242.85" x2="568.01" y2="243.85" stroke="#333" stroke-width="0.4"/>
<text transform="translate(568.21,245.15) rotate(-45)" text-anchor="end" font-size="2.2" font-weight="bold" fill="#d82424" font-family="Liberation Sans, sans-serif">E_2233</text>
<line x1="574.51" y1="242.85" x2="574.51" y2="243.85" stroke="#333" stroke-width="0.4"/>
<text transform="translate(574.71,245.15) rotate(-45)" text-anchor="end" font-size="2.2" font-weight="bold" fill="#d82424" font-family="Liberation Sans, sans-serif">E_2370</text>
<line x1="581.01" y1="242.85" x2="581.01" y2="243.85" stroke="#333" stroke-width="0.4"/>
<text transform="translate(581.21,245.15) rotate(-45)" text-anchor="end" font-size="2.2" font-weight="bold" fill="#d82424" font-family="Liberation Sans, sans-serif">E_2507</text>
<line x1="587.50" y1="242.85" x2="587.50" y2="243.85" stroke="#333" stroke-width="0.4"/>
<text transform="translate(587.70,245.15) rotate(-45)" text-anchor="end" font-size="2.2" font-weight="bold" fill="#f2b24e" font-family="Liberation Sans, sans-serif">E_2644</text>
<line x1="594.00" y1="242.85" x2="594.00" y2="243.85" stroke="#333" stroke-width="0.4"/>
<text transform="translate(594.20,245.15) rotate(-45)" text-anchor="end" font-size="2.2" font-weight="bold" fill="#d82424" font-family="Liberation Sans, sans-serif">E_2781</text>
<line x1="600.49" y1="242.85" x2="600.49" y2="243.85" stroke="#333" stroke-width="0.4"/>
<text transform="translate(600.69,245.15) rotate(-45)" text-anchor="end" font-size="2.2" font-weight="bold" fill="#d82424" font-family="Liberation Sans, sans-serif">E_2918</text>
<line x1="606.99" y1="242.85" x2="606.99" y2="243.85" stroke="#333" stroke-width="0.4"/>
<text transform="translate(607.19,245.15) rotate(-45)" text-anchor="end" font-size="2.2" font-weight="bold" fill="#d82424" font-family="Liberation Sans, sans-serif">E_3055</text>
<line x1="613.49" y1="242.85" x2="613.49" y2="243.85" stroke="#333" stroke-width="0.4"/>
<text transform="translate(613.69,245.15) rotate(-45)" text-anchor="end" font-size="2.2" font-weight="bold" fill="#d82424" font-family="Liberation Sans, sans-serif">E_3192</text>
<line x1="619.98" y1="242.85" x2="619.98" y2="243.85" stroke="#333" stroke-width="0.4"/>
<text transform="translate(620.18,245.15) rotate(-45)" text-anchor="end" font-size="2.2" font-weight="bold" fill="#d82424" font-family="Liberation Sans, sans-serif">E_3329</text>
<line x1="626.48" y1="242.85" x2="626.48" y2="243.85" stroke="#333" stroke-width="0.4"/>
<text transform="translate(626.68,245.15) rotate(-45)" text-anchor="end" font-size="2.2" font-weight="bold" fill="#d82424" font-family="Liberation Sans, sans-serif">E_3466</text>
<line x1="632.98" y1="242.85" x2="632.98" y2="243.85" stroke="#333" stroke-width="0.4"/>
<text transform="translate(633.18,245.15) rotate(-45)" text-anchor="end" font-size="2.2" font-weight="bold" fill="#d82424" font-family="Liberation Sans, sans-serif">E_3603</text>
<line x1="639.47" y1="242.85" x2="639.47" y2="243.85" stroke="#333" stroke-width="0.4"/>
<text transform="translate(639.67,245.15) rotate(-45)" text-anchor="end" font-size="2.2" font-weight="bold" fill="#d82424" font-family="Liberation Sans, sans-serif">E_3740</text>
<line x1="645.97" y1="242.85" x2="645.97" y2="243.85" stroke="#333" stroke-width="0.4"/>
<text transform="translate(646.17,245.15) rotate(-45)" text-anchor="end" font-size="2.2" font-weight="bold" fill="#f2b24e" font-family="Liberation Sans, sans-serif">E_3877</text>
<line x1="652.46" y1="242.85" x2="652.46" y2="243.85" stroke="#333" stroke-width="0.4"/>
<text transform="translate(652.66,245.15) rotate(-45)" text-anchor="end" font-size="2.2" font-weight="bold" fill="#d82424" font-family="Liberation Sans, sans-serif">E_4014</text>
<line x1="658.96" y1="242.85" x2="658.96" y2="243.85" stroke="#333" stroke-width="0.4"/>
<text transform="translate(659.16,245.15) rotate(-45)" text-anchor="end" font-size="2.2" font-weight="bold" fill="#d82424" font-family="Liberation Sans, sans-serif">E_4151</text>
<line x1="665.46" y1="242.85" x2="665.46" y2="243.85" stroke="#333" stroke-width="0.4"/>
<text transform="translate(665.66,245.15) rotate(-45)" text-anchor="end" font-size="2.2" font-weight="bold" fill="#f2b24e" font-family="Liberation Sans, sans-serif">E_4288</text>
<line x1="671.95" y1="242.85" x2="671.95" y2="243.85" stroke="#333" stroke-width="0.4"/>
<text transform="translate(672.15,245.15) rotate(-45)" text-anchor="end" font-size="2.2" font-weight="bold" fill="#b266d6" font-family="Liberation Sans, sans-serif">E_4425</text>
</svg>
</body></html>
